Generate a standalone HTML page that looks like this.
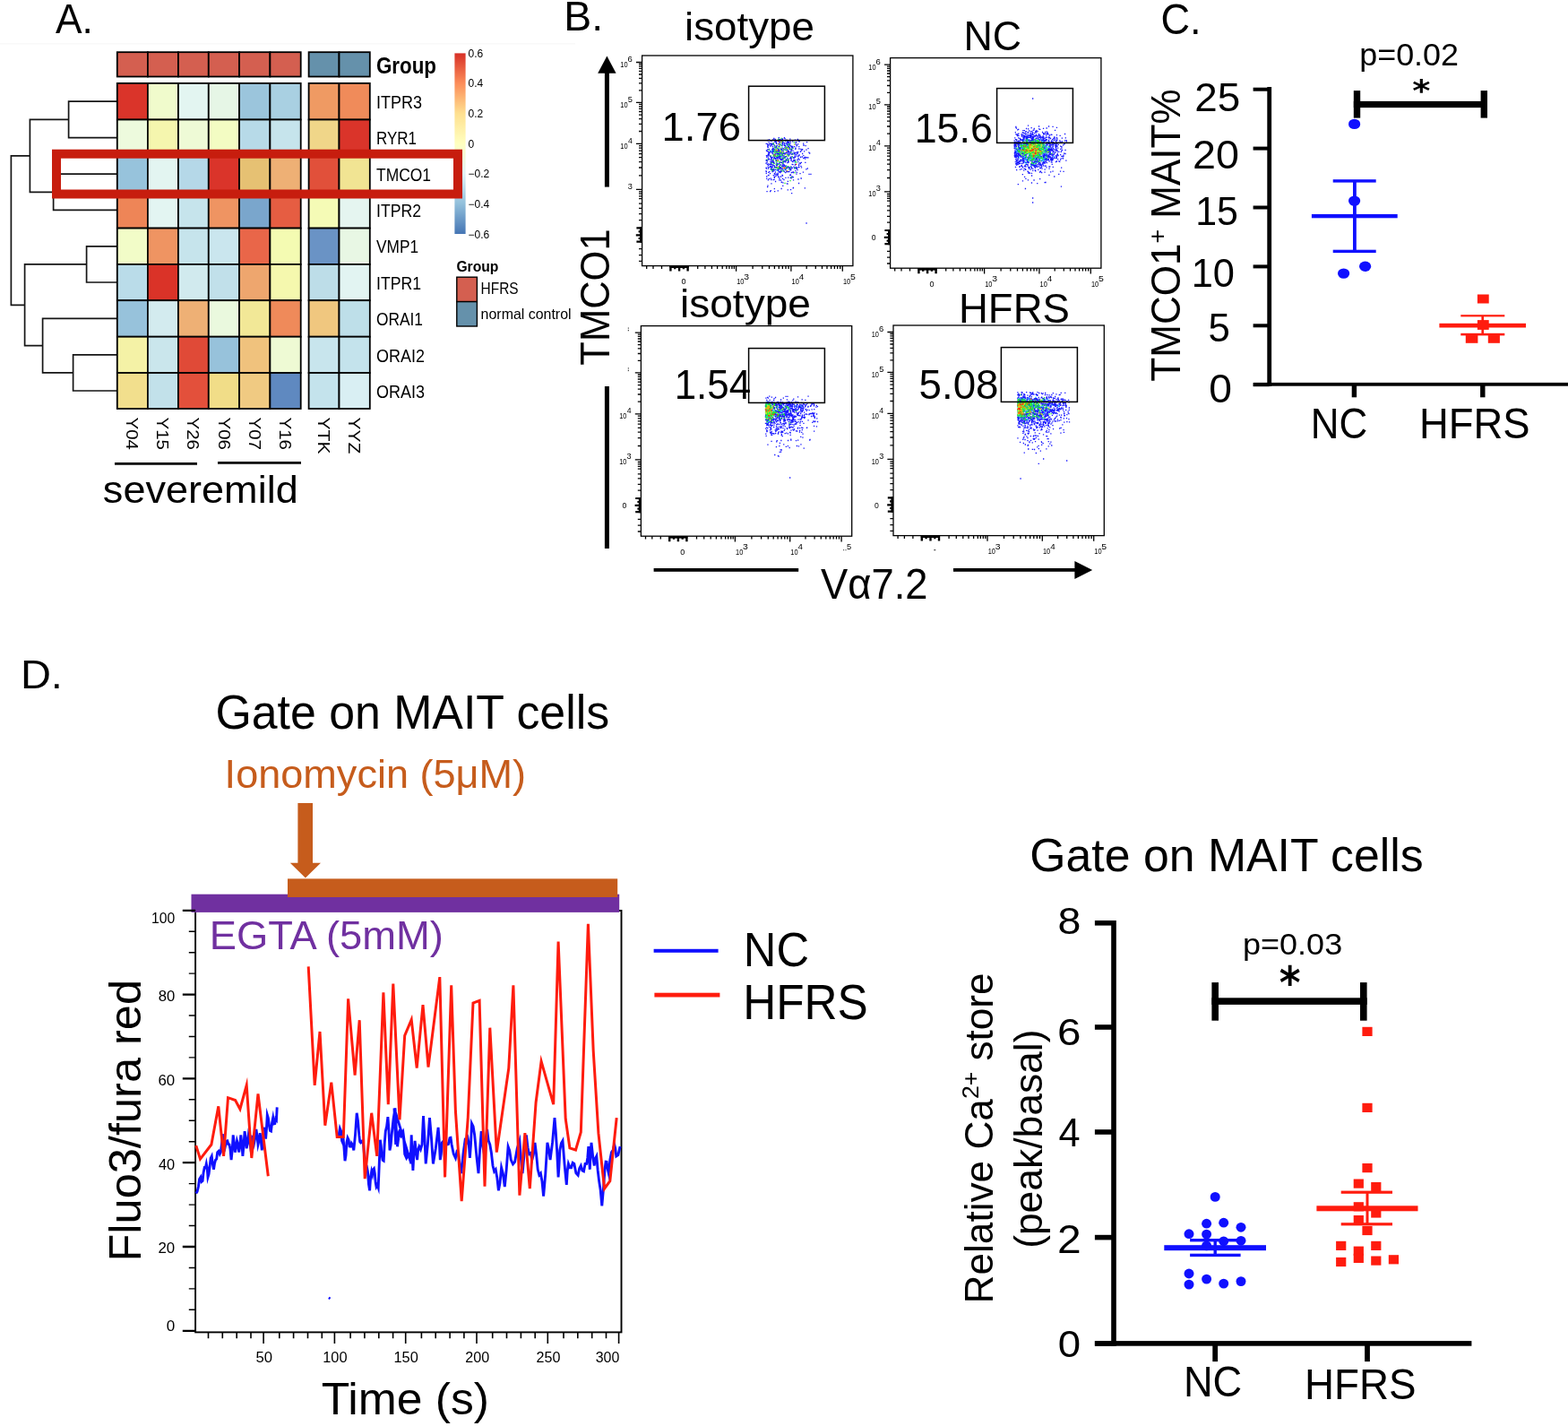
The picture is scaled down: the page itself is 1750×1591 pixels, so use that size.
<!DOCTYPE html>
<html lang="en">
<head>
<meta charset="utf-8">
<title>Figure</title>
<style>
html,body{margin:0;padding:0;background:#fff;}
body{width:1750px;height:1591px;overflow:hidden;}
svg{display:block;font-family:"Liberation Sans", Arial, sans-serif;}
</style>
</head>
<body>
<svg width="1750" height="1591" viewBox="0 0 1750 1591">
<rect width="1750" height="1591" fill="#fff"/>
<g id="panelA">
<rect x="0.0" y="48.0" width="642.0" height="1.6" fill="#f9f9f9"/>
<text x="62.00" y="36.57" font-size="45.76" textLength="41.89" lengthAdjust="spacingAndGlyphs">A.</text>
<path d="M76.6 113.2V153.7M76.6 113.2H130.8M76.6 153.7H130.8M59.6 194.1V234.4M59.6 194.1H130.8M59.6 234.4H130.8M33.4 133.4V214.3M33.4 133.4H76.6M33.4 214.3H59.6M96.6 274.8V315.0M96.6 274.8H130.8M96.6 315.0H130.8M81.6 395.9V436.0M81.6 395.9H130.8M81.6 436.0H130.8M47.6 355.4V415.9M47.6 355.4H130.8M47.6 415.9H81.6M27.6 294.9V385.7M27.6 294.9H96.6M27.6 385.7H47.6M12.4 173.9V340.3M12.4 173.9H33.4M12.4 340.3H27.6" fill="none" stroke="#151515" stroke-width="1.7" stroke-linecap="square"/>
<rect x="130.8" y="58.2" width="34.1" height="27.3" fill="#D45F50" stroke="#000" stroke-width="1.8"/>
<rect x="164.9" y="58.2" width="34.0" height="27.3" fill="#D45F50" stroke="#000" stroke-width="1.8"/>
<rect x="198.9" y="58.2" width="33.9" height="27.3" fill="#D45F50" stroke="#000" stroke-width="1.8"/>
<rect x="232.8" y="58.2" width="34.3" height="27.3" fill="#D45F50" stroke="#000" stroke-width="1.8"/>
<rect x="267.1" y="58.2" width="34.3" height="27.3" fill="#D45F50" stroke="#000" stroke-width="1.8"/>
<rect x="301.4" y="58.2" width="34.3" height="27.3" fill="#D45F50" stroke="#000" stroke-width="1.8"/>
<rect x="344.6" y="58.2" width="33.9" height="27.3" fill="#6591AB" stroke="#000" stroke-width="1.8"/>
<rect x="378.5" y="58.2" width="34.3" height="27.3" fill="#6591AB" stroke="#000" stroke-width="1.8"/>
<rect x="130.8" y="92.9" width="34.1" height="40.6" fill="#DA342A" stroke="#000" stroke-width="1.8"/>
<rect x="164.9" y="92.9" width="34.0" height="40.6" fill="#F0FBCC" stroke="#000" stroke-width="1.8"/>
<rect x="198.9" y="92.9" width="33.9" height="40.6" fill="#E3F5F1" stroke="#000" stroke-width="1.8"/>
<rect x="232.8" y="92.9" width="34.3" height="40.6" fill="#E6F6E6" stroke="#000" stroke-width="1.8"/>
<rect x="267.1" y="92.9" width="34.3" height="40.6" fill="#9BC5DC" stroke="#000" stroke-width="1.8"/>
<rect x="301.4" y="92.9" width="34.3" height="40.6" fill="#A9D0E2" stroke="#000" stroke-width="1.8"/>
<rect x="344.6" y="92.9" width="33.9" height="40.6" fill="#EF9A63" stroke="#000" stroke-width="1.8"/>
<rect x="378.5" y="92.9" width="34.3" height="40.6" fill="#F08B5A" stroke="#000" stroke-width="1.8"/>
<rect x="130.8" y="133.5" width="34.1" height="40.4" fill="#EDFADD" stroke="#000" stroke-width="1.8"/>
<rect x="164.9" y="133.5" width="34.0" height="40.4" fill="#F5F6AE" stroke="#000" stroke-width="1.8"/>
<rect x="198.9" y="133.5" width="33.9" height="40.4" fill="#EEFAD6" stroke="#000" stroke-width="1.8"/>
<rect x="232.8" y="133.5" width="34.3" height="40.4" fill="#F3FCC3" stroke="#000" stroke-width="1.8"/>
<rect x="267.1" y="133.5" width="34.3" height="40.4" fill="#B7DAE8" stroke="#000" stroke-width="1.8"/>
<rect x="301.4" y="133.5" width="34.3" height="40.4" fill="#C6E4EC" stroke="#000" stroke-width="1.8"/>
<rect x="344.6" y="133.5" width="33.9" height="40.4" fill="#F0D689" stroke="#000" stroke-width="1.8"/>
<rect x="378.5" y="133.5" width="34.3" height="40.4" fill="#DA342A" stroke="#000" stroke-width="1.8"/>
<rect x="130.8" y="173.9" width="34.1" height="40.4" fill="#97C3DC" stroke="#000" stroke-width="1.8"/>
<rect x="164.9" y="173.9" width="34.0" height="40.4" fill="#E3F5F1" stroke="#000" stroke-width="1.8"/>
<rect x="198.9" y="173.9" width="33.9" height="40.4" fill="#B5D8E8" stroke="#000" stroke-width="1.8"/>
<rect x="232.8" y="173.9" width="34.3" height="40.4" fill="#DA342A" stroke="#000" stroke-width="1.8"/>
<rect x="267.1" y="173.9" width="34.3" height="40.4" fill="#E6C173" stroke="#000" stroke-width="1.8"/>
<rect x="301.4" y="173.9" width="34.3" height="40.4" fill="#EEB075" stroke="#000" stroke-width="1.8"/>
<rect x="344.6" y="173.9" width="33.9" height="40.4" fill="#E1503A" stroke="#000" stroke-width="1.8"/>
<rect x="378.5" y="173.9" width="34.3" height="40.4" fill="#F1E493" stroke="#000" stroke-width="1.8"/>
<rect x="130.8" y="214.3" width="34.1" height="40.3" fill="#EE8557" stroke="#000" stroke-width="1.8"/>
<rect x="164.9" y="214.3" width="34.0" height="40.3" fill="#E3F5F2" stroke="#000" stroke-width="1.8"/>
<rect x="198.9" y="214.3" width="33.9" height="40.3" fill="#C6E4EC" stroke="#000" stroke-width="1.8"/>
<rect x="232.8" y="214.3" width="34.3" height="40.3" fill="#EF9462" stroke="#000" stroke-width="1.8"/>
<rect x="267.1" y="214.3" width="34.3" height="40.3" fill="#7AA6CC" stroke="#000" stroke-width="1.8"/>
<rect x="301.4" y="214.3" width="34.3" height="40.3" fill="#E65D42" stroke="#000" stroke-width="1.8"/>
<rect x="344.6" y="214.3" width="33.9" height="40.3" fill="#F5FBB6" stroke="#000" stroke-width="1.8"/>
<rect x="378.5" y="214.3" width="34.3" height="40.3" fill="#E5F5F0" stroke="#000" stroke-width="1.8"/>
<rect x="130.8" y="254.6" width="34.1" height="40.3" fill="#F2FCC8" stroke="#000" stroke-width="1.8"/>
<rect x="164.9" y="254.6" width="34.0" height="40.3" fill="#EF9462" stroke="#000" stroke-width="1.8"/>
<rect x="198.9" y="254.6" width="33.9" height="40.3" fill="#C6E4EC" stroke="#000" stroke-width="1.8"/>
<rect x="232.8" y="254.6" width="34.3" height="40.3" fill="#CAE6EE" stroke="#000" stroke-width="1.8"/>
<rect x="267.1" y="254.6" width="34.3" height="40.3" fill="#E96649" stroke="#000" stroke-width="1.8"/>
<rect x="301.4" y="254.6" width="34.3" height="40.3" fill="#F4FBB2" stroke="#000" stroke-width="1.8"/>
<rect x="344.6" y="254.6" width="33.9" height="40.3" fill="#6A93C5" stroke="#000" stroke-width="1.8"/>
<rect x="378.5" y="254.6" width="34.3" height="40.3" fill="#E8F7E4" stroke="#000" stroke-width="1.8"/>
<rect x="130.8" y="294.9" width="34.1" height="40.3" fill="#BADCE9" stroke="#000" stroke-width="1.8"/>
<rect x="164.9" y="294.9" width="34.0" height="40.3" fill="#DA3328" stroke="#000" stroke-width="1.8"/>
<rect x="198.9" y="294.9" width="33.9" height="40.3" fill="#D1EAEE" stroke="#000" stroke-width="1.8"/>
<rect x="232.8" y="294.9" width="34.3" height="40.3" fill="#C1E0EA" stroke="#000" stroke-width="1.8"/>
<rect x="267.1" y="294.9" width="34.3" height="40.3" fill="#EEA66E" stroke="#000" stroke-width="1.8"/>
<rect x="301.4" y="294.9" width="34.3" height="40.3" fill="#F5F8AE" stroke="#000" stroke-width="1.8"/>
<rect x="344.6" y="294.9" width="33.9" height="40.3" fill="#BDDDE8" stroke="#000" stroke-width="1.8"/>
<rect x="378.5" y="294.9" width="34.3" height="40.3" fill="#E2F4F2" stroke="#000" stroke-width="1.8"/>
<rect x="130.8" y="335.2" width="34.1" height="40.5" fill="#97C2DB" stroke="#000" stroke-width="1.8"/>
<rect x="164.9" y="335.2" width="34.0" height="40.5" fill="#D3EBEF" stroke="#000" stroke-width="1.8"/>
<rect x="198.9" y="335.2" width="33.9" height="40.5" fill="#EEB075" stroke="#000" stroke-width="1.8"/>
<rect x="232.8" y="335.2" width="34.3" height="40.5" fill="#EAF9DE" stroke="#000" stroke-width="1.8"/>
<rect x="267.1" y="335.2" width="34.3" height="40.5" fill="#F2E897" stroke="#000" stroke-width="1.8"/>
<rect x="301.4" y="335.2" width="34.3" height="40.5" fill="#EF8A5A" stroke="#000" stroke-width="1.8"/>
<rect x="344.6" y="335.2" width="33.9" height="40.5" fill="#F0C77F" stroke="#000" stroke-width="1.8"/>
<rect x="378.5" y="335.2" width="34.3" height="40.5" fill="#BEDFE9" stroke="#000" stroke-width="1.8"/>
<rect x="130.8" y="375.7" width="34.1" height="40.3" fill="#F4F2A6" stroke="#000" stroke-width="1.8"/>
<rect x="164.9" y="375.7" width="34.0" height="40.3" fill="#CAE6EC" stroke="#000" stroke-width="1.8"/>
<rect x="198.9" y="375.7" width="33.9" height="40.3" fill="#E04A37" stroke="#000" stroke-width="1.8"/>
<rect x="232.8" y="375.7" width="34.3" height="40.3" fill="#97C2DB" stroke="#000" stroke-width="1.8"/>
<rect x="267.1" y="375.7" width="34.3" height="40.3" fill="#F0C27D" stroke="#000" stroke-width="1.8"/>
<rect x="301.4" y="375.7" width="34.3" height="40.3" fill="#EEFAD4" stroke="#000" stroke-width="1.8"/>
<rect x="344.6" y="375.7" width="33.9" height="40.3" fill="#C8E5ED" stroke="#000" stroke-width="1.8"/>
<rect x="378.5" y="375.7" width="34.3" height="40.3" fill="#C4E3EC" stroke="#000" stroke-width="1.8"/>
<rect x="130.8" y="416.0" width="34.1" height="40.0" fill="#F2DF8D" stroke="#000" stroke-width="1.8"/>
<rect x="164.9" y="416.0" width="34.0" height="40.0" fill="#C2E1EA" stroke="#000" stroke-width="1.8"/>
<rect x="198.9" y="416.0" width="33.9" height="40.0" fill="#E3503B" stroke="#000" stroke-width="1.8"/>
<rect x="232.8" y="416.0" width="34.3" height="40.0" fill="#F1DD88" stroke="#000" stroke-width="1.8"/>
<rect x="267.1" y="416.0" width="34.3" height="40.0" fill="#F0CA82" stroke="#000" stroke-width="1.8"/>
<rect x="301.4" y="416.0" width="34.3" height="40.0" fill="#5F89C0" stroke="#000" stroke-width="1.8"/>
<rect x="344.6" y="416.0" width="33.9" height="40.0" fill="#C4E3EC" stroke="#000" stroke-width="1.8"/>
<rect x="378.5" y="416.0" width="34.3" height="40.0" fill="#D9EFF3" stroke="#000" stroke-width="1.8"/>
<text x="420.0" y="81.6" font-size="25" font-weight="bold" textLength="67.0" lengthAdjust="spacingAndGlyphs">Group</text>
<text x="420.0" y="120.8" font-size="21" textLength="51.0" lengthAdjust="spacingAndGlyphs">ITPR3</text>
<text x="420.0" y="161.3" font-size="21" textLength="45.0" lengthAdjust="spacingAndGlyphs">RYR1</text>
<text x="420.0" y="201.7" font-size="21" textLength="61.0" lengthAdjust="spacingAndGlyphs">TMCO1</text>
<text x="420.0" y="242.0" font-size="21" textLength="50.0" lengthAdjust="spacingAndGlyphs">ITPR2</text>
<text x="420.0" y="282.4" font-size="21" textLength="47.0" lengthAdjust="spacingAndGlyphs">VMP1</text>
<text x="420.0" y="322.6" font-size="21" textLength="50.0" lengthAdjust="spacingAndGlyphs">ITPR1</text>
<text x="420.0" y="363.1" font-size="21" textLength="52.0" lengthAdjust="spacingAndGlyphs">ORAI1</text>
<text x="420.0" y="403.5" font-size="21" textLength="54.0" lengthAdjust="spacingAndGlyphs">ORAI2</text>
<text x="420.0" y="443.6" font-size="21" textLength="54.0" lengthAdjust="spacingAndGlyphs">ORAI3</text>
<text x="141.4" y="465.5" font-size="18" textLength="36.5" lengthAdjust="spacingAndGlyphs" transform="rotate(90 141.4 465.5)">Y04</text>
<text x="175.4" y="465.5" font-size="18" textLength="36.5" lengthAdjust="spacingAndGlyphs" transform="rotate(90 175.4 465.5)">Y15</text>
<text x="209.4" y="465.5" font-size="18" textLength="36.5" lengthAdjust="spacingAndGlyphs" transform="rotate(90 209.4 465.5)">Y26</text>
<text x="243.5" y="465.5" font-size="18" textLength="36.5" lengthAdjust="spacingAndGlyphs" transform="rotate(90 243.5 465.5)">Y06</text>
<text x="277.8" y="465.5" font-size="18" textLength="36.5" lengthAdjust="spacingAndGlyphs" transform="rotate(90 277.8 465.5)">Y07</text>
<text x="312.0" y="465.5" font-size="18" textLength="36.5" lengthAdjust="spacingAndGlyphs" transform="rotate(90 312.0 465.5)">Y16</text>
<text x="355.1" y="465.5" font-size="18" textLength="41.0" lengthAdjust="spacingAndGlyphs" transform="rotate(90 355.1 465.5)">YTK</text>
<text x="389.1" y="465.5" font-size="18" textLength="41.0" lengthAdjust="spacingAndGlyphs" transform="rotate(90 389.1 465.5)">YYZ</text>
<defs><linearGradient id="cb" x1="0" y1="0" x2="0" y2="1"><stop offset="0" stop-color="#D73027"/><stop offset="0.1667" stop-color="#FC8D59"/><stop offset="0.3333" stop-color="#FEE090"/><stop offset="0.5" stop-color="#FFFFBF"/><stop offset="0.6667" stop-color="#E0F3F8"/><stop offset="0.8333" stop-color="#91BFDB"/><stop offset="1" stop-color="#4575B4"/></linearGradient></defs>
<rect x="507.4" y="59.4" width="12.2" height="201.6" fill="url(#cb)"/>
<text x="522.6" y="63.8" font-size="12">0.6</text>
<text x="522.6" y="97.4" font-size="12">0.4</text>
<text x="522.6" y="131.1" font-size="12">0.2</text>
<text x="522.6" y="164.7" font-size="12">0</text>
<text x="522.6" y="198.3" font-size="12">−0.2</text>
<text x="522.6" y="231.9" font-size="12">−0.4</text>
<text x="522.6" y="265.6" font-size="12">−0.6</text>
<text x="509.4" y="302.6" font-size="16" font-weight="bold" textLength="47.0" lengthAdjust="spacingAndGlyphs">Group</text>
<rect x="509.8" y="309.2" width="22.6" height="27.4" fill="#D45F50" stroke="#000" stroke-width="1.4"/>
<rect x="509.8" y="336.6" width="22.6" height="27.4" fill="#6591AB" stroke="#000" stroke-width="1.4"/>
<text x="536.6" y="328.4" font-size="18" textLength="42.0" lengthAdjust="spacingAndGlyphs">HFRS</text>
<text x="536.6" y="356.2" font-size="17" textLength="101.0" lengthAdjust="spacingAndGlyphs">normal control</text>
<rect x="63.0" y="171.7" width="448.0" height="44.8" fill="none" stroke="#C71D0E" stroke-width="10"/>
<line x1="128.0" y1="517.4" x2="220.0" y2="517.4" stroke="#000" stroke-width="2.6"/>
<line x1="243.0" y1="516.4" x2="336.0" y2="516.4" stroke="#000" stroke-width="2.6"/>
<text x="114.87" y="561.37" font-size="41.89" textLength="217.88" lengthAdjust="spacingAndGlyphs">severemild</text>
</g>
<g id="panelB">
<text x="629.29" y="34.20" font-size="46.67" textLength="43.78" lengthAdjust="spacingAndGlyphs">B.</text>
<text x="764.03" y="45.39" font-size="43.85" textLength="144.85" lengthAdjust="spacingAndGlyphs">isotype</text>
<text x="1075.42" y="56.14" font-size="46.20" textLength="64.64" lengthAdjust="spacingAndGlyphs">NC</text>
<rect x="690.6" y="61.0" width="263.3" height="258.6" fill="#fff"/>
<rect x="716.6" y="62.0" width="235.3" height="234.6" fill="#fff" stroke="#000" stroke-width="1.3"/>
<path d="M710.0 69.5H716.6M710.0 114.3H716.6M710.0 160.3H716.6M710.0 211.3H716.6M713.0 100.8H716.6M713.0 92.9H716.6M713.0 87.3H716.6M713.0 83.0H716.6M713.0 79.4H716.6M713.0 76.4H716.6M713.0 73.8H716.6M713.0 71.5H716.6M713.0 146.5H716.6M713.0 138.4H716.6M713.0 132.6H716.6M713.0 128.1H716.6M713.0 124.5H716.6M713.0 121.4H716.6M713.0 118.8H716.6M713.0 116.4H716.6M713.0 195.9H716.6M713.0 187.0H716.6M713.0 180.6H716.6M713.0 175.7H716.6M713.0 171.6H716.6M713.0 168.2H716.6M713.0 165.2H716.6M713.0 162.6H716.6M713.0 213.9H716.6M713.0 216.2H716.6M713.0 218.8H716.6M713.0 221.6H716.6M713.0 227.2H716.6M713.0 232.3H716.6M713.0 238.7H716.6M713.0 245.6H716.6M713.0 277.7H716.6M713.0 284.6H716.6M713.0 291.4H716.6M821.6 296.6V302.8M882.9 296.6V302.8M940.3 296.6V302.8M840.1 296.6V300.0M850.8 296.6V300.0M858.5 296.6V300.0M864.4 296.6V300.0M869.3 296.6V300.0M873.4 296.6V300.0M877.0 296.6V300.0M880.1 296.6V300.0M900.2 296.6V300.0M910.3 296.6V300.0M917.5 296.6V300.0M923.0 296.6V300.0M927.6 296.6V300.0M931.4 296.6V300.0M934.7 296.6V300.0M937.7 296.6V300.0M721.7 296.6V300.0M729.0 296.6V300.0M738.5 296.6V300.0M778.7 296.6V300.0M786.9 296.6V300.0M794.4 296.6V300.0M800.6 296.6V300.0M806.2 296.6V300.0M810.9 296.6V300.0M813.9 296.6V300.0M816.9 296.6V300.0M819.4 296.6V300.0" stroke="#000" stroke-width="1.3" fill="none"/>
<path d="M710.4 254.4H716.6M709.8 262.3H716.6M710.4 269.6H716.6M712.6 258.4H716.6M712.6 266.0H716.6" stroke="#000" stroke-width="2.2" fill="none"/>
<path d="M748.4 296.6V302.6M758.1 296.6V302.6M767.6 296.6V302.6M753.2 296.6V300.2M762.9 296.6V300.2" stroke="#000" stroke-width="2.4" fill="none"/>
<rect x="747.4" y="296.6" width="21.2" height="2.4" fill="#000"/>
<rect x="714.0" y="253.4" width="2.6" height="17.2" fill="#000"/>
<text x="692.35" y="75.00" font-size="9.58" textLength="8.22" lengthAdjust="spacingAndGlyphs">10</text><text x="700.63" y="69.01" font-size="9.15" textLength="5.26" lengthAdjust="spacingAndGlyphs">6</text>
<text x="692.35" y="119.80" font-size="9.58" textLength="8.22" lengthAdjust="spacingAndGlyphs">10</text><text x="700.73" y="113.81" font-size="9.29" textLength="5.15" lengthAdjust="spacingAndGlyphs">5</text>
<text x="692.35" y="165.80" font-size="9.58" textLength="8.22" lengthAdjust="spacingAndGlyphs">10</text><text x="700.93" y="159.85" font-size="9.35" textLength="4.80" lengthAdjust="spacingAndGlyphs">4</text>
<text x="700.78" y="210.81" font-size="9.15" textLength="5.10" lengthAdjust="spacingAndGlyphs">3</text>
<text x="760.38" y="317.20" font-size="9.58" textLength="5.05" lengthAdjust="spacingAndGlyphs">0</text>
<text x="822.25" y="317.20" font-size="9.58" textLength="8.22" lengthAdjust="spacingAndGlyphs">10</text><text x="830.34" y="311.61" font-size="9.15" textLength="5.79" lengthAdjust="spacingAndGlyphs">3</text>
<text x="883.55" y="317.20" font-size="9.58" textLength="8.22" lengthAdjust="spacingAndGlyphs">10</text><text x="891.80" y="311.65" font-size="9.35" textLength="5.45" lengthAdjust="spacingAndGlyphs">4</text>
<text x="940.95" y="317.20" font-size="9.58" textLength="8.22" lengthAdjust="spacingAndGlyphs">10</text><text x="948.98" y="311.61" font-size="9.29" textLength="5.85" lengthAdjust="spacingAndGlyphs">5</text>
<path d="M893.6 199.0h1.3M868.9 160.7h1.3M871.6 167.5h1.3M881.8 195.3h1.3M890.1 169.6h1.3M888.0 187.0h1.3M872.9 156.3h1.3M869.4 159.0h1.3M869.7 181.7h1.3M882.7 163.7h1.3M864.9 202.5h1.3M866.3 182.7h1.3M855.1 197.0h1.3M868.5 174.6h1.3M856.3 162.6h1.3M882.2 186.0h1.3M871.7 169.7h1.3M891.0 183.1h1.3M887.3 159.1h1.3M871.3 169.3h1.3M869.4 199.3h1.3M883.1 164.7h1.3M859.8 178.7h1.3M875.1 171.9h1.3M871.5 171.3h1.3M864.9 157.9h1.3M896.1 176.6h1.3M859.8 181.2h1.3M871.6 203.4h1.3M871.9 181.5h1.3M876.3 198.4h1.3M874.2 174.0h1.3M889.4 189.5h1.3M881.1 162.6h1.3M868.5 155.3h1.3M870.2 168.0h1.3M855.9 168.3h1.3M867.6 212.8h1.3M875.9 189.2h1.3M887.9 186.5h1.3M886.6 174.2h1.3M856.1 163.8h1.3M862.9 174.1h1.3M864.8 192.0h1.3M896.2 173.7h1.3M900.6 188.0h1.3M888.7 192.4h1.3M873.2 183.3h1.3M899.9 158.6h1.3M869.4 173.6h1.3M862.2 167.5h1.3M874.5 156.7h1.3M867.0 182.9h1.3M872.7 176.1h1.3M873.1 184.6h1.3M854.6 193.4h1.3M885.5 176.6h1.3M855.2 173.6h1.3M879.9 165.0h1.3M873.2 165.7h1.3M857.7 166.3h1.3M868.9 162.9h1.3M859.9 160.9h1.3M871.0 184.0h1.3M885.2 175.7h1.3M857.1 192.4h1.3M860.2 186.4h1.3M857.9 173.0h1.3M879.5 158.1h1.3M881.0 166.4h1.3M878.0 159.0h1.3M856.2 161.7h1.3M895.0 166.6h1.3M869.5 160.8h1.3M862.1 178.9h1.3M886.8 175.2h1.3M878.3 177.1h1.3M879.5 180.7h1.3M884.0 157.8h1.3M863.3 173.2h1.3M875.2 171.0h1.3M873.6 170.2h1.3M887.1 166.3h1.3M885.3 186.1h1.3M880.1 187.7h1.3M880.3 172.8h1.3M875.2 179.8h1.3M866.3 184.3h1.3M874.8 153.6h1.3M858.5 183.3h1.3M884.8 176.2h1.3M865.1 177.6h1.3M876.1 171.3h1.3M868.1 188.3h1.3M856.1 160.6h1.3M855.7 183.5h1.3M896.2 162.0h1.3M882.5 166.1h1.3M882.7 171.8h1.3M866.8 167.8h1.3M890.5 186.6h1.3M868.0 190.8h1.3M870.9 188.1h1.3M862.9 176.8h1.3M874.8 184.3h1.3M870.7 178.5h1.3M855.1 199.3h1.3M877.9 186.6h1.3M873.8 171.4h1.3M860.2 187.5h1.3M864.0 175.6h1.3M860.4 161.8h1.3M866.1 169.4h1.3M856.8 188.2h1.3M870.1 156.0h1.3M867.3 174.2h1.3M897.7 209.8h1.3M855.3 168.7h1.3M863.6 175.7h1.3M875.1 179.8h1.3M875.6 154.9h1.3M866.2 167.4h1.3M873.4 168.6h1.3M884.9 200.9h1.3M898.2 181.4h1.3M879.0 156.8h1.3M867.5 176.4h1.3M885.8 171.9h1.3M864.0 162.9h1.3M866.5 165.4h1.3M899.3 167.2h1.3M854.8 167.9h1.3M886.8 156.1h1.3M867.5 166.2h1.3M881.8 176.3h1.3M861.3 181.3h1.3M886.4 171.1h1.3M888.6 171.9h1.3M888.1 188.3h1.3M865.3 196.5h1.3M875.8 172.2h1.3M874.8 159.7h1.3M870.7 169.7h1.3M869.4 156.1h1.3M867.9 197.0h1.3M875.9 189.0h1.3M869.8 172.5h1.3M871.1 197.2h1.3M859.2 185.3h1.3M873.3 203.8h1.3M874.5 183.9h1.3M864.8 164.9h1.3M880.2 191.6h1.3M866.1 194.2h1.3M867.0 170.0h1.3M886.7 178.9h1.3M868.0 172.7h1.3M878.8 161.4h1.3M892.2 181.9h1.3M863.8 197.4h1.3M876.7 179.7h1.3M875.6 185.6h1.3M878.2 181.7h1.3M884.6 197.6h1.3M872.1 171.8h1.3M855.0 175.2h1.3M871.2 169.6h1.3M879.9 168.4h1.3M871.9 190.8h1.3M887.2 190.7h1.3M859.0 162.9h1.3M859.0 213.7h1.3M877.6 166.4h1.3M875.3 166.9h1.3M893.7 167.9h1.3M881.6 169.7h1.3M871.2 166.4h1.3M863.9 189.7h1.3M871.0 187.6h1.3M865.9 163.2h1.3M865.9 178.7h1.3M865.2 176.6h1.3M879.0 164.6h1.3M890.2 180.6h1.3M877.3 156.1h1.3M880.4 166.1h1.3M860.3 188.9h1.3M854.9 188.1h1.3M871.4 181.3h1.3M863.7 210.6h1.3M881.9 211.6h1.3M880.7 161.7h1.3M872.1 185.3h1.3M872.4 157.2h1.3M862.6 195.6h1.3M870.6 170.9h1.3M865.9 169.4h1.3M877.2 191.7h1.3M868.6 153.7h1.3M856.3 207.1h1.3M860.2 200.5h1.3M869.8 167.7h1.3M874.5 161.7h1.3M879.1 198.1h1.3M882.5 177.5h1.3M886.7 179.4h1.3M872.1 167.1h1.3M889.1 178.6h1.3M872.2 188.1h1.3M854.7 191.5h1.3M864.0 167.0h1.3M881.6 158.9h1.3M869.0 191.9h1.3M865.1 169.9h1.3M872.8 160.0h1.3M885.0 192.5h1.3M892.7 182.6h1.3M901.3 175.8h1.3M885.7 179.5h1.3M880.5 188.1h1.3M879.2 169.6h1.3M861.4 161.1h1.3M873.6 173.4h1.3M862.2 155.6h1.3M866.6 184.8h1.3M871.2 191.5h1.3M875.3 166.5h1.3M864.5 172.1h1.3M861.9 163.4h1.3M874.9 162.3h1.3M868.5 168.0h1.3M866.8 176.3h1.3M869.1 185.3h1.3M888.6 161.8h1.3M862.1 171.5h1.3M857.1 182.9h1.3M870.9 167.5h1.3M877.7 204.9h1.3M863.3 161.6h1.3M865.8 179.2h1.3M857.8 156.0h1.3M856.8 169.3h1.3M890.3 200.0h1.3M861.3 168.5h1.3M893.4 198.8h1.3M890.7 157.4h1.3M878.7 176.9h1.3M886.4 174.1h1.3M890.7 173.5h1.3M863.7 193.6h1.3M869.2 163.7h1.3M879.6 186.5h1.3M878.1 168.2h1.3M873.1 207.4h1.3M863.6 197.2h1.3M859.9 188.5h1.3M864.5 174.3h1.3M873.3 182.0h1.3M877.7 156.9h1.3M866.1 186.3h1.3M860.0 177.9h1.3M863.4 176.4h1.3M854.6 160.4h1.3M865.2 189.4h1.3M900.1 175.8h1.3M862.7 160.7h1.3M859.6 173.8h1.3M861.0 180.9h1.3M881.0 171.5h1.3M872.1 178.7h1.3M867.6 194.1h1.3M872.8 196.0h1.3M858.9 186.2h1.3M894.7 175.0h1.3M862.3 181.2h1.3M864.1 168.9h1.3M856.5 174.2h1.3M879.0 169.2h1.3M866.0 158.0h1.3M877.6 187.9h1.3M895.0 171.5h1.3M891.5 173.0h1.3M869.1 188.3h1.3M874.7 171.4h1.3M868.5 186.9h1.3M876.1 189.2h1.3M863.3 172.8h1.3M884.0 180.2h1.3M874.9 191.5h1.3M878.4 205.2h1.3M875.1 175.4h1.3M882.7 167.3h1.3M876.1 192.7h1.3M886.3 170.9h1.3M893.7 181.3h1.3M867.6 193.2h1.3M886.7 187.5h1.3M872.5 161.4h1.3M858.1 177.8h1.3M875.6 188.6h1.3M857.3 195.5h1.3M882.3 168.0h1.3M866.4 172.2h1.3M861.9 167.2h1.3M857.3 162.2h1.3M872.3 159.8h1.3M862.9 168.9h1.3M873.6 176.2h1.3M877.0 177.8h1.3M879.0 163.4h1.3M857.5 171.3h1.3M868.3 174.8h1.3M863.7 198.3h1.3M856.6 175.9h1.3M866.0 176.0h1.3M856.6 178.0h1.3M896.0 160.1h1.3M882.8 166.6h1.3M879.2 178.7h1.3M892.4 193.7h1.3M855.7 179.8h1.3M865.9 184.0h1.3M858.0 170.7h1.3M866.4 168.8h1.3M867.5 178.1h1.3M882.3 178.3h1.3M867.7 188.7h1.3M889.0 187.5h1.3M865.7 179.4h1.3M856.5 164.2h1.3M866.6 183.8h1.3M898.1 175.3h1.3M861.9 169.4h1.3M871.4 167.6h1.3M869.0 157.8h1.3M881.0 160.6h1.3M879.8 168.9h1.3M864.5 155.5h1.3M888.8 170.0h1.3M882.5 198.9h1.3M870.4 197.1h1.3M882.1 188.5h1.3M881.8 170.4h1.3M864.2 194.9h1.3M866.0 160.3h1.3M856.6 172.5h1.3M866.3 181.2h1.3M870.0 187.6h1.3M877.2 165.8h1.3M873.9 190.2h1.3M858.0 160.7h1.3M878.1 167.1h1.3M875.9 187.4h1.3M866.6 167.6h1.3M862.5 168.2h1.3M864.4 158.6h1.3M882.4 187.1h1.3M861.4 191.5h1.3M859.9 162.8h1.3M878.2 158.4h1.3M864.0 186.5h1.3M871.4 178.1h1.3M883.7 187.4h1.3M876.5 185.0h1.3M893.3 166.3h1.3M899.2 188.8h1.3M857.6 158.7h1.3M885.1 178.6h1.3M898.0 177.2h1.3M861.1 177.9h1.3M866.9 175.8h1.3M859.8 183.7h1.3M888.7 162.8h1.3M859.7 160.1h1.3M903.0 171.0h1.3M868.3 183.2h1.3M864.0 213.7h1.3M897.0 168.9h1.3M855.5 179.7h1.3M890.4 176.6h1.3M861.2 160.5h1.3M881.7 198.4h1.3M869.1 168.7h1.3M863.1 166.4h1.3M895.8 192.1h1.3M864.5 194.2h1.3M876.7 164.8h1.3M889.7 171.1h1.3M899.4 167.1h1.3M886.9 180.8h1.3M884.2 197.9h1.3M884.1 163.5h1.3M872.5 173.9h1.3M866.6 162.3h1.3M857.6 177.2h1.3M876.8 170.4h1.3M882.4 198.0h1.3M885.4 179.6h1.3M864.0 185.9h1.3M876.0 157.4h1.3M854.5 187.2h1.3M872.5 171.6h1.3M869.8 174.8h1.3M870.5 181.2h1.3M878.6 161.0h1.3M871.8 203.1h1.3M864.3 157.4h1.3M896.6 162.2h1.3M880.0 188.7h1.3M862.0 179.0h1.3M874.2 176.5h1.3M861.9 165.5h1.3M874.1 185.7h1.3M877.8 187.5h1.3M879.8 170.0h1.3M887.3 170.3h1.3M863.6 185.0h1.3M886.1 161.3h1.3M883.3 172.4h1.3M862.6 188.3h1.3M879.3 180.4h1.3M876.1 189.4h1.3M898.8 175.6h1.3M886.8 175.7h1.3M890.2 178.1h1.3M854.6 187.8h1.3M870.8 166.0h1.3M864.7 155.9h1.3M890.9 204.5h1.3M886.1 163.6h1.3M873.4 180.4h1.3M878.4 162.2h1.3M871.5 165.5h1.3M876.6 170.8h1.3M870.9 201.2h1.3M856.0 208.7h1.3M868.2 175.3h1.3M877.6 170.3h1.3M861.4 190.0h1.3M892.9 175.7h1.3M873.2 189.8h1.3M872.9 177.7h1.3M856.6 164.3h1.3M871.3 177.7h1.3M873.0 186.1h1.3M885.9 187.9h1.3M874.3 200.5h1.3M854.3 190.8h1.3M875.3 164.7h1.3M879.2 172.8h1.3M881.5 194.9h1.3M872.8 155.0h1.3M883.5 174.6h1.3M858.9 193.7h1.3M891.3 186.7h1.3M878.4 191.7h1.3M858.2 191.6h1.3M882.5 176.3h1.3M898.5 162.6h1.3M856.2 156.5h1.3M857.1 184.3h1.3M877.0 178.6h1.3M872.9 199.3h1.3M872.4 195.4h1.3M876.0 174.9h1.3M876.9 168.1h1.3M890.4 174.5h1.3M867.7 171.5h1.3M871.0 167.3h1.3M871.2 181.2h1.3M879.1 159.4h1.3M862.0 190.3h1.3M861.7 184.5h1.3M870.0 177.0h1.3M861.2 170.9h1.3M872.8 188.3h1.3M870.1 176.1h1.3M891.1 163.6h1.3M878.6 211.8h1.3M868.9 171.2h1.3M862.3 165.2h1.3M878.7 202.4h1.3M868.3 171.7h1.3M860.3 204.8h1.3M862.7 181.0h1.3M884.0 164.2h1.3M883.0 215.6h1.3M887.4 165.2h1.3M879.4 186.2h1.3M860.2 157.4h1.3M870.1 176.9h1.3M902.4 194.4h1.3M878.9 179.3h1.3M881.2 155.2h1.3M879.3 191.5h1.3M857.1 171.5h1.3M878.8 171.5h1.3M862.8 190.8h1.3M865.7 164.0h1.3M863.4 200.4h1.3M855.3 181.6h1.3M859.5 199.1h1.3M854.3 182.2h1.3M871.1 157.2h1.3M862.2 179.1h1.3M866.9 189.6h1.3M854.8 173.6h1.3M875.1 161.3h1.3M874.6 161.2h1.3M872.7 195.9h1.3M861.9 186.4h1.3M888.3 194.1h1.3M870.3 192.1h1.3M870.0 172.7h1.3M888.6 174.2h1.3M862.6 200.7h1.3M873.3 177.6h1.3M873.3 158.8h1.3M864.8 171.6h1.3M876.8 174.7h1.3M868.4 189.6h1.3M868.1 160.6h1.3M868.0 178.6h1.3M856.1 163.9h1.3M871.5 210.5h1.3M863.1 182.2h1.3M874.3 179.3h1.3M864.1 187.0h1.3M862.3 184.4h1.3M887.2 183.4h1.3M876.2 174.8h1.3M873.8 175.8h1.3M875.6 176.1h1.3M873.7 166.1h1.3M892.8 169.1h1.3M883.3 197.0h1.3M877.8 167.1h1.3M886.2 186.8h1.3M882.2 169.0h1.3M860.6 186.3h1.3M859.0 170.2h1.3M891.3 166.0h1.3M869.1 171.1h1.3M863.0 189.3h1.3M876.0 162.6h1.3M876.4 188.4h1.3M855.4 168.6h1.3M886.4 187.5h1.3M863.8 156.2h1.3M889.6 155.5h1.3M862.9 180.4h1.3M871.1 174.6h1.3M884.3 165.2h1.3M875.5 164.2h1.3M896.9 176.0h1.3M880.9 188.2h1.3M886.5 178.7h1.3M875.6 171.0h1.3M867.0 176.6h1.3M888.1 158.7h1.3M855.4 213.6h1.3M886.1 171.6h1.3M872.9 159.5h1.3M859.0 160.6h1.3M872.3 167.7h1.3M881.5 189.9h1.3M860.1 185.3h1.3M877.3 190.7h1.3M865.8 159.7h1.3M866.5 195.4h1.3M881.8 175.2h1.3M876.0 180.9h1.3M874.8 154.1h1.3M883.5 183.3h1.3M869.2 157.5h1.3M854.7 178.3h1.3M854.6 193.4h1.3M861.7 188.7h1.3M862.0 165.6h1.3M887.2 166.2h1.3M875.1 161.2h1.3M861.1 166.8h1.3M890.9 184.8h1.3M869.5 186.6h1.3M877.4 160.8h1.3M869.2 155.6h1.3M870.8 189.8h1.3M869.2 155.7h1.3M880.1 159.1h1.3M865.6 187.1h1.3M861.3 175.4h1.3M885.5 170.2h1.3M857.2 173.0h1.3M862.4 190.8h1.3M862.5 159.9h1.3M864.5 177.1h1.3M866.4 171.2h1.3M859.1 168.5h1.3M859.9 189.2h1.3M883.2 192.4h1.3M871.5 155.2h1.3M865.5 167.8h1.3M890.0 160.8h1.3M870.0 192.5h1.3M858.8 186.2h1.3M880.7 171.2h1.3M854.6 179.3h1.3M884.1 171.2h1.3M890.5 174.4h1.3M873.0 158.5h1.3M870.7 161.7h1.3M879.2 181.0h1.3M861.5 175.6h1.3M864.2 164.5h1.3M882.5 179.7h1.3M856.5 186.2h1.3M857.7 199.6h1.3M874.3 180.7h1.3M878.1 168.5h1.3M874.4 173.8h1.3M859.6 212.7h1.3M880.7 164.6h1.3M867.9 167.3h1.3M871.9 177.6h1.3M883.6 171.8h1.3M879.3 191.5h1.3M880.9 176.7h1.3M891.0 184.7h1.3M872.4 162.6h1.3M887.4 172.6h1.3M876.6 159.6h1.3M860.5 176.4h1.3M864.2 186.4h1.3M872.4 177.6h1.3M904.3 194.3h1.3M861.0 169.5h1.3M860.0 176.0h1.3M861.2 183.3h1.3M868.8 166.8h1.3M856.1 166.7h1.3M859.7 182.3h1.3M858.8 174.6h1.3M882.3 163.0h1.3M857.3 169.5h1.3M863.8 182.1h1.3M869.3 201.0h1.3M878.5 169.0h1.3M892.9 175.1h1.3M867.5 195.1h1.3M871.6 162.6h1.3M868.7 172.5h1.3M881.1 189.8h1.3M870.8 186.7h1.3M878.2 186.3h1.3M879.0 181.2h1.3M861.1 179.6h1.3M859.5 174.9h1.3M857.5 170.4h1.3M881.2 195.6h1.3M884.6 209.8h1.3M881.3 157.1h1.3M869.9 191.5h1.3M868.6 197.9h1.3M857.5 186.9h1.3M865.8 179.1h1.3M878.6 168.4h1.3M886.7 184.2h1.3M856.8 195.7h1.3M894.2 167.5h1.3M862.1 166.2h1.3M861.2 188.7h1.3M887.8 160.9h1.3M867.8 168.3h1.3M884.2 180.6h1.3M891.6 157.8h1.3M866.7 169.9h1.3M869.1 176.7h1.3M892.9 169.3h1.3M901.4 165.7h1.3M884.6 192.0h1.3M874.2 171.4h1.3M884.3 183.6h1.3M865.2 157.3h1.3M880.5 187.0h1.3M860.3 169.0h1.3M872.3 171.1h1.3M879.7 178.5h1.3M869.1 182.2h1.3M876.9 164.1h1.3M883.1 166.7h1.3M879.7 173.7h1.3M867.2 175.6h1.3M873.4 173.9h1.3M866.7 174.0h1.3M882.1 189.7h1.3M872.3 172.7h1.3M891.6 178.2h1.3M870.3 184.1h1.3M893.9 186.9h1.3M868.8 169.5h1.3M861.8 189.0h1.3M879.4 173.8h1.3M890.9 156.5h1.3M893.3 185.4h1.3M856.7 200.8h1.3M884.8 209.3h1.3M859.2 180.4h1.3M882.7 192.7h1.3M870.4 173.8h1.3M869.7 174.8h1.3M884.4 168.2h1.3M875.9 165.6h1.3M863.1 154.4h1.3M902.2 170.1h1.3M879.8 163.3h1.3M899.4 249.0h1.3" stroke="#1818ff" stroke-width="1.3" fill="none"/>
<path d="M866.6 190.4h1.3M864.8 173.3h1.3M874.4 189.1h1.3M877.3 167.9h1.3M877.9 175.7h1.3M876.9 161.7h1.3M876.4 188.2h1.3M876.3 167.5h1.3M886.6 181.6h1.3M871.3 175.2h1.3M870.5 167.7h1.3M867.6 173.4h1.3M864.3 168.2h1.3M860.5 168.3h1.3M872.5 164.5h1.3M870.9 173.3h1.3M860.8 168.5h1.3" stroke="#30d8f8" stroke-width="1.3" fill="none"/>
<path d="M880.3 162.2h1.3M867.1 165.4h1.3M871.4 186.2h1.3M886.5 192.7h1.3M884.4 172.1h1.3M870.2 173.2h1.3M876.5 164.1h1.3M865.7 181.2h1.3M869.4 180.3h1.3M877.7 172.8h1.3M881.4 186.6h1.3M866.0 174.5h1.3M873.6 167.3h1.3M872.9 179.8h1.3M869.2 165.2h1.3M864.8 186.8h1.3M869.8 170.6h1.3M879.5 165.3h1.3M878.0 164.4h1.3M871.8 190.2h1.3M862.5 172.6h1.3M868.4 170.3h1.3M865.6 183.3h1.3M873.1 182.0h1.3M861.1 190.3h1.3M884.3 165.3h1.3M864.5 168.9h1.3M871.5 176.1h1.3M876.0 156.9h1.3M875.8 178.3h1.3M862.7 182.8h1.3M879.7 178.4h1.3M885.6 158.9h1.3M874.1 176.6h1.3M879.9 160.8h1.3M869.7 181.0h1.3M868.2 183.6h1.3M876.1 188.0h1.3M860.7 181.7h1.3M879.7 173.6h1.3M877.9 178.9h1.3M871.6 162.4h1.3M867.6 163.9h1.3M886.8 187.5h1.3M866.7 169.8h1.3M865.1 167.2h1.3M869.3 172.8h1.3M863.7 167.4h1.3M871.8 173.2h1.3M859.4 173.9h1.3M864.4 163.1h1.3M881.4 201.6h1.3M878.4 185.7h1.3M875.6 167.0h1.3M862.1 188.9h1.3M873.5 170.3h1.3M859.4 188.6h1.3M881.9 166.7h1.3M873.8 173.6h1.3M872.2 156.6h1.3M868.7 187.4h1.3M857.5 167.4h1.3M866.4 187.4h1.3M871.2 159.1h1.3M873.7 191.1h1.3M865.7 166.8h1.3M867.0 187.1h1.3M876.9 186.4h1.3M864.3 164.6h1.3M862.4 160.2h1.3M864.4 174.0h1.3M873.2 179.9h1.3M879.3 165.8h1.3M865.9 169.8h1.3M862.6 160.5h1.3M865.5 174.3h1.3M867.6 188.3h1.3M862.6 178.4h1.3M855.6 178.1h1.3M886.9 179.9h1.3M869.4 161.1h1.3M875.3 175.8h1.3M867.0 173.0h1.3M864.3 170.8h1.3M872.9 157.3h1.3M862.7 173.9h1.3M863.1 169.9h1.3M882.7 197.9h1.3M867.7 174.1h1.3M872.2 171.4h1.3M870.8 169.2h1.3M865.1 179.3h1.3M870.2 161.4h1.3M875.4 204.4h1.3M882.4 170.1h1.3M880.6 188.7h1.3M888.2 181.0h1.3M871.4 154.4h1.3M870.4 169.4h1.3M869.8 184.1h1.3M867.4 180.0h1.3M868.3 155.1h1.3M883.3 175.5h1.3" stroke="#22ee30" stroke-width="1.3" fill="none"/>
<path d="M879.3 165.4h1.3M886.0 161.3h1.3M870.1 167.9h1.3M876.3 165.1h1.3M870.3 168.8h1.3M872.6 169.7h1.3M876.2 172.2h1.3M878.6 166.2h1.3M878.2 174.4h1.3M871.2 165.1h1.3" stroke="#d0f020" stroke-width="1.3" fill="none"/>
<path d="M867.5 186.3h1.3M865.9 167.5h1.3M868.9 161.0h1.3M871.4 158.1h1.3M867.2 167.7h1.3M873.8 187.5h1.3M877.3 168.8h1.3M867.2 178.7h1.3M867.3 179.3h1.3M877.9 190.6h1.3" stroke="#ffa010" stroke-width="1.3" fill="none"/>
<path d="M888.0 183.3h1.3M867.9 157.6h1.3M875.3 187.7h1.3M875.0 187.2h1.3M864.2 173.0h1.3" stroke="#ff2a10" stroke-width="1.3" fill="none"/>
<rect x="835.6" y="96.2" width="84.8" height="60.4" fill="none" stroke="#000" stroke-width="1.5"/>
<text x="738.60" y="156.95" font-size="45.07" textLength="88.27" lengthAdjust="spacingAndGlyphs">1.76</text>
<rect x="967.6" y="63.6" width="263.3" height="258.6" fill="#fff"/>
<rect x="993.6" y="64.6" width="235.3" height="234.6" fill="#fff" stroke="#000" stroke-width="1.3"/>
<path d="M987.0 72.1H993.6M987.0 116.9H993.6M987.0 162.9H993.6M987.0 213.9H993.6M990.0 103.4H993.6M990.0 95.5H993.6M990.0 89.9H993.6M990.0 85.6H993.6M990.0 82.0H993.6M990.0 79.0H993.6M990.0 76.4H993.6M990.0 74.1H993.6M990.0 149.1H993.6M990.0 141.0H993.6M990.0 135.2H993.6M990.0 130.7H993.6M990.0 127.1H993.6M990.0 124.0H993.6M990.0 121.4H993.6M990.0 119.0H993.6M990.0 198.5H993.6M990.0 189.6H993.6M990.0 183.2H993.6M990.0 178.3H993.6M990.0 174.2H993.6M990.0 170.8H993.6M990.0 167.8H993.6M990.0 165.2H993.6M990.0 216.5H993.6M990.0 218.8H993.6M990.0 221.4H993.6M990.0 224.2H993.6M990.0 229.8H993.6M990.0 234.9H993.6M990.0 241.3H993.6M990.0 248.2H993.6M990.0 280.3H993.6M990.0 287.2H993.6M990.0 294.0H993.6M1098.6 299.2V305.4M1159.9 299.2V305.4M1217.3 299.2V305.4M1117.1 299.2V302.6M1127.8 299.2V302.6M1135.5 299.2V302.6M1141.4 299.2V302.6M1146.3 299.2V302.6M1150.4 299.2V302.6M1154.0 299.2V302.6M1157.1 299.2V302.6M1177.2 299.2V302.6M1187.3 299.2V302.6M1194.5 299.2V302.6M1200.0 299.2V302.6M1204.6 299.2V302.6M1208.4 299.2V302.6M1211.7 299.2V302.6M1214.7 299.2V302.6M998.7 299.2V302.6M1006.0 299.2V302.6M1015.5 299.2V302.6M1055.7 299.2V302.6M1063.9 299.2V302.6M1071.4 299.2V302.6M1077.6 299.2V302.6M1083.2 299.2V302.6M1087.9 299.2V302.6M1090.9 299.2V302.6M1093.9 299.2V302.6M1096.4 299.2V302.6" stroke="#000" stroke-width="1.3" fill="none"/>
<path d="M987.4 257.0H993.6M986.8 264.9H993.6M987.4 272.2H993.6M989.6 261.0H993.6M989.6 268.6H993.6" stroke="#000" stroke-width="2.2" fill="none"/>
<path d="M1025.4 299.2V305.2M1035.1 299.2V305.2M1044.6 299.2V305.2M1030.2 299.2V302.8M1039.9 299.2V302.8" stroke="#000" stroke-width="2.4" fill="none"/>
<rect x="1024.4" y="299.2" width="21.2" height="2.4" fill="#000"/>
<rect x="991.0" y="256.0" width="2.6" height="17.2" fill="#000"/>
<text x="969.35" y="77.60" font-size="9.58" textLength="8.22" lengthAdjust="spacingAndGlyphs">10</text><text x="977.63" y="71.61" font-size="9.15" textLength="5.26" lengthAdjust="spacingAndGlyphs">6</text>
<text x="969.35" y="122.40" font-size="9.58" textLength="8.22" lengthAdjust="spacingAndGlyphs">10</text><text x="977.73" y="116.41" font-size="9.29" textLength="5.15" lengthAdjust="spacingAndGlyphs">5</text>
<text x="969.35" y="168.40" font-size="9.58" textLength="8.22" lengthAdjust="spacingAndGlyphs">10</text><text x="977.93" y="162.45" font-size="9.35" textLength="4.80" lengthAdjust="spacingAndGlyphs">4</text>
<text x="969.35" y="219.40" font-size="9.58" textLength="8.22" lengthAdjust="spacingAndGlyphs">10</text><text x="977.78" y="213.41" font-size="9.15" textLength="5.10" lengthAdjust="spacingAndGlyphs">3</text>
<text x="972.70" y="268.20" font-size="9.58" textLength="4.82" lengthAdjust="spacingAndGlyphs">0</text>
<text x="1037.38" y="319.80" font-size="9.58" textLength="5.05" lengthAdjust="spacingAndGlyphs">0</text>
<text x="1099.25" y="319.80" font-size="9.58" textLength="8.22" lengthAdjust="spacingAndGlyphs">10</text><text x="1107.34" y="314.21" font-size="9.15" textLength="5.79" lengthAdjust="spacingAndGlyphs">3</text>
<text x="1160.55" y="319.80" font-size="9.58" textLength="8.22" lengthAdjust="spacingAndGlyphs">10</text><text x="1168.80" y="314.25" font-size="9.35" textLength="5.45" lengthAdjust="spacingAndGlyphs">4</text>
<text x="1217.95" y="319.80" font-size="9.58" textLength="8.22" lengthAdjust="spacingAndGlyphs">10</text><text x="1225.98" y="314.21" font-size="9.29" textLength="5.85" lengthAdjust="spacingAndGlyphs">5</text>
<path d="M1142.9 197.3h1.3M1149.1 173.3h1.3M1142.5 156.0h1.3M1164.4 149.8h1.3M1166.9 162.8h1.3M1160.1 174.6h1.3M1143.9 178.0h1.3M1135.7 161.4h1.3M1159.0 177.3h1.3M1144.5 183.5h1.3M1161.4 164.6h1.3M1133.8 163.3h1.3M1145.2 158.3h1.3M1169.6 153.4h1.3M1159.1 153.3h1.3M1147.3 155.8h1.3M1155.2 167.7h1.3M1168.3 160.1h1.3M1137.5 173.9h1.3M1142.0 181.6h1.3M1170.2 168.7h1.3M1178.6 168.1h1.3M1166.3 173.0h1.3M1136.4 168.4h1.3M1164.3 174.9h1.3M1133.6 169.0h1.3M1140.9 147.8h1.3M1134.6 167.6h1.3M1154.3 151.2h1.3M1171.4 168.9h1.3M1148.5 172.6h1.3M1139.0 174.3h1.3M1150.2 167.8h1.3M1155.1 176.5h1.3M1165.5 164.0h1.3M1147.6 181.2h1.3M1136.3 151.3h1.3M1159.0 180.5h1.3M1141.2 145.7h1.3M1150.4 161.0h1.3M1141.0 156.6h1.3M1160.0 199.6h1.3M1153.4 144.9h1.3M1170.4 188.2h1.3M1158.9 143.9h1.3M1157.4 146.7h1.3M1140.7 194.6h1.3M1177.9 157.5h1.3M1134.0 161.3h1.3M1167.0 174.3h1.3M1162.9 169.2h1.3M1148.6 159.6h1.3M1146.2 183.4h1.3M1154.8 190.0h1.3M1151.8 172.2h1.3M1139.6 185.3h1.3M1163.7 175.4h1.3M1174.4 191.1h1.3M1165.5 168.0h1.3M1135.3 149.6h1.3M1170.8 159.4h1.3M1158.6 155.2h1.3M1150.7 175.4h1.3M1163.8 181.8h1.3M1165.3 165.6h1.3M1133.8 143.1h1.3M1155.9 156.3h1.3M1153.2 158.0h1.3M1151.3 156.5h1.3M1140.9 152.8h1.3M1136.2 175.6h1.3M1135.3 181.6h1.3M1149.3 178.6h1.3M1135.8 159.1h1.3M1132.0 172.9h1.3M1139.4 165.3h1.3M1173.0 161.4h1.3M1164.2 172.9h1.3M1136.6 160.8h1.3M1136.2 172.4h1.3M1160.9 168.9h1.3M1150.8 165.6h1.3M1159.9 174.4h1.3M1166.0 156.8h1.3M1146.4 159.9h1.3M1177.0 160.8h1.3M1147.4 159.1h1.3M1135.6 166.7h1.3M1160.8 191.2h1.3M1170.9 175.9h1.3M1159.9 183.5h1.3M1132.3 161.9h1.3M1155.9 177.0h1.3M1161.0 175.2h1.3M1154.1 148.7h1.3M1169.3 159.6h1.3M1133.3 149.6h1.3M1174.8 169.6h1.3M1147.8 187.1h1.3M1166.3 203.5h1.3M1165.5 185.1h1.3M1164.3 163.0h1.3M1140.0 165.7h1.3M1182.9 178.4h1.3M1138.5 173.2h1.3M1174.4 141.4h1.3M1166.9 151.2h1.3M1150.4 160.4h1.3M1186.4 173.1h1.3M1132.8 168.7h1.3M1159.6 170.6h1.3M1135.1 174.5h1.3M1154.9 175.3h1.3M1144.9 175.5h1.3M1158.8 175.8h1.3M1140.4 150.9h1.3M1148.5 151.5h1.3M1140.1 185.9h1.3M1155.1 147.6h1.3M1145.9 177.9h1.3M1165.4 182.4h1.3M1151.7 174.1h1.3M1161.6 184.3h1.3M1158.4 165.1h1.3M1161.6 166.6h1.3M1154.3 171.1h1.3M1157.9 179.7h1.3M1151.5 158.0h1.3M1159.6 170.3h1.3M1161.3 171.2h1.3M1163.6 177.3h1.3M1140.7 169.3h1.3M1134.4 182.3h1.3M1151.0 174.2h1.3M1159.9 192.0h1.3M1149.0 151.6h1.3M1131.5 165.4h1.3M1150.8 174.2h1.3M1146.3 183.6h1.3M1170.7 175.1h1.3M1174.6 186.4h1.3M1162.5 156.4h1.3M1160.6 184.0h1.3M1177.5 164.0h1.3M1142.2 162.4h1.3M1140.5 163.1h1.3M1177.8 161.3h1.3M1157.9 162.1h1.3M1144.2 199.4h1.3M1187.4 160.5h1.3M1154.6 175.9h1.3M1141.0 162.9h1.3M1154.8 184.4h1.3M1165.4 154.3h1.3M1184.2 163.6h1.3M1174.3 176.3h1.3M1170.4 163.5h1.3M1143.4 173.4h1.3M1147.2 181.5h1.3M1166.4 180.0h1.3M1153.6 171.4h1.3M1172.7 180.8h1.3M1143.9 159.4h1.3M1155.2 146.4h1.3M1153.8 168.2h1.3M1159.3 178.7h1.3M1152.1 148.0h1.3M1141.3 162.1h1.3M1131.6 173.8h1.3M1140.5 170.1h1.3M1155.5 181.4h1.3M1150.0 179.2h1.3M1162.5 179.3h1.3M1161.3 153.6h1.3M1179.4 159.7h1.3M1151.6 149.5h1.3M1145.1 178.6h1.3M1187.9 149.5h1.3M1142.7 176.1h1.3M1166.5 177.6h1.3M1165.7 167.7h1.3M1134.6 173.6h1.3M1165.1 163.1h1.3M1133.4 175.8h1.3M1155.4 162.1h1.3M1177.2 170.0h1.3M1161.9 175.6h1.3M1173.4 181.2h1.3M1187.2 160.8h1.3M1153.8 181.0h1.3M1143.6 177.7h1.3M1152.1 190.4h1.3M1143.5 177.4h1.3M1137.8 165.0h1.3M1172.5 150.1h1.3M1151.0 176.4h1.3M1133.5 183.1h1.3M1136.3 173.7h1.3M1156.8 168.5h1.3M1143.0 151.9h1.3M1146.9 177.3h1.3M1158.2 189.4h1.3M1136.8 182.6h1.3M1132.5 170.4h1.3M1154.5 177.3h1.3M1135.2 168.1h1.3M1143.0 173.9h1.3M1144.1 161.0h1.3M1173.9 171.2h1.3M1144.2 186.0h1.3M1182.2 157.0h1.3M1163.7 173.7h1.3M1165.4 168.1h1.3M1167.8 156.0h1.3M1183.1 166.3h1.3M1143.9 175.9h1.3M1170.5 162.3h1.3M1141.4 181.8h1.3M1173.1 168.2h1.3M1133.0 161.7h1.3M1148.4 164.5h1.3M1175.2 154.4h1.3M1138.4 159.0h1.3M1148.7 159.4h1.3M1154.8 168.2h1.3M1176.1 197.0h1.3M1147.2 159.2h1.3M1141.4 163.8h1.3M1143.9 147.2h1.3M1147.0 155.8h1.3M1176.1 152.9h1.3M1170.4 186.0h1.3M1156.7 184.2h1.3M1138.7 174.6h1.3M1147.8 156.3h1.3M1166.5 157.2h1.3M1174.2 164.1h1.3M1174.4 173.0h1.3M1174.8 168.1h1.3M1138.8 156.3h1.3M1172.8 161.9h1.3M1145.2 153.4h1.3M1151.6 184.3h1.3M1139.3 170.9h1.3M1142.7 145.6h1.3M1157.2 178.0h1.3M1137.3 171.9h1.3M1154.4 161.1h1.3M1171.9 178.5h1.3M1142.7 185.7h1.3M1154.9 158.1h1.3M1165.1 162.8h1.3M1163.4 183.1h1.3M1152.8 182.3h1.3M1137.0 186.1h1.3M1147.0 143.9h1.3M1176.9 145.3h1.3M1168.0 176.3h1.3M1134.0 172.3h1.3M1138.2 158.8h1.3M1169.9 153.1h1.3M1152.8 156.2h1.3M1152.4 156.0h1.3M1133.2 163.8h1.3M1186.2 174.7h1.3M1161.0 160.3h1.3M1160.4 175.0h1.3M1158.5 166.9h1.3M1170.3 195.4h1.3M1141.1 174.4h1.3M1152.5 145.3h1.3M1135.2 158.5h1.3M1159.4 153.3h1.3M1144.6 169.8h1.3M1141.2 167.0h1.3M1131.7 158.7h1.3M1136.2 163.6h1.3M1170.7 167.0h1.3M1148.0 146.0h1.3M1168.8 167.7h1.3M1177.8 180.6h1.3M1133.8 174.8h1.3M1142.4 188.1h1.3M1150.2 148.8h1.3M1149.8 178.5h1.3M1147.8 188.0h1.3M1179.0 162.1h1.3M1180.1 165.2h1.3M1145.3 162.5h1.3M1148.6 193.3h1.3M1163.1 183.5h1.3M1167.6 153.2h1.3M1138.3 179.7h1.3M1162.7 153.5h1.3M1158.4 155.6h1.3M1141.4 164.3h1.3M1173.0 167.4h1.3M1140.6 148.0h1.3M1164.7 161.5h1.3M1176.6 169.7h1.3M1137.0 171.1h1.3M1165.3 175.3h1.3M1140.1 156.4h1.3M1152.4 170.3h1.3M1140.8 161.4h1.3M1147.4 164.1h1.3M1138.2 155.4h1.3M1153.9 163.8h1.3M1160.0 173.2h1.3M1169.7 174.0h1.3M1173.3 167.0h1.3M1152.0 149.6h1.3M1133.9 178.7h1.3M1171.1 169.4h1.3M1131.7 171.0h1.3M1151.6 178.8h1.3M1140.5 164.9h1.3M1148.5 171.8h1.3M1154.6 180.0h1.3M1144.4 156.5h1.3M1161.9 169.8h1.3M1169.7 175.0h1.3M1179.3 163.3h1.3M1131.6 163.5h1.3M1155.6 177.6h1.3M1146.7 152.6h1.3M1132.3 172.2h1.3M1170.0 174.3h1.3M1150.9 168.1h1.3M1167.3 169.1h1.3M1166.9 155.8h1.3M1151.3 146.9h1.3M1157.1 151.8h1.3M1174.5 177.3h1.3M1139.2 167.1h1.3M1137.4 164.6h1.3M1152.9 160.1h1.3M1148.2 156.1h1.3M1134.0 189.7h1.3M1137.0 179.8h1.3M1153.8 185.3h1.3M1132.0 175.2h1.3M1173.7 167.4h1.3M1163.0 160.6h1.3M1145.1 183.4h1.3M1159.2 151.9h1.3M1149.4 179.2h1.3M1160.9 160.2h1.3M1153.6 143.3h1.3M1152.8 183.0h1.3M1138.7 160.2h1.3M1166.2 159.4h1.3M1142.9 148.8h1.3M1173.5 159.1h1.3M1147.9 176.5h1.3M1150.9 196.0h1.3M1162.9 159.7h1.3M1140.7 174.0h1.3M1139.1 160.8h1.3M1159.0 179.1h1.3M1170.7 171.4h1.3M1176.7 160.6h1.3M1132.9 161.7h1.3M1145.1 167.1h1.3M1168.6 168.2h1.3M1135.0 178.8h1.3M1157.2 175.2h1.3M1137.0 160.2h1.3M1138.5 179.8h1.3M1155.7 180.3h1.3M1135.7 171.6h1.3M1133.4 175.7h1.3M1143.9 173.5h1.3M1137.3 168.5h1.3M1170.2 157.8h1.3M1163.8 173.4h1.3M1136.4 164.4h1.3M1159.0 158.4h1.3M1137.2 173.4h1.3M1169.1 169.9h1.3M1166.7 162.6h1.3M1135.7 205.7h1.3M1141.3 174.4h1.3M1163.5 157.1h1.3M1183.0 172.6h1.3M1159.2 162.5h1.3M1141.9 154.2h1.3M1132.6 172.1h1.3M1136.4 181.1h1.3M1156.3 145.7h1.3M1142.4 169.0h1.3M1172.0 163.9h1.3M1149.7 158.4h1.3M1144.4 174.8h1.3M1139.0 159.9h1.3M1166.2 149.2h1.3M1150.2 160.1h1.3M1178.6 167.2h1.3M1141.9 158.2h1.3M1145.7 155.9h1.3M1145.1 164.9h1.3M1155.3 180.3h1.3M1187.0 171.1h1.3M1140.8 158.8h1.3M1141.9 153.1h1.3M1157.3 153.5h1.3M1175.6 172.0h1.3M1169.3 149.5h1.3M1148.1 187.7h1.3M1159.2 155.3h1.3M1167.1 162.8h1.3M1165.5 156.3h1.3M1135.1 167.4h1.3M1157.7 158.1h1.3M1140.6 171.2h1.3M1163.9 143.4h1.3M1182.8 158.5h1.3M1164.1 177.6h1.3M1165.9 166.6h1.3M1165.4 178.0h1.3M1139.7 161.3h1.3M1176.1 156.7h1.3M1171.6 172.6h1.3M1165.3 173.1h1.3M1157.1 204.6h1.3M1179.2 172.6h1.3M1158.5 169.3h1.3M1174.3 158.3h1.3M1162.7 172.2h1.3M1133.4 173.7h1.3M1151.6 155.0h1.3M1152.9 169.2h1.3M1147.2 151.1h1.3M1178.8 153.5h1.3M1171.7 170.2h1.3M1167.8 164.8h1.3M1137.8 161.0h1.3M1148.7 168.6h1.3M1146.3 175.6h1.3M1156.1 164.4h1.3M1176.2 167.2h1.3M1133.8 156.7h1.3M1164.0 176.3h1.3M1132.1 153.9h1.3M1135.1 183.5h1.3M1152.3 156.5h1.3M1140.9 166.9h1.3M1145.4 181.4h1.3M1184.0 187.1h1.3M1141.3 177.0h1.3M1136.9 166.3h1.3M1150.4 170.1h1.3M1161.3 159.7h1.3M1133.5 165.5h1.3M1161.5 175.5h1.3M1137.7 186.0h1.3M1148.8 176.8h1.3M1140.8 159.4h1.3M1157.5 151.9h1.3M1141.7 154.4h1.3M1173.6 176.8h1.3M1142.3 169.4h1.3M1159.0 183.8h1.3M1175.2 160.7h1.3M1166.0 170.9h1.3M1143.5 184.8h1.3M1173.6 183.4h1.3M1149.5 174.1h1.3M1147.3 159.2h1.3M1169.6 158.6h1.3M1171.3 160.5h1.3M1174.6 163.5h1.3M1165.2 157.3h1.3M1145.5 161.0h1.3M1163.5 151.9h1.3M1147.7 153.3h1.3M1159.1 166.8h1.3M1141.1 174.2h1.3M1141.7 178.4h1.3M1156.1 147.6h1.3M1174.5 162.2h1.3M1159.7 159.8h1.3M1185.9 176.9h1.3M1136.2 157.1h1.3M1147.2 180.7h1.3M1154.7 151.7h1.3M1134.1 156.0h1.3M1133.8 184.1h1.3M1146.1 160.9h1.3M1137.9 189.2h1.3M1170.9 162.9h1.3M1178.6 176.3h1.3M1141.3 178.8h1.3M1137.6 180.4h1.3M1182.5 151.3h1.3M1142.1 171.6h1.3M1171.2 169.6h1.3M1132.7 160.2h1.3M1163.3 159.7h1.3M1158.4 173.8h1.3M1154.7 179.0h1.3M1154.9 187.4h1.3M1163.6 179.1h1.3M1165.2 149.1h1.3M1165.5 203.6h1.3M1160.6 161.0h1.3M1141.9 158.7h1.3M1140.7 162.6h1.3M1140.4 179.9h1.3M1180.5 173.5h1.3M1165.9 168.1h1.3M1163.7 174.6h1.3M1156.5 170.3h1.3M1132.7 147.7h1.3M1146.0 180.9h1.3M1133.3 170.0h1.3M1166.7 155.5h1.3M1169.9 153.1h1.3M1170.5 150.9h1.3M1177.1 162.7h1.3M1139.2 178.5h1.3M1145.2 178.1h1.3M1131.5 162.1h1.3M1159.9 175.5h1.3M1135.7 172.6h1.3M1149.1 174.4h1.3M1140.7 169.2h1.3M1154.5 173.8h1.3M1148.0 168.0h1.3M1133.5 158.5h1.3M1155.5 147.0h1.3M1150.7 187.8h1.3M1184.2 174.4h1.3M1155.1 151.3h1.3M1145.8 179.6h1.3M1148.7 167.2h1.3M1140.2 167.7h1.3M1159.8 179.0h1.3M1150.3 150.7h1.3M1173.2 150.4h1.3M1165.5 189.2h1.3M1169.9 152.9h1.3M1149.3 148.7h1.3M1141.7 148.3h1.3M1166.6 153.3h1.3M1159.4 171.6h1.3M1135.9 178.3h1.3M1153.0 181.7h1.3M1149.4 153.2h1.3M1183.8 208.1h1.3M1136.0 163.0h1.3M1140.6 174.0h1.3M1162.0 185.8h1.3M1172.7 161.5h1.3M1161.0 184.9h1.3M1154.4 180.2h1.3M1144.9 167.5h1.3M1164.0 156.0h1.3M1153.3 176.2h1.3M1137.5 173.6h1.3M1132.5 161.5h1.3M1164.1 171.3h1.3M1160.9 191.5h1.3M1162.7 156.2h1.3M1131.9 170.4h1.3M1171.2 165.1h1.3M1135.3 157.9h1.3M1143.8 188.7h1.3M1152.8 155.7h1.3M1135.0 151.1h1.3M1169.4 175.2h1.3M1140.8 201.9h1.3M1168.6 161.8h1.3M1173.3 178.6h1.3M1159.1 162.3h1.3M1172.0 191.9h1.3M1178.0 164.5h1.3M1170.1 173.0h1.3M1179.1 167.5h1.3M1153.1 157.8h1.3M1175.0 161.6h1.3M1137.1 168.6h1.3M1162.4 188.1h1.3M1134.9 151.6h1.3M1152.1 157.7h1.3M1152.2 160.3h1.3M1172.8 166.7h1.3M1138.1 154.9h1.3M1163.8 162.5h1.3M1140.3 150.6h1.3M1143.6 161.5h1.3M1155.7 168.0h1.3M1133.7 169.5h1.3M1149.8 158.4h1.3M1142.1 174.4h1.3M1168.1 149.9h1.3M1152.0 154.0h1.3M1148.4 173.8h1.3M1134.7 171.4h1.3M1150.7 164.1h1.3M1181.2 179.8h1.3M1170.0 173.0h1.3M1166.7 180.5h1.3M1144.1 181.4h1.3M1137.1 172.2h1.3M1150.9 176.0h1.3M1159.3 158.3h1.3M1156.7 183.8h1.3M1141.6 156.7h1.3M1140.9 179.3h1.3M1170.3 179.8h1.3M1133.2 141.5h1.3M1178.8 180.0h1.3M1148.2 174.2h1.3M1166.8 167.4h1.3M1148.0 174.1h1.3M1187.9 156.8h1.3M1141.9 166.1h1.3M1142.2 169.6h1.3M1143.8 175.7h1.3M1150.8 182.3h1.3M1160.2 181.6h1.3M1178.7 175.1h1.3M1159.1 163.4h1.3M1148.3 162.6h1.3M1137.5 166.1h1.3M1179.7 171.1h1.3M1162.8 181.9h1.3M1160.5 151.1h1.3M1165.4 192.2h1.3M1150.0 163.6h1.3M1168.6 173.9h1.3M1161.4 183.6h1.3M1163.2 163.2h1.3M1150.0 183.8h1.3M1171.4 163.5h1.3M1162.9 147.5h1.3M1138.1 182.4h1.3M1140.4 163.0h1.3M1136.0 183.2h1.3M1149.0 169.4h1.3M1188.7 153.9h1.3M1169.6 165.6h1.3M1145.0 153.6h1.3M1167.3 160.4h1.3M1189.2 179.1h1.3M1155.8 164.1h1.3M1152.2 159.0h1.3M1160.6 183.6h1.3M1185.4 176.5h1.3M1168.1 158.7h1.3M1159.5 156.9h1.3M1139.7 152.0h1.3M1160.0 187.4h1.3M1139.9 159.6h1.3M1143.7 152.2h1.3M1174.0 178.2h1.3M1167.3 161.1h1.3M1141.6 163.9h1.3M1184.7 158.0h1.3M1158.3 183.7h1.3M1146.1 157.6h1.3M1174.2 168.2h1.3M1154.6 184.8h1.3M1136.3 181.5h1.3M1171.7 175.9h1.3M1140.9 172.9h1.3M1135.2 168.0h1.3M1160.2 173.0h1.3M1142.6 154.2h1.3M1161.3 153.9h1.3M1151.8 181.9h1.3M1160.9 168.6h1.3M1154.3 176.1h1.3M1156.8 180.0h1.3M1171.9 154.5h1.3M1146.7 191.6h1.3M1146.9 176.9h1.3M1145.6 171.6h1.3M1159.7 156.2h1.3M1148.9 153.3h1.3M1131.7 160.6h1.3M1174.7 168.7h1.3M1147.5 174.5h1.3M1168.8 175.3h1.3M1155.8 154.7h1.3M1139.7 184.7h1.3M1155.8 175.8h1.3M1146.4 151.9h1.3M1167.6 146.8h1.3M1163.8 148.6h1.3M1132.8 173.8h1.3M1140.9 171.4h1.3M1159.1 150.5h1.3M1157.8 161.2h1.3M1177.4 167.7h1.3M1149.7 157.9h1.3M1162.5 159.8h1.3M1158.5 182.2h1.3M1134.0 171.1h1.3M1163.3 152.2h1.3M1161.7 186.6h1.3M1167.7 161.7h1.3M1150.5 142.6h1.3M1136.0 144.4h1.3M1135.9 164.0h1.3M1150.8 152.6h1.3M1155.1 190.9h1.3M1172.6 166.5h1.3M1154.4 186.0h1.3M1171.3 170.4h1.3M1185.9 161.9h1.3M1167.3 186.8h1.3M1133.7 166.3h1.3M1160.1 144.4h1.3M1157.5 186.0h1.3M1155.2 172.6h1.3M1140.8 186.7h1.3M1159.4 172.1h1.3M1141.3 157.3h1.3M1132.3 167.2h1.3M1133.9 178.3h1.3M1151.4 150.2h1.3M1159.5 175.0h1.3M1151.5 180.5h1.3M1171.2 165.1h1.3M1149.9 179.7h1.3M1144.3 150.0h1.3M1153.0 184.5h1.3M1150.8 178.0h1.3M1156.3 151.6h1.3M1144.6 146.6h1.3M1182.1 180.3h1.3M1150.8 204.0h1.3M1141.9 160.6h1.3M1141.9 158.8h1.3M1169.7 167.9h1.3M1160.8 187.7h1.3M1163.6 161.6h1.3M1139.3 178.8h1.3M1167.8 174.2h1.3M1160.5 182.4h1.3M1175.1 169.8h1.3M1146.4 153.6h1.3M1146.4 191.2h1.3M1151.0 172.9h1.3M1144.8 159.8h1.3M1186.4 191.4h1.3M1154.6 155.4h1.3M1172.3 172.4h1.3M1150.7 162.1h1.3M1167.0 172.5h1.3M1162.9 166.6h1.3M1172.6 176.8h1.3M1153.9 152.2h1.3M1146.0 178.4h1.3M1163.4 173.0h1.3M1167.4 177.0h1.3M1169.4 169.3h1.3M1150.7 175.3h1.3M1138.9 156.0h1.3M1158.4 157.6h1.3M1163.4 154.7h1.3M1156.9 157.4h1.3M1159.3 163.9h1.3M1147.0 162.2h1.3M1144.0 152.2h1.3M1137.4 154.3h1.3M1183.2 158.9h1.3M1153.0 153.5h1.3M1135.8 169.6h1.3M1154.9 164.8h1.3M1179.3 154.8h1.3M1153.0 152.7h1.3M1171.2 171.8h1.3M1145.9 163.2h1.3M1151.0 157.0h1.3M1136.8 180.7h1.3M1146.6 156.3h1.3M1161.2 152.6h1.3M1134.2 162.3h1.3M1181.2 169.4h1.3M1132.9 155.7h1.3M1162.0 166.3h1.3M1159.5 175.9h1.3M1141.0 167.4h1.3M1172.7 178.6h1.3M1175.6 156.3h1.3M1167.5 172.6h1.3M1149.9 146.6h1.3M1149.9 178.8h1.3M1142.1 190.1h1.3M1151.1 177.7h1.3M1171.9 175.1h1.3M1181.1 194.3h1.3M1161.4 161.7h1.3M1171.1 160.6h1.3M1145.3 158.4h1.3M1136.9 162.5h1.3M1150.7 186.6h1.3M1164.3 176.0h1.3M1170.6 164.7h1.3M1157.3 162.8h1.3M1176.0 176.4h1.3M1157.5 173.5h1.3M1166.7 178.3h1.3M1151.6 158.3h1.3M1139.7 150.4h1.3M1152.1 163.6h1.3M1148.0 157.4h1.3M1173.3 178.4h1.3M1163.4 171.4h1.3M1169.7 177.7h1.3M1156.9 161.7h1.3M1157.1 176.5h1.3M1170.9 153.4h1.3M1154.7 156.6h1.3M1164.5 169.6h1.3M1168.5 148.0h1.3M1153.5 184.6h1.3M1144.3 149.5h1.3M1137.4 172.5h1.3M1143.1 160.0h1.3M1156.1 150.2h1.3M1161.6 179.6h1.3M1168.7 178.5h1.3M1178.2 162.9h1.3M1150.7 155.0h1.3M1172.7 167.4h1.3M1152.1 188.3h1.3M1175.6 154.7h1.3M1160.1 167.1h1.3M1188.4 171.5h1.3M1150.1 154.2h1.3M1157.2 173.4h1.3M1154.2 186.6h1.3M1163.7 157.0h1.3M1143.2 172.7h1.3M1132.2 158.6h1.3M1165.0 181.7h1.3M1141.0 163.8h1.3M1131.5 156.8h1.3M1147.8 176.3h1.3M1146.5 185.0h1.3M1141.3 155.4h1.3M1166.1 167.4h1.3M1164.1 153.0h1.3M1163.8 180.7h1.3M1164.2 175.1h1.3M1158.6 182.4h1.3M1147.2 186.7h1.3M1133.6 170.4h1.3M1131.9 173.6h1.3M1146.1 180.2h1.3M1143.2 162.5h1.3M1171.9 177.3h1.3M1149.0 150.5h1.3M1156.4 166.7h1.3M1166.2 176.6h1.3M1152.6 150.7h1.3M1145.7 154.7h1.3M1133.9 166.8h1.3M1162.1 163.9h1.3M1146.8 169.4h1.3M1137.6 158.6h1.3M1159.2 185.7h1.3M1144.0 149.1h1.3M1158.8 150.9h1.3M1184.7 154.1h1.3M1140.0 182.5h1.3M1174.7 160.8h1.3M1141.5 164.8h1.3M1157.4 161.5h1.3M1170.0 173.9h1.3M1147.2 165.2h1.3M1153.4 164.2h1.3M1167.5 176.6h1.3M1146.6 161.2h1.3M1171.1 174.6h1.3M1147.1 168.7h1.3M1144.9 173.9h1.3M1168.4 173.4h1.3M1152.5 176.5h1.3M1171.5 167.8h1.3M1171.2 161.4h1.3M1150.2 151.6h1.3M1174.6 166.0h1.3M1167.0 174.0h1.3M1175.3 165.9h1.3M1169.6 169.6h1.3M1169.7 178.3h1.3M1147.3 181.3h1.3M1169.2 174.2h1.3M1156.4 179.1h1.3M1166.4 176.0h1.3M1134.2 182.0h1.3M1137.2 167.2h1.3M1165.1 174.1h1.3M1177.4 174.0h1.3M1145.3 155.9h1.3M1151.0 184.9h1.3M1144.8 178.6h1.3M1144.8 153.3h1.3M1153.6 178.3h1.3M1133.3 162.6h1.3M1177.8 176.3h1.3M1169.4 167.0h1.3M1131.7 161.4h1.3M1171.4 162.0h1.3M1154.8 165.3h1.3M1131.5 161.5h1.3M1164.1 166.1h1.3M1173.8 160.8h1.3M1145.2 177.6h1.3M1183.7 169.4h1.3M1151.9 158.2h1.3M1143.2 164.2h1.3M1169.7 160.3h1.3M1157.6 151.8h1.3M1143.8 180.6h1.3M1137.9 166.4h1.3M1160.6 177.0h1.3M1148.3 166.4h1.3M1156.5 159.3h1.3M1176.1 171.6h1.3M1154.2 170.2h1.3M1135.1 144.9h1.3M1147.1 193.1h1.3M1174.9 158.7h1.3M1163.5 164.1h1.3M1160.1 152.9h1.3M1134.2 181.1h1.3M1164.3 164.3h1.3M1131.7 163.9h1.3M1148.1 175.9h1.3M1164.4 157.5h1.3M1162.0 192.7h1.3M1136.5 165.8h1.3M1160.1 160.9h1.3M1171.1 185.8h1.3M1151.4 183.2h1.3M1149.5 189.2h1.3M1175.9 176.0h1.3M1183.0 163.1h1.3M1166.5 169.9h1.3M1134.1 160.6h1.3M1149.0 152.3h1.3M1145.5 170.4h1.3M1155.6 160.7h1.3M1167.8 155.9h1.3M1167.2 168.0h1.3M1163.3 182.0h1.3M1141.0 177.3h1.3M1156.2 158.5h1.3M1178.9 160.4h1.3M1166.6 185.1h1.3M1152.4 162.4h1.3M1146.9 169.4h1.3M1143.1 172.6h1.3M1170.9 151.0h1.3M1166.3 165.2h1.3M1134.0 174.3h1.3M1158.9 180.3h1.3M1140.7 157.8h1.3M1142.4 156.7h1.3M1145.6 171.8h1.3M1154.8 172.0h1.3M1161.0 164.2h1.3M1136.2 158.4h1.3M1171.3 166.4h1.3M1136.5 173.4h1.3M1146.4 150.1h1.3M1178.4 158.8h1.3M1155.9 181.7h1.3M1135.7 170.0h1.3M1165.4 181.1h1.3M1151.5 171.9h1.3M1154.5 183.9h1.3M1170.6 179.8h1.3M1142.1 152.0h1.3M1170.2 167.3h1.3M1145.4 171.5h1.3M1171.3 169.0h1.3M1169.9 141.0h1.3M1135.8 180.7h1.3M1159.2 166.1h1.3M1160.6 164.8h1.3M1165.9 147.4h1.3M1168.3 172.1h1.3M1159.1 175.6h1.3M1170.8 171.7h1.3M1151.1 176.8h1.3M1164.1 179.1h1.3M1163.3 172.9h1.3M1165.1 168.8h1.3M1174.4 178.4h1.3M1144.0 166.7h1.3M1162.2 156.4h1.3M1164.4 178.7h1.3M1163.4 161.0h1.3M1161.3 156.0h1.3M1178.9 174.0h1.3M1160.9 174.9h1.3M1161.5 167.9h1.3M1174.1 155.7h1.3M1132.7 180.6h1.3M1136.1 174.7h1.3M1134.4 181.0h1.3M1178.8 150.7h1.3M1145.4 170.2h1.3M1179.6 168.9h1.3M1162.5 164.7h1.3M1142.3 178.7h1.3M1179.7 172.7h1.3M1151.6 159.4h1.3M1145.5 171.8h1.3M1154.5 151.6h1.3M1173.2 156.8h1.3M1132.7 165.3h1.3M1141.0 155.7h1.3M1135.5 167.9h1.3M1165.4 181.1h1.3M1153.1 185.2h1.3M1151.7 152.3h1.3M1183.5 176.8h1.3M1136.0 153.8h1.3M1172.3 177.7h1.3M1161.5 174.8h1.3M1145.1 152.0h1.3M1172.7 158.0h1.3M1151.1 170.6h1.3M1141.6 179.7h1.3M1161.9 164.5h1.3M1133.1 178.3h1.3M1141.8 180.4h1.3M1133.4 176.6h1.3M1155.7 146.6h1.3M1139.7 169.0h1.3M1140.8 165.3h1.3M1142.9 180.3h1.3M1173.1 165.1h1.3M1163.7 162.7h1.3M1157.8 170.4h1.3M1135.2 176.8h1.3M1165.0 171.9h1.3M1161.2 158.6h1.3M1144.7 167.2h1.3M1149.3 166.1h1.3M1132.9 162.4h1.3M1148.1 192.4h1.3M1146.9 140.1h1.3M1177.2 155.1h1.3M1160.5 183.9h1.3M1164.1 157.2h1.3M1160.9 169.6h1.3M1148.1 170.2h1.3M1172.7 177.9h1.3M1169.7 177.1h1.3M1184.3 167.9h1.3M1158.4 159.3h1.3M1173.3 173.2h1.3M1157.0 180.4h1.3M1152.3 175.7h1.3M1153.4 179.9h1.3M1152.5 155.0h1.3M1152.8 161.0h1.3M1164.9 176.2h1.3M1149.8 156.7h1.3M1174.8 174.1h1.3M1156.1 173.6h1.3M1147.8 175.8h1.3M1184.9 167.3h1.3M1149.0 168.5h1.3M1189.7 157.8h1.3M1162.7 179.2h1.3M1164.0 149.8h1.3M1151.6 163.4h1.3M1163.8 184.9h1.3M1153.4 201.0h1.3M1164.4 176.4h1.3M1173.3 179.3h1.3M1157.4 154.8h1.3M1153.1 155.8h1.3M1144.6 174.3h1.3M1135.2 160.4h1.3M1141.7 175.3h1.3M1159.7 162.2h1.3M1145.0 159.0h1.3M1132.8 186.3h1.3M1137.0 172.8h1.3M1162.5 164.1h1.3M1167.7 181.6h1.3M1133.2 142.0h1.3M1139.3 184.8h1.3M1144.4 157.4h1.3M1154.9 159.5h1.3M1161.4 168.0h1.3M1155.6 154.2h1.3M1141.7 176.7h1.3M1140.0 171.4h1.3M1147.5 166.5h1.3M1137.6 169.2h1.3M1140.7 175.9h1.3M1138.1 178.1h1.3M1170.2 166.1h1.3M1132.3 161.7h1.3M1157.5 159.9h1.3M1140.1 167.0h1.3M1167.3 164.1h1.3M1151.1 166.4h1.3M1152.0 178.1h1.3M1137.4 167.3h1.3M1176.4 153.5h1.3M1141.1 175.3h1.3M1148.2 151.1h1.3M1132.1 169.2h1.3M1136.2 149.1h1.3M1154.8 152.2h1.3M1144.4 149.2h1.3M1147.4 159.7h1.3M1156.6 158.1h1.3M1163.4 158.7h1.3M1161.0 160.0h1.3M1154.6 189.9h1.3M1164.0 153.3h1.3M1168.1 172.4h1.3M1142.7 163.2h1.3M1146.6 171.1h1.3M1161.8 158.0h1.3M1166.2 164.6h1.3M1151.2 182.2h1.3M1134.5 178.7h1.3M1180.7 161.3h1.3M1143.5 184.3h1.3M1140.8 174.7h1.3M1135.6 168.3h1.3M1152.8 158.4h1.3M1136.0 160.3h1.3M1167.2 172.0h1.3M1158.8 149.6h1.3M1152.5 177.9h1.3M1155.4 184.8h1.3M1143.3 164.3h1.3M1158.9 141.0h1.3M1156.4 186.0h1.3M1144.9 143.5h1.3M1148.2 170.1h1.3M1134.3 150.5h1.3M1137.7 156.8h1.3M1160.8 155.2h1.3M1177.2 160.9h1.3M1137.3 180.5h1.3M1139.6 188.6h1.3M1168.0 172.5h1.3M1185.5 174.3h1.3M1139.8 169.6h1.3M1139.7 164.4h1.3M1140.0 164.5h1.3M1136.1 164.6h1.3M1171.0 167.4h1.3M1163.5 174.2h1.3M1156.6 170.6h1.3M1188.4 167.5h1.3M1189.5 156.7h1.3M1161.8 174.3h1.3M1135.0 168.5h1.3M1178.5 156.7h1.3M1132.9 159.6h1.3M1178.0 166.0h1.3M1144.4 162.6h1.3M1156.1 185.7h1.3M1143.8 210.5h1.3M1133.6 165.5h1.3M1164.2 154.9h1.3M1145.9 157.0h1.3M1142.6 151.4h1.3M1145.4 161.8h1.3M1144.5 154.7h1.3M1170.3 169.4h1.3M1169.4 170.3h1.3M1154.8 151.9h1.3M1164.6 180.3h1.3M1172.4 171.6h1.3M1145.3 160.4h1.3M1140.5 164.7h1.3M1157.1 177.6h1.3M1184.3 165.2h1.3M1178.8 142.4h1.3M1158.8 175.2h1.3M1150.8 193.4h1.3M1168.1 177.4h1.3M1151.6 153.7h1.3M1151.1 177.6h1.3M1173.9 175.1h1.3M1184.5 167.9h1.3M1153.4 152.1h1.3M1168.4 167.0h1.3M1180.0 177.7h1.3M1146.8 200.8h1.3M1160.0 177.6h1.3M1133.9 159.6h1.3M1158.2 175.3h1.3M1141.3 150.6h1.3M1143.3 153.0h1.3M1148.4 186.8h1.3M1136.2 176.4h1.3M1158.8 155.3h1.3M1160.7 176.8h1.3M1155.1 157.7h1.3M1167.8 178.8h1.3M1170.3 154.9h1.3M1160.5 153.2h1.3M1141.7 167.8h1.3M1144.5 172.9h1.3M1158.8 181.0h1.3M1136.8 172.7h1.3M1163.3 181.8h1.3M1141.5 179.4h1.3M1149.6 185.6h1.3M1158.1 172.8h1.3M1133.8 172.2h1.3M1165.8 149.3h1.3M1170.3 165.4h1.3M1156.4 156.9h1.3M1139.0 175.4h1.3M1171.7 167.2h1.3M1161.2 179.6h1.3M1154.6 173.1h1.3M1146.8 148.0h1.3M1138.9 164.2h1.3M1173.1 157.3h1.3M1141.8 168.1h1.3M1150.3 151.8h1.3M1169.8 156.7h1.3M1148.7 158.2h1.3M1182.9 191.1h1.3M1155.4 181.8h1.3M1139.5 150.0h1.3M1143.6 178.0h1.3M1166.3 173.7h1.3M1133.1 182.6h1.3M1144.1 189.4h1.3M1140.7 166.4h1.3M1163.8 167.9h1.3M1149.9 176.3h1.3M1163.6 164.1h1.3M1162.1 169.3h1.3M1179.1 156.5h1.3M1170.8 167.4h1.3M1131.6 159.8h1.3M1148.8 175.4h1.3M1146.5 147.7h1.3M1149.3 152.3h1.3M1180.7 159.4h1.3M1172.7 176.1h1.3M1156.6 157.5h1.3M1162.7 178.5h1.3M1164.6 159.1h1.3M1147.7 186.6h1.3M1143.4 176.4h1.3M1141.1 158.6h1.3M1140.5 177.5h1.3M1151.4 171.9h1.3M1148.4 173.6h1.3M1145.8 155.3h1.3M1156.6 177.5h1.3M1133.3 174.6h1.3M1174.1 172.7h1.3M1135.9 166.8h1.3M1135.7 159.3h1.3M1139.1 155.7h1.3M1155.9 181.4h1.3M1133.0 170.5h1.3M1136.8 165.7h1.3M1159.7 178.9h1.3M1149.3 164.3h1.3M1170.4 172.9h1.3M1156.8 181.0h1.3M1155.7 182.6h1.3M1134.8 169.6h1.3M1167.9 148.9h1.3M1155.8 185.6h1.3M1176.2 175.8h1.3M1150.1 183.0h1.3M1134.1 179.8h1.3M1167.5 143.0h1.3M1152.0 110.0h1.3M1152.0 221.0h1.3M1152.0 226.0h1.3" stroke="#1818ff" stroke-width="1.3" fill="none"/>
<path d="M1152.1 170.2h1.3M1158.4 160.2h1.3M1167.3 164.3h1.3M1144.9 159.2h1.3M1159.3 161.2h1.3M1157.4 161.6h1.3M1146.9 155.5h1.3M1159.3 178.8h1.3M1153.2 159.2h1.3M1141.9 169.8h1.3M1154.0 177.8h1.3M1141.9 163.9h1.3M1158.4 168.7h1.3M1152.0 170.6h1.3M1141.9 163.9h1.3M1163.1 171.9h1.3M1145.4 170.7h1.3M1152.2 165.6h1.3M1165.0 169.1h1.3M1143.6 180.7h1.3M1144.0 170.0h1.3M1142.9 165.5h1.3M1145.0 178.0h1.3M1162.4 178.8h1.3M1142.8 170.2h1.3M1161.8 160.0h1.3M1152.0 170.2h1.3M1136.2 167.7h1.3M1151.1 172.8h1.3M1152.5 167.8h1.3M1142.8 162.9h1.3M1155.5 156.5h1.3M1155.7 169.7h1.3M1175.6 174.6h1.3M1145.2 176.0h1.3M1162.8 178.6h1.3M1150.0 175.0h1.3M1164.1 179.0h1.3M1159.3 164.6h1.3M1137.5 162.9h1.3M1154.1 174.1h1.3M1153.8 167.4h1.3M1168.8 158.5h1.3M1153.3 171.8h1.3M1156.6 171.1h1.3M1160.0 176.5h1.3M1145.5 163.7h1.3M1162.4 158.4h1.3M1157.8 161.9h1.3M1164.3 163.6h1.3M1155.3 172.5h1.3M1143.6 168.8h1.3M1154.8 176.2h1.3M1143.4 174.7h1.3M1167.6 162.8h1.3M1169.6 163.8h1.3M1141.0 161.3h1.3M1151.3 163.2h1.3M1148.2 166.6h1.3M1159.8 165.1h1.3M1146.4 158.1h1.3M1143.3 162.0h1.3M1154.3 165.1h1.3M1163.7 169.6h1.3M1156.0 160.5h1.3M1151.6 182.0h1.3M1151.1 167.4h1.3M1148.7 166.6h1.3M1144.6 182.3h1.3M1148.4 178.4h1.3M1151.8 176.1h1.3M1165.3 170.2h1.3M1164.4 168.0h1.3M1143.0 177.7h1.3M1152.6 162.8h1.3M1164.8 162.0h1.3M1161.5 167.9h1.3M1156.5 158.1h1.3M1148.4 165.2h1.3M1163.2 158.0h1.3M1135.2 169.2h1.3M1160.4 177.7h1.3M1156.3 169.5h1.3M1139.0 168.5h1.3M1160.7 155.9h1.3M1155.6 168.9h1.3M1139.4 166.3h1.3M1152.5 169.7h1.3M1147.5 163.3h1.3M1155.5 159.0h1.3M1156.1 174.5h1.3M1162.6 166.9h1.3M1167.6 171.9h1.3M1145.0 169.2h1.3M1147.3 163.0h1.3M1159.4 170.7h1.3M1150.8 176.0h1.3M1140.3 165.3h1.3M1147.6 179.5h1.3M1140.8 169.7h1.3M1163.0 162.5h1.3M1143.3 167.0h1.3M1162.6 177.0h1.3M1144.1 165.7h1.3M1146.9 166.2h1.3M1139.0 163.6h1.3M1148.5 172.0h1.3M1158.3 156.2h1.3M1164.5 177.0h1.3M1160.6 166.6h1.3M1160.5 171.7h1.3M1161.0 160.5h1.3M1140.8 163.8h1.3M1152.1 166.0h1.3M1166.8 166.3h1.3M1154.8 174.3h1.3M1162.4 167.4h1.3M1158.0 172.0h1.3M1147.7 160.2h1.3M1148.5 166.5h1.3M1165.9 175.7h1.3M1142.5 156.7h1.3M1154.2 158.4h1.3M1160.4 170.4h1.3M1152.9 158.8h1.3M1157.4 164.2h1.3M1156.5 170.7h1.3M1160.8 169.8h1.3M1133.7 168.4h1.3M1165.7 161.1h1.3M1148.2 158.2h1.3M1133.4 165.5h1.3M1164.1 169.1h1.3M1148.2 174.7h1.3M1165.6 170.2h1.3M1159.5 162.7h1.3M1147.7 171.5h1.3M1166.1 166.5h1.3M1161.1 177.1h1.3M1146.9 164.4h1.3M1139.4 166.5h1.3M1143.7 164.1h1.3M1161.4 165.5h1.3M1144.6 174.2h1.3M1140.6 162.1h1.3M1145.7 162.6h1.3M1163.0 177.0h1.3M1165.0 162.0h1.3M1143.5 169.0h1.3M1150.6 164.3h1.3M1150.1 166.5h1.3M1155.4 174.6h1.3M1153.7 178.8h1.3M1148.3 169.9h1.3M1154.6 174.6h1.3M1161.8 164.0h1.3M1152.2 169.7h1.3M1153.0 169.7h1.3M1162.9 172.0h1.3M1151.0 176.9h1.3M1153.7 172.5h1.3M1145.6 165.6h1.3M1141.9 175.4h1.3M1150.6 171.0h1.3M1150.2 172.5h1.3M1151.9 176.7h1.3M1166.4 164.2h1.3M1165.9 175.2h1.3M1139.4 160.0h1.3M1134.3 170.2h1.3M1152.8 169.3h1.3M1144.2 177.9h1.3M1136.5 166.9h1.3M1148.0 161.6h1.3M1160.5 168.1h1.3M1155.8 169.2h1.3M1154.1 159.4h1.3M1146.4 164.2h1.3M1150.0 184.8h1.3M1159.0 174.9h1.3M1156.1 181.4h1.3M1157.5 159.9h1.3M1162.2 171.3h1.3M1154.7 176.6h1.3M1170.7 164.9h1.3M1160.0 175.4h1.3M1168.5 165.2h1.3M1147.9 177.9h1.3M1153.7 169.9h1.3M1150.1 178.3h1.3M1150.0 174.5h1.3M1151.4 158.1h1.3M1137.0 175.5h1.3M1149.4 177.0h1.3M1161.5 162.2h1.3M1163.5 179.7h1.3M1165.2 169.6h1.3M1143.0 174.6h1.3M1153.8 182.8h1.3M1144.1 167.5h1.3" stroke="#30d8f8" stroke-width="1.3" fill="none"/>
<path d="M1155.8 168.9h1.3M1167.4 167.1h1.3M1158.4 180.0h1.3M1150.3 161.2h1.3M1147.8 167.5h1.3M1139.2 162.6h1.3M1173.1 171.4h1.3M1150.7 166.5h1.3M1147.0 178.9h1.3M1146.9 168.8h1.3M1151.2 174.3h1.3M1150.9 161.0h1.3M1137.6 170.7h1.3M1142.3 168.0h1.3M1154.7 175.3h1.3M1161.0 170.1h1.3M1158.0 158.5h1.3M1150.9 178.8h1.3M1142.4 172.3h1.3M1151.9 177.5h1.3M1155.8 169.9h1.3M1144.6 170.8h1.3M1158.1 174.0h1.3M1154.2 171.4h1.3M1165.7 169.1h1.3M1161.1 176.1h1.3M1148.6 169.0h1.3M1149.1 172.9h1.3M1156.5 169.6h1.3M1164.7 161.3h1.3M1134.4 165.5h1.3M1149.3 171.9h1.3M1163.0 166.6h1.3M1157.5 164.2h1.3M1141.1 167.8h1.3M1150.2 165.0h1.3M1153.4 168.9h1.3M1158.2 172.2h1.3M1154.5 159.4h1.3M1152.3 167.3h1.3M1157.0 156.8h1.3M1160.9 168.9h1.3M1152.1 169.4h1.3M1163.4 165.0h1.3M1161.8 166.3h1.3M1155.1 182.2h1.3M1140.6 173.6h1.3M1160.1 170.4h1.3M1150.6 179.1h1.3M1148.2 166.9h1.3M1160.5 165.8h1.3M1151.2 167.8h1.3M1158.6 173.0h1.3M1150.7 174.3h1.3M1167.7 170.1h1.3M1158.1 164.9h1.3M1141.4 162.1h1.3M1160.5 160.2h1.3M1155.2 170.5h1.3M1152.8 166.4h1.3M1154.4 166.0h1.3M1158.8 157.8h1.3M1150.5 167.3h1.3M1150.6 161.5h1.3M1147.3 164.1h1.3M1143.1 161.7h1.3M1164.4 169.9h1.3M1144.2 167.4h1.3M1154.7 163.4h1.3M1151.0 168.1h1.3M1154.1 163.4h1.3M1145.2 166.1h1.3M1140.1 170.2h1.3M1157.3 167.5h1.3M1167.7 166.3h1.3M1157.2 166.0h1.3M1163.7 162.6h1.3M1151.9 158.3h1.3M1146.0 165.5h1.3M1156.8 168.1h1.3M1143.5 162.4h1.3M1161.3 175.6h1.3M1152.7 178.1h1.3M1160.5 163.0h1.3M1161.7 165.8h1.3M1148.3 170.2h1.3M1157.8 168.6h1.3M1155.0 170.4h1.3M1160.9 169.2h1.3M1151.4 157.8h1.3M1156.8 170.9h1.3M1162.5 175.2h1.3M1156.9 175.8h1.3M1159.6 173.3h1.3M1142.0 161.3h1.3M1139.1 163.5h1.3M1148.0 166.2h1.3M1157.4 170.1h1.3M1154.0 158.3h1.3M1142.4 166.1h1.3M1145.3 171.3h1.3M1150.1 159.7h1.3M1167.4 176.5h1.3M1156.7 173.4h1.3M1138.5 162.4h1.3M1141.9 165.2h1.3M1153.3 164.3h1.3M1161.4 171.6h1.3M1156.7 156.6h1.3M1144.9 166.5h1.3M1150.1 167.1h1.3M1153.9 170.8h1.3M1163.0 160.5h1.3M1161.1 158.5h1.3M1150.8 181.5h1.3M1150.7 173.4h1.3M1152.8 169.6h1.3M1146.9 170.7h1.3M1146.8 165.5h1.3M1146.4 166.0h1.3M1161.1 170.3h1.3M1161.2 165.9h1.3M1153.5 167.8h1.3M1147.1 167.5h1.3M1154.6 163.3h1.3M1162.8 170.8h1.3M1150.4 173.3h1.3M1159.9 169.1h1.3M1154.7 171.6h1.3M1152.6 167.6h1.3M1142.5 168.1h1.3M1156.5 165.5h1.3M1158.7 167.7h1.3M1146.0 156.5h1.3M1158.9 164.6h1.3M1145.8 166.8h1.3M1148.9 165.6h1.3M1144.5 169.5h1.3M1153.7 164.9h1.3M1151.5 163.0h1.3M1138.4 160.9h1.3M1151.6 166.8h1.3M1156.3 161.8h1.3M1155.2 174.2h1.3M1152.9 172.7h1.3M1136.1 168.9h1.3M1152.1 162.7h1.3M1152.3 161.0h1.3M1157.9 157.1h1.3M1146.1 169.2h1.3M1155.9 168.6h1.3M1155.3 165.3h1.3M1161.7 169.4h1.3M1157.7 158.4h1.3M1151.3 181.7h1.3M1156.4 172.4h1.3M1157.9 172.8h1.3M1156.7 175.7h1.3M1153.3 162.3h1.3M1158.1 164.3h1.3M1147.6 159.6h1.3M1159.3 176.6h1.3M1148.5 164.7h1.3M1161.5 169.0h1.3M1145.4 169.4h1.3M1156.9 161.4h1.3M1141.1 158.7h1.3M1156.7 161.2h1.3M1148.3 162.6h1.3M1164.0 167.4h1.3M1135.6 167.7h1.3M1155.6 179.2h1.3M1145.1 157.7h1.3M1143.7 162.7h1.3M1153.0 158.0h1.3M1142.2 164.1h1.3M1145.3 166.1h1.3M1150.9 167.8h1.3M1138.8 162.6h1.3M1149.2 166.0h1.3M1157.1 170.1h1.3M1158.3 173.4h1.3M1150.4 166.4h1.3M1147.4 177.3h1.3M1149.6 175.2h1.3M1140.2 162.3h1.3M1143.9 164.5h1.3M1152.7 166.8h1.3M1156.1 161.3h1.3M1160.3 159.4h1.3M1137.4 168.2h1.3M1147.1 164.7h1.3M1153.3 164.9h1.3M1158.2 169.2h1.3M1158.2 156.8h1.3M1151.6 168.6h1.3M1149.1 161.8h1.3M1168.1 169.9h1.3M1154.2 166.3h1.3M1150.9 167.0h1.3M1144.8 175.5h1.3M1149.2 163.5h1.3M1150.1 171.1h1.3M1139.7 169.6h1.3M1152.1 160.2h1.3M1149.0 172.0h1.3M1149.1 170.2h1.3M1151.0 182.3h1.3M1148.7 170.4h1.3M1151.7 174.9h1.3M1156.0 171.6h1.3M1157.2 169.0h1.3M1139.3 171.5h1.3M1142.9 161.2h1.3M1167.3 168.2h1.3M1148.3 175.3h1.3M1149.6 159.8h1.3M1151.2 168.6h1.3M1147.6 161.7h1.3M1143.2 171.2h1.3M1157.6 170.6h1.3M1162.0 168.5h1.3M1153.5 170.8h1.3M1146.7 170.1h1.3M1167.3 174.1h1.3M1153.6 174.2h1.3M1153.5 177.8h1.3M1149.8 167.1h1.3M1148.5 165.4h1.3M1152.6 174.4h1.3M1151.4 176.0h1.3M1146.4 167.8h1.3M1162.1 176.7h1.3M1137.0 169.4h1.3M1142.4 165.7h1.3M1156.9 168.5h1.3M1161.0 172.5h1.3M1161.9 170.0h1.3M1157.2 163.2h1.3M1152.9 165.9h1.3M1146.7 160.7h1.3M1151.7 170.7h1.3M1163.8 166.4h1.3M1159.7 162.6h1.3M1156.1 170.7h1.3M1141.8 163.3h1.3M1156.4 157.0h1.3M1156.4 166.4h1.3M1159.2 167.2h1.3M1149.0 167.6h1.3M1155.3 171.3h1.3M1142.6 172.8h1.3M1141.5 166.1h1.3M1170.1 169.1h1.3M1151.4 162.1h1.3M1152.3 163.4h1.3M1153.0 163.5h1.3M1152.0 172.2h1.3M1144.9 173.7h1.3M1157.8 169.0h1.3M1155.5 170.4h1.3M1146.6 163.6h1.3M1150.0 160.7h1.3M1151.4 166.6h1.3M1143.9 165.3h1.3M1165.7 163.9h1.3M1151.2 164.3h1.3M1155.9 164.9h1.3M1151.7 167.0h1.3M1153.4 167.5h1.3M1144.2 164.6h1.3M1154.0 163.4h1.3M1162.7 166.7h1.3M1170.2 163.7h1.3M1156.3 163.6h1.3M1144.6 155.9h1.3M1153.6 173.1h1.3M1144.1 167.2h1.3M1146.0 163.8h1.3M1157.6 162.8h1.3M1155.3 168.6h1.3M1151.8 174.2h1.3M1160.5 168.1h1.3M1163.0 177.5h1.3M1156.7 170.6h1.3M1153.6 171.3h1.3M1146.4 167.5h1.3M1155.3 165.9h1.3M1148.6 162.1h1.3M1157.9 160.0h1.3M1152.3 166.1h1.3M1143.6 162.7h1.3M1144.8 174.4h1.3M1150.9 166.2h1.3M1150.1 157.9h1.3M1145.7 165.8h1.3M1153.0 182.8h1.3M1156.8 171.3h1.3M1155.1 170.2h1.3M1150.1 167.2h1.3M1154.9 175.3h1.3M1149.6 167.9h1.3M1155.9 161.4h1.3M1141.9 159.1h1.3M1153.7 172.0h1.3M1136.1 164.8h1.3M1148.4 169.3h1.3M1142.1 170.9h1.3M1154.6 155.6h1.3M1144.9 168.2h1.3M1139.3 164.4h1.3M1148.7 168.2h1.3M1157.4 161.3h1.3M1159.4 165.2h1.3M1158.0 160.4h1.3M1147.0 159.9h1.3M1151.4 174.9h1.3M1155.7 169.2h1.3M1150.6 166.0h1.3M1156.4 173.1h1.3M1151.3 161.6h1.3M1161.5 164.7h1.3M1142.5 171.9h1.3M1158.8 164.9h1.3M1156.1 169.1h1.3M1145.4 167.9h1.3M1161.7 160.8h1.3M1143.0 169.5h1.3M1153.8 160.5h1.3M1151.4 167.5h1.3M1160.2 169.4h1.3M1147.9 161.5h1.3M1142.6 161.5h1.3M1152.1 175.5h1.3M1145.0 170.3h1.3M1152.6 172.7h1.3M1152.9 172.9h1.3M1154.9 161.3h1.3M1142.8 165.1h1.3M1154.6 163.5h1.3M1144.1 161.5h1.3M1155.2 173.7h1.3M1147.8 172.9h1.3M1144.5 165.5h1.3M1159.5 167.7h1.3M1153.9 162.9h1.3M1164.3 167.7h1.3M1146.3 167.7h1.3M1157.6 161.9h1.3M1140.9 173.7h1.3M1138.8 172.4h1.3M1153.4 165.3h1.3M1149.7 164.7h1.3M1159.1 166.8h1.3M1152.2 177.4h1.3M1147.5 168.0h1.3M1145.8 158.6h1.3M1142.8 166.9h1.3M1149.1 166.6h1.3M1151.9 172.4h1.3M1144.1 170.4h1.3M1163.8 165.8h1.3M1150.4 177.6h1.3M1153.1 172.1h1.3M1150.5 164.0h1.3M1163.3 163.5h1.3M1146.3 163.7h1.3M1147.3 176.5h1.3M1153.5 156.2h1.3M1159.9 161.4h1.3M1155.5 163.5h1.3M1155.6 169.1h1.3M1145.3 167.0h1.3M1159.4 175.5h1.3M1148.7 163.4h1.3M1167.9 166.6h1.3M1150.5 169.9h1.3M1156.3 171.9h1.3M1157.0 172.4h1.3M1142.3 169.6h1.3M1151.4 163.5h1.3M1156.9 168.3h1.3M1147.1 163.6h1.3M1152.5 174.4h1.3M1160.6 168.3h1.3M1160.7 168.8h1.3M1160.5 179.6h1.3M1143.8 165.5h1.3M1156.7 162.1h1.3M1150.5 162.5h1.3M1142.4 158.5h1.3M1155.1 163.2h1.3M1139.5 168.6h1.3M1150.0 171.4h1.3M1144.5 161.9h1.3M1139.6 167.0h1.3M1147.8 170.1h1.3M1149.1 171.6h1.3M1157.7 171.3h1.3M1158.8 161.3h1.3" stroke="#22ee30" stroke-width="1.3" fill="none"/>
<path d="M1145.5 170.1h1.3M1141.2 167.9h1.3M1152.8 159.3h1.3M1158.6 164.2h1.3M1153.5 167.8h1.3M1146.6 170.1h1.3M1150.3 167.1h1.3M1141.4 168.4h1.3M1160.6 169.7h1.3M1151.8 172.1h1.3M1150.3 163.0h1.3M1152.4 175.2h1.3M1161.9 162.9h1.3M1141.7 159.0h1.3M1152.6 165.4h1.3M1154.1 166.2h1.3M1161.6 161.5h1.3M1156.6 161.3h1.3M1151.6 171.6h1.3M1149.8 169.8h1.3M1145.4 165.8h1.3M1151.3 167.1h1.3M1155.7 160.8h1.3M1146.3 166.6h1.3M1141.9 168.0h1.3M1152.2 161.8h1.3M1151.2 163.6h1.3M1149.5 165.7h1.3M1155.1 165.4h1.3M1156.3 171.5h1.3M1163.0 168.4h1.3M1148.0 166.6h1.3M1155.5 169.7h1.3M1157.6 165.6h1.3M1149.9 164.1h1.3M1152.7 165.1h1.3M1148.0 160.0h1.3M1153.1 162.8h1.3M1151.0 164.3h1.3M1154.5 169.2h1.3M1153.9 169.2h1.3M1144.1 165.3h1.3M1154.4 164.4h1.3M1156.1 168.9h1.3M1155.2 169.6h1.3M1149.3 162.5h1.3M1161.1 164.3h1.3M1157.1 166.4h1.3M1147.9 169.6h1.3M1151.4 167.9h1.3M1156.8 169.1h1.3M1148.8 166.1h1.3M1157.8 168.3h1.3M1148.3 162.7h1.3M1142.0 167.7h1.3M1134.2 161.8h1.3M1158.9 169.0h1.3M1149.7 166.9h1.3M1152.1 163.3h1.3M1169.0 169.3h1.3" stroke="#d0f020" stroke-width="1.3" fill="none"/>
<path d="M1151.8 168.1h1.3M1155.1 170.0h1.3M1156.3 165.9h1.3M1153.1 172.2h1.3M1152.5 172.0h1.3M1144.1 168.2h1.3M1151.6 168.3h1.3M1150.5 161.6h1.3M1155.5 163.2h1.3M1155.8 165.6h1.3M1154.3 169.4h1.3M1148.7 164.5h1.3M1155.9 171.8h1.3M1146.6 167.5h1.3M1161.0 171.8h1.3M1155.9 171.6h1.3M1146.9 168.0h1.3M1147.9 169.0h1.3M1150.7 168.1h1.3M1138.9 167.5h1.3M1154.5 161.1h1.3M1151.8 168.7h1.3M1160.7 158.4h1.3M1155.5 167.3h1.3M1151.7 166.8h1.3M1148.4 163.0h1.3M1154.0 172.4h1.3M1161.1 168.8h1.3M1152.3 171.4h1.3M1155.9 169.5h1.3" stroke="#ffa010" stroke-width="1.3" fill="none"/>
<path d="M1153.2 173.6h1.3M1155.6 168.1h1.3M1157.7 166.2h1.3M1152.7 174.5h1.3M1158.4 170.7h1.3M1160.2 168.1h1.3M1142.0 163.2h1.3M1153.2 163.6h1.3M1149.4 168.1h1.3M1144.3 163.4h1.3M1149.3 161.5h1.3M1150.1 168.4h1.3M1144.1 168.8h1.3M1152.0 167.7h1.3M1154.9 171.1h1.3M1154.5 165.6h1.3M1152.4 167.0h1.3M1151.0 167.2h1.3M1145.3 167.4h1.3M1155.1 170.3h1.3M1152.6 166.4h1.3M1141.7 167.5h1.3M1152.4 167.1h1.3M1155.3 171.3h1.3" stroke="#ff2a10" stroke-width="1.3" fill="none"/>
<rect x="1112.6" y="98.6" width="84.8" height="60.8" fill="none" stroke="#000" stroke-width="1.5"/>
<text x="1020.64" y="158.94" font-size="46.20" textLength="87.20" lengthAdjust="spacingAndGlyphs">15.6</text>
<text x="759.01" y="354.19" font-size="43.85" textLength="145.89" lengthAdjust="spacingAndGlyphs">isotype</text>
<text x="1069.96" y="359.54" font-size="46.15" textLength="123.95" lengthAdjust="spacingAndGlyphs">HFRS</text>
<rect x="689.4" y="362.6" width="263.3" height="258.6" fill="#fff"/>
<rect x="715.4" y="363.6" width="235.3" height="234.6" fill="#fff" stroke="#000" stroke-width="1.3"/>
<path d="M708.8 371.1H715.4M708.8 415.9H715.4M708.8 461.9H715.4M708.8 512.9H715.4M711.8 402.4H715.4M711.8 394.5H715.4M711.8 388.9H715.4M711.8 384.6H715.4M711.8 381.0H715.4M711.8 378.0H715.4M711.8 375.4H715.4M711.8 373.1H715.4M711.8 448.1H715.4M711.8 440.0H715.4M711.8 434.2H715.4M711.8 429.7H715.4M711.8 426.1H715.4M711.8 423.0H715.4M711.8 420.4H715.4M711.8 418.0H715.4M711.8 497.5H715.4M711.8 488.6H715.4M711.8 482.2H715.4M711.8 477.3H715.4M711.8 473.2H715.4M711.8 469.8H715.4M711.8 466.8H715.4M711.8 464.2H715.4M711.8 515.5H715.4M711.8 517.8H715.4M711.8 520.4H715.4M711.8 523.2H715.4M711.8 528.8H715.4M711.8 533.9H715.4M711.8 540.3H715.4M711.8 547.2H715.4M711.8 579.3H715.4M711.8 586.2H715.4M711.8 593.0H715.4M820.4 598.2V604.4M881.7 598.2V604.4M939.1 598.2V604.4M838.9 598.2V601.6M849.6 598.2V601.6M857.3 598.2V601.6M863.2 598.2V601.6M868.1 598.2V601.6M872.2 598.2V601.6M875.8 598.2V601.6M878.9 598.2V601.6M899.0 598.2V601.6M909.1 598.2V601.6M916.3 598.2V601.6M921.8 598.2V601.6M926.4 598.2V601.6M930.2 598.2V601.6M933.5 598.2V601.6M936.5 598.2V601.6M720.5 598.2V601.6M727.8 598.2V601.6M737.3 598.2V601.6M777.5 598.2V601.6M785.7 598.2V601.6M793.2 598.2V601.6M799.4 598.2V601.6M805.0 598.2V601.6M809.7 598.2V601.6M812.7 598.2V601.6M815.7 598.2V601.6M818.2 598.2V601.6" stroke="#000" stroke-width="1.3" fill="none"/>
<path d="M709.2 556.0H715.4M708.6 563.9H715.4M709.2 571.2H715.4M711.4 560.0H715.4M711.4 567.6H715.4" stroke="#000" stroke-width="2.2" fill="none"/>
<path d="M747.2 598.2V604.2M756.9 598.2V604.2M766.4 598.2V604.2M752.0 598.2V601.8M761.7 598.2V601.8" stroke="#000" stroke-width="2.4" fill="none"/>
<rect x="746.2" y="598.2" width="21.2" height="2.4" fill="#000"/>
<rect x="712.8" y="555.0" width="2.6" height="17.2" fill="#000"/>
<rect x="700.8" y="365.5" width="1.0" height="1.2" fill="#222"/>
<rect x="700.8" y="367.9" width="1.0" height="1.4" fill="#222"/>
<rect x="700.8" y="410.3" width="1.0" height="1.2" fill="#222"/>
<rect x="700.8" y="412.7" width="1.0" height="1.4" fill="#222"/>
<text x="691.15" y="467.40" font-size="9.58" textLength="8.22" lengthAdjust="spacingAndGlyphs">10</text><text x="699.73" y="461.45" font-size="9.35" textLength="4.80" lengthAdjust="spacingAndGlyphs">4</text>
<text x="691.15" y="518.40" font-size="9.58" textLength="8.22" lengthAdjust="spacingAndGlyphs">10</text><text x="699.58" y="512.41" font-size="9.15" textLength="5.10" lengthAdjust="spacingAndGlyphs">3</text>
<text x="694.50" y="567.20" font-size="9.58" textLength="4.82" lengthAdjust="spacingAndGlyphs">0</text>
<text x="759.18" y="618.80" font-size="9.58" textLength="5.05" lengthAdjust="spacingAndGlyphs">0</text>
<text x="821.05" y="618.80" font-size="9.58" textLength="8.22" lengthAdjust="spacingAndGlyphs">10</text><text x="829.14" y="613.21" font-size="9.15" textLength="5.79" lengthAdjust="spacingAndGlyphs">3</text>
<text x="882.35" y="618.80" font-size="9.58" textLength="8.22" lengthAdjust="spacingAndGlyphs">10</text><text x="890.60" y="613.25" font-size="9.35" textLength="5.45" lengthAdjust="spacingAndGlyphs">4</text>
<rect x="941.1" y="613.2" width="1.0" height="1.0" fill="#222"/>
<rect x="943.5" y="613.2" width="1.0" height="1.0" fill="#222"/>
<text x="944.93" y="613.21" font-size="9.29" textLength="5.15" lengthAdjust="spacingAndGlyphs">5</text>
<path d="M856.6 458.0h1.3M871.3 452.1h1.3M872.0 466.6h1.3M857.8 460.2h1.3M894.7 479.6h1.3M885.8 464.6h1.3M894.8 463.3h1.3M863.6 463.8h1.3M873.9 451.2h1.3M857.9 463.4h1.3M904.2 453.0h1.3M878.3 462.3h1.3M885.3 456.7h1.3M865.9 460.2h1.3M868.5 509.1h1.3M871.5 476.8h1.3M869.8 464.6h1.3M885.8 458.9h1.3M855.1 446.3h1.3M887.6 470.3h1.3M910.9 462.0h1.3M856.7 448.5h1.3M887.5 448.1h1.3M858.8 479.9h1.3M864.8 469.2h1.3M867.3 456.8h1.3M875.2 456.2h1.3M854.2 462.4h1.3M866.0 478.1h1.3M870.0 470.2h1.3M890.0 477.1h1.3M863.7 471.1h1.3M859.1 467.5h1.3M877.0 453.1h1.3M871.9 458.1h1.3M860.4 462.7h1.3M901.4 468.9h1.3M855.5 467.5h1.3M853.8 453.4h1.3M867.1 454.4h1.3M870.9 446.0h1.3M895.0 452.1h1.3M882.1 490.2h1.3M883.3 456.3h1.3M865.6 470.0h1.3M865.1 469.0h1.3M905.5 456.9h1.3M853.8 464.8h1.3M854.8 451.9h1.3M865.3 460.9h1.3M869.3 451.4h1.3M883.3 463.4h1.3M860.7 469.8h1.3M897.1 466.6h1.3M870.7 477.6h1.3M870.8 448.5h1.3M860.9 468.0h1.3M880.3 475.9h1.3M859.8 459.2h1.3M869.9 458.7h1.3M865.8 467.5h1.3M867.6 450.9h1.3M861.5 461.7h1.3M876.1 462.4h1.3M859.5 449.8h1.3M861.3 451.9h1.3M855.2 472.3h1.3M872.0 465.0h1.3M873.3 477.6h1.3M858.7 474.1h1.3M865.0 465.1h1.3M856.3 453.0h1.3M866.4 452.4h1.3M911.8 453.7h1.3M896.6 451.4h1.3M855.3 472.8h1.3M905.7 461.0h1.3M866.2 463.2h1.3M867.7 450.6h1.3M887.9 458.4h1.3M884.1 469.1h1.3M883.1 453.9h1.3M890.4 470.7h1.3M867.3 476.9h1.3M881.8 458.3h1.3M880.2 475.8h1.3M869.3 467.5h1.3M863.0 454.4h1.3M864.6 457.8h1.3M868.1 459.5h1.3M857.2 469.8h1.3M877.5 458.4h1.3M859.5 466.3h1.3M859.9 474.3h1.3M872.2 458.7h1.3M884.2 463.0h1.3M864.1 451.3h1.3M870.7 455.1h1.3M873.1 450.3h1.3M900.4 457.1h1.3M864.2 467.6h1.3M871.2 491.5h1.3M861.8 457.4h1.3M854.5 451.6h1.3M875.5 456.8h1.3M867.5 448.4h1.3M891.4 459.6h1.3M869.0 458.9h1.3M857.7 451.4h1.3M880.7 450.0h1.3M875.8 449.7h1.3M883.9 453.9h1.3M857.6 463.8h1.3M890.3 468.1h1.3M866.4 463.1h1.3M877.2 453.8h1.3M864.1 507.5h1.3M881.7 482.8h1.3M878.9 458.6h1.3M904.9 464.5h1.3M872.4 461.4h1.3M875.1 457.3h1.3M875.0 461.6h1.3M859.4 467.6h1.3M853.9 460.5h1.3M861.7 450.8h1.3M893.0 456.9h1.3M860.2 448.8h1.3M880.1 456.9h1.3M871.0 504.1h1.3M892.7 470.3h1.3M862.9 470.1h1.3M869.8 461.8h1.3M877.5 451.2h1.3M880.6 454.2h1.3M888.0 449.4h1.3M878.7 452.6h1.3M892.0 480.5h1.3M865.5 450.1h1.3M876.9 460.5h1.3M874.3 462.1h1.3M885.4 451.2h1.3M854.8 448.7h1.3M895.0 463.1h1.3M854.1 457.0h1.3M868.0 478.5h1.3M866.5 480.2h1.3M861.9 459.9h1.3M878.1 453.1h1.3M884.2 464.6h1.3M856.3 465.4h1.3M880.0 451.7h1.3M855.0 458.3h1.3M880.1 477.3h1.3M859.9 449.7h1.3M867.9 459.8h1.3M874.8 473.8h1.3M903.1 491.0h1.3M892.3 472.0h1.3M886.1 454.3h1.3M871.4 473.6h1.3M860.9 457.7h1.3M881.0 450.9h1.3M867.7 463.3h1.3M859.0 477.1h1.3M886.2 457.0h1.3M904.6 452.2h1.3M882.7 464.6h1.3M853.8 472.4h1.3M877.3 458.9h1.3M856.8 457.4h1.3M879.5 461.1h1.3M862.8 455.6h1.3M878.5 462.8h1.3M856.2 464.4h1.3M879.2 448.1h1.3M855.5 459.1h1.3M886.2 460.4h1.3M854.1 484.2h1.3M892.0 477.7h1.3M874.7 458.6h1.3M871.3 453.1h1.3M870.7 449.8h1.3M895.5 456.9h1.3M853.9 452.0h1.3M867.3 456.5h1.3M859.3 483.2h1.3M878.2 460.7h1.3M856.7 444.1h1.3M867.1 460.2h1.3M870.4 463.4h1.3M897.5 462.3h1.3M856.0 473.7h1.3M867.2 459.4h1.3M874.4 462.2h1.3M889.0 481.0h1.3M875.5 463.3h1.3M885.8 451.6h1.3M908.4 465.7h1.3M878.9 451.4h1.3M861.6 474.5h1.3M860.7 443.1h1.3M859.9 471.8h1.3M867.4 461.2h1.3M885.7 468.6h1.3M862.5 461.7h1.3M855.3 449.1h1.3M883.3 471.0h1.3M886.4 470.3h1.3M869.6 467.9h1.3M881.3 463.1h1.3M874.1 495.8h1.3M859.0 468.6h1.3M858.7 466.0h1.3M863.8 459.3h1.3M885.1 445.1h1.3M856.2 469.0h1.3M859.5 466.2h1.3M889.3 460.9h1.3M857.5 465.3h1.3M881.1 456.1h1.3M878.7 497.7h1.3M881.4 468.7h1.3M865.2 481.4h1.3M875.4 457.8h1.3M896.5 455.2h1.3M860.3 474.8h1.3M876.3 460.4h1.3M889.5 461.2h1.3M893.0 454.8h1.3M871.0 464.4h1.3M856.3 469.1h1.3M880.9 455.7h1.3M869.2 476.4h1.3M894.1 452.0h1.3M859.0 454.1h1.3M889.0 471.3h1.3M868.5 463.6h1.3M882.3 480.1h1.3M883.6 452.4h1.3M874.9 467.9h1.3M893.3 455.7h1.3M863.1 460.4h1.3M888.1 457.6h1.3M856.0 443.4h1.3M894.1 482.4h1.3M879.5 450.5h1.3M861.5 465.3h1.3M893.3 495.9h1.3M862.1 466.2h1.3M903.6 461.5h1.3M876.2 453.1h1.3M884.0 449.3h1.3M876.9 462.3h1.3M889.2 463.1h1.3M896.9 463.7h1.3M870.4 456.4h1.3M894.7 470.3h1.3M875.3 462.4h1.3M884.6 470.5h1.3M855.5 469.2h1.3M876.0 468.4h1.3M875.0 459.6h1.3M910.2 454.2h1.3M882.7 448.7h1.3M858.9 482.1h1.3M876.4 442.4h1.3M868.8 463.1h1.3M856.6 453.1h1.3M869.7 462.1h1.3M862.8 452.8h1.3M860.5 469.9h1.3M889.2 457.1h1.3M854.4 459.5h1.3M872.6 464.8h1.3M887.9 464.7h1.3M898.4 456.9h1.3M898.1 451.9h1.3M854.3 457.8h1.3M857.3 468.1h1.3M876.6 461.9h1.3M857.5 456.0h1.3M875.3 469.0h1.3M881.3 470.1h1.3M877.7 459.0h1.3M866.9 473.6h1.3M853.9 457.1h1.3M871.1 459.5h1.3M880.7 457.2h1.3M867.8 456.4h1.3M869.7 463.7h1.3M861.6 455.6h1.3M861.6 458.0h1.3M862.8 453.6h1.3M865.2 450.8h1.3M855.9 460.0h1.3M885.1 480.0h1.3M856.1 477.8h1.3M857.2 451.6h1.3M870.2 466.3h1.3M854.8 463.2h1.3M871.7 452.9h1.3M865.9 476.0h1.3M880.5 465.5h1.3M869.0 467.3h1.3M890.5 463.7h1.3M856.3 451.7h1.3M874.3 468.8h1.3M895.8 453.2h1.3M907.1 464.0h1.3M874.3 470.3h1.3M876.7 461.8h1.3M886.7 465.2h1.3M874.5 459.6h1.3M907.8 463.5h1.3M879.1 459.3h1.3M886.9 458.2h1.3M880.6 463.9h1.3M899.0 461.8h1.3M880.4 476.8h1.3M884.1 453.3h1.3M858.8 470.7h1.3M902.3 462.5h1.3M873.7 444.1h1.3M905.1 464.4h1.3M908.3 470.5h1.3M884.4 477.1h1.3M878.9 463.0h1.3M855.4 452.6h1.3M862.3 453.9h1.3M854.1 463.0h1.3M863.5 449.2h1.3M878.8 483.8h1.3M875.9 456.5h1.3M888.9 462.1h1.3M871.4 452.8h1.3M870.9 457.4h1.3M874.8 462.6h1.3M893.1 452.0h1.3M860.5 465.9h1.3M880.5 462.5h1.3M866.9 466.6h1.3M894.7 459.4h1.3M884.1 470.3h1.3M859.2 462.6h1.3M877.4 449.9h1.3M874.2 465.6h1.3M893.3 459.9h1.3M864.3 461.3h1.3M867.1 458.1h1.3M898.3 453.0h1.3M894.2 458.0h1.3M865.2 452.0h1.3M864.0 462.6h1.3M908.0 451.5h1.3M873.9 451.9h1.3M892.2 453.7h1.3M861.2 471.7h1.3M855.5 473.1h1.3M896.3 472.4h1.3M866.3 449.2h1.3M874.4 456.5h1.3M854.7 459.8h1.3M884.5 458.7h1.3M857.5 465.9h1.3M875.9 456.5h1.3M859.6 472.8h1.3M863.0 450.4h1.3M891.8 482.1h1.3M894.2 465.2h1.3M871.6 485.6h1.3M877.0 459.6h1.3M855.8 460.9h1.3M857.5 466.4h1.3M877.0 465.9h1.3M864.1 454.8h1.3M871.1 477.0h1.3M877.6 450.8h1.3M858.7 452.8h1.3M870.2 453.9h1.3M899.4 451.5h1.3M870.5 501.8h1.3M909.4 470.1h1.3M907.1 462.0h1.3M856.9 448.7h1.3M885.6 465.5h1.3M868.7 464.4h1.3M887.3 465.2h1.3M868.7 481.8h1.3M882.3 455.7h1.3M894.5 445.9h1.3M882.2 460.7h1.3M900.1 477.2h1.3M888.0 457.2h1.3M862.6 468.0h1.3M855.1 454.4h1.3M857.4 460.4h1.3M873.4 464.3h1.3M881.2 456.7h1.3M865.6 459.6h1.3M867.7 457.4h1.3M857.6 466.7h1.3M873.6 468.2h1.3M858.5 446.3h1.3M856.7 472.6h1.3M882.5 461.9h1.3M869.0 449.2h1.3M873.1 456.8h1.3M867.8 508.7h1.3M863.2 459.5h1.3M887.2 473.2h1.3M872.8 448.8h1.3M866.4 457.8h1.3M911.9 470.5h1.3M902.7 461.8h1.3M881.1 463.9h1.3M873.0 472.8h1.3M894.7 464.4h1.3M868.5 450.7h1.3M884.1 476.7h1.3M904.4 461.6h1.3M897.4 449.7h1.3M866.9 457.5h1.3M856.7 474.3h1.3M859.7 454.2h1.3M871.6 502.0h1.3M856.7 467.4h1.3M858.4 459.7h1.3M879.2 452.1h1.3M878.0 478.5h1.3M872.8 462.6h1.3M870.3 469.2h1.3M864.1 452.4h1.3M892.4 468.0h1.3M873.2 450.9h1.3M880.2 472.8h1.3M871.0 482.5h1.3M869.4 454.2h1.3M870.2 456.7h1.3M858.5 451.4h1.3M870.7 476.2h1.3M895.6 465.6h1.3M855.0 449.3h1.3M860.6 457.1h1.3M882.6 462.7h1.3M868.1 450.9h1.3M885.0 466.3h1.3M854.4 459.1h1.3M907.1 464.3h1.3M864.8 451.1h1.3M859.5 479.2h1.3M864.6 462.4h1.3M854.8 456.2h1.3M857.7 468.3h1.3M869.2 497.6h1.3M867.7 463.2h1.3M887.6 457.1h1.3M854.5 460.3h1.3M870.8 460.1h1.3M856.0 448.2h1.3M868.8 456.8h1.3M858.9 457.4h1.3M887.9 491.7h1.3M864.9 443.5h1.3M866.5 455.3h1.3M865.9 470.8h1.3M906.8 461.0h1.3M902.5 457.7h1.3M872.5 460.4h1.3M855.7 472.2h1.3M874.5 462.7h1.3M891.8 454.5h1.3M853.9 453.3h1.3M860.7 469.0h1.3M874.7 464.6h1.3M895.4 484.1h1.3M876.4 472.5h1.3M888.9 451.7h1.3M854.7 459.9h1.3M869.9 459.6h1.3M858.7 462.6h1.3M873.8 450.8h1.3M858.1 452.3h1.3M870.6 452.8h1.3M858.3 463.8h1.3M885.8 451.4h1.3M875.2 461.4h1.3M890.9 452.9h1.3M880.3 474.4h1.3M867.2 472.9h1.3M877.6 452.6h1.3M907.3 470.0h1.3M874.6 450.4h1.3M908.7 466.3h1.3M891.3 463.5h1.3M905.4 450.7h1.3M893.8 455.8h1.3M855.2 453.4h1.3M884.1 467.7h1.3M883.5 463.1h1.3M863.2 484.1h1.3M871.4 451.8h1.3M881.9 473.3h1.3M875.6 475.8h1.3M874.4 472.8h1.3M884.7 466.3h1.3M855.0 459.1h1.3M859.1 456.5h1.3M870.5 459.2h1.3M891.8 453.8h1.3M888.0 459.8h1.3M886.4 464.0h1.3M908.4 460.8h1.3M855.3 456.0h1.3M881.0 456.9h1.3M862.2 468.5h1.3M890.5 455.8h1.3M855.2 481.6h1.3M857.8 461.8h1.3M858.3 454.8h1.3M872.1 482.0h1.3M874.6 465.1h1.3M880.8 456.8h1.3M894.2 466.5h1.3M881.6 460.6h1.3M854.3 444.2h1.3M880.4 448.5h1.3M862.7 449.7h1.3M868.1 482.9h1.3M863.2 460.9h1.3M856.9 462.3h1.3M865.8 498.6h1.3M854.5 486.3h1.3M858.6 454.8h1.3M895.9 457.9h1.3M859.8 477.8h1.3M882.4 449.7h1.3M870.6 451.5h1.3M887.8 480.9h1.3M872.1 462.1h1.3M877.7 477.7h1.3M873.9 472.4h1.3M884.3 458.9h1.3M879.4 450.5h1.3M856.1 452.3h1.3M898.0 453.8h1.3M864.5 451.9h1.3M900.0 462.4h1.3M862.6 454.2h1.3M857.1 456.5h1.3M875.4 472.1h1.3M860.9 454.8h1.3M875.7 469.6h1.3M868.9 462.5h1.3M877.4 453.2h1.3M863.9 455.5h1.3M880.5 473.7h1.3M890.5 454.2h1.3M880.4 453.3h1.3M860.1 485.2h1.3M857.2 457.3h1.3M881.6 452.0h1.3M876.3 462.7h1.3M868.7 478.6h1.3M857.0 464.2h1.3M867.1 469.4h1.3M867.8 451.2h1.3M880.4 467.8h1.3M871.4 462.6h1.3M874.6 480.3h1.3M884.3 473.6h1.3M882.0 458.1h1.3M854.3 468.1h1.3M864.0 450.4h1.3M864.4 451.9h1.3M854.7 451.4h1.3M874.4 450.4h1.3M894.7 465.4h1.3M864.3 472.3h1.3M870.0 452.7h1.3M884.2 446.7h1.3M885.2 466.9h1.3M854.0 464.2h1.3M854.0 453.2h1.3M856.2 462.1h1.3M894.0 477.2h1.3M859.6 468.6h1.3M854.5 456.6h1.3M889.6 462.3h1.3M861.0 471.3h1.3M894.2 449.5h1.3M883.6 468.7h1.3M861.0 458.5h1.3M882.1 471.5h1.3M879.3 468.4h1.3M856.7 472.9h1.3M906.1 471.3h1.3M895.3 453.1h1.3M901.1 454.2h1.3M863.0 476.5h1.3M868.0 458.4h1.3M856.3 450.5h1.3M860.3 468.6h1.3M884.3 479.3h1.3M877.5 457.8h1.3M855.1 474.3h1.3M871.3 473.1h1.3M864.8 451.7h1.3M856.8 449.4h1.3M857.1 468.2h1.3M895.7 457.9h1.3M889.8 478.0h1.3M860.2 470.7h1.3M899.8 477.3h1.3M887.4 472.9h1.3M885.0 459.0h1.3M854.6 468.9h1.3M876.5 464.2h1.3M862.8 468.5h1.3M856.8 456.1h1.3M870.0 462.1h1.3M893.9 453.3h1.3M898.8 456.6h1.3M872.2 450.6h1.3M855.6 449.4h1.3M882.3 451.2h1.3M877.6 463.8h1.3M856.1 451.6h1.3M861.3 448.4h1.3M859.1 458.2h1.3M872.4 454.3h1.3M861.8 459.9h1.3M867.8 484.0h1.3M877.5 462.4h1.3M882.2 452.6h1.3M867.7 464.2h1.3M908.1 456.6h1.3M865.6 460.4h1.3M857.5 467.0h1.3M869.5 454.7h1.3M859.7 457.1h1.3M898.2 446.3h1.3M870.7 468.2h1.3M896.6 500.2h1.3M861.7 455.3h1.3M878.2 452.7h1.3M866.2 478.5h1.3M884.0 458.0h1.3M882.7 476.4h1.3M890.5 455.0h1.3M863.0 460.6h1.3M884.1 456.7h1.3M868.2 457.3h1.3M877.9 459.4h1.3M892.4 474.6h1.3M882.2 491.2h1.3M853.9 468.4h1.3M869.8 494.4h1.3M855.8 470.0h1.3M871.4 481.2h1.3M869.4 452.5h1.3M873.0 482.3h1.3M880.9 477.6h1.3M869.4 466.2h1.3M893.5 454.0h1.3M858.2 464.6h1.3M873.8 451.2h1.3M868.5 466.4h1.3M879.0 465.3h1.3M879.5 470.5h1.3M866.8 452.8h1.3M879.4 454.9h1.3M908.0 481.1h1.3M874.3 459.0h1.3M866.7 459.7h1.3M865.0 464.2h1.3M884.4 459.5h1.3M860.5 464.2h1.3M882.0 458.9h1.3M854.3 451.2h1.3M880.8 468.0h1.3M858.4 466.9h1.3M872.5 460.4h1.3M859.3 452.5h1.3M872.2 453.3h1.3M858.2 458.1h1.3M901.4 442.2h1.3M857.5 454.6h1.3M863.6 463.2h1.3M867.8 460.9h1.3M876.5 450.8h1.3M890.0 491.1h1.3M884.3 466.2h1.3M860.6 459.1h1.3M854.3 465.8h1.3M866.6 464.7h1.3M895.4 455.5h1.3M856.0 456.4h1.3M855.1 463.2h1.3M894.7 459.0h1.3M878.0 459.0h1.3M866.0 473.8h1.3M882.2 463.4h1.3M862.6 462.6h1.3M891.6 452.9h1.3M866.8 460.5h1.3M894.7 455.3h1.3M869.4 454.8h1.3M905.4 461.7h1.3M862.3 451.1h1.3M871.7 460.4h1.3M894.6 465.6h1.3M878.8 455.0h1.3M858.3 460.4h1.3M870.1 449.6h1.3M854.4 451.6h1.3M869.3 466.4h1.3M878.8 459.0h1.3M854.6 465.2h1.3M871.6 462.7h1.3M886.9 472.9h1.3M863.2 459.8h1.3M907.6 461.6h1.3M857.0 461.9h1.3M864.5 460.5h1.3M855.6 471.4h1.3M866.6 465.9h1.3M877.4 463.8h1.3M857.2 449.3h1.3M910.8 475.9h1.3M892.4 463.9h1.3M865.8 461.5h1.3M854.7 464.7h1.3M864.5 451.3h1.3M856.4 468.8h1.3M885.4 456.8h1.3M865.6 462.6h1.3M857.3 471.3h1.3M910.7 452.4h1.3M886.3 453.1h1.3M873.7 454.7h1.3M860.3 460.3h1.3M876.7 462.0h1.3M874.1 459.6h1.3M900.3 450.2h1.3M856.0 456.2h1.3M860.2 478.9h1.3M866.9 453.1h1.3M857.7 476.2h1.3M871.5 454.9h1.3M878.9 466.9h1.3M866.4 452.7h1.3M875.0 466.1h1.3M873.9 452.4h1.3M855.8 460.7h1.3M860.2 457.6h1.3M867.9 464.8h1.3M888.6 452.2h1.3M888.6 453.5h1.3M866.7 466.0h1.3M907.9 475.3h1.3M857.1 469.7h1.3M863.2 462.6h1.3M860.6 481.4h1.3M907.8 452.9h1.3M877.1 451.0h1.3M869.6 504.3h1.3M906.1 451.0h1.3M861.5 462.0h1.3M883.1 468.7h1.3M867.5 479.0h1.3M899.4 451.4h1.3M865.2 467.1h1.3M890.7 453.9h1.3M865.7 453.1h1.3M864.6 479.8h1.3M877.6 464.7h1.3M876.9 455.9h1.3M889.8 462.9h1.3M860.3 458.5h1.3M863.4 444.6h1.3M877.1 483.1h1.3M856.3 451.3h1.3M856.3 496.2h1.3M865.5 458.6h1.3M899.6 458.4h1.3M863.3 449.2h1.3M854.0 478.2h1.3M860.9 469.9h1.3M858.3 448.3h1.3M872.9 481.4h1.3M889.6 451.4h1.3M865.0 483.5h1.3M859.6 468.8h1.3M860.4 492.3h1.3M873.5 475.1h1.3M866.3 451.8h1.3M894.6 452.2h1.3M866.6 491.7h1.3M855.5 459.3h1.3M859.0 449.6h1.3M857.1 474.3h1.3M890.1 456.9h1.3M861.1 448.8h1.3M867.0 453.7h1.3M864.8 459.1h1.3M875.5 483.7h1.3M862.9 467.2h1.3M897.0 460.2h1.3M888.5 454.6h1.3M879.0 457.7h1.3M854.3 463.0h1.3M896.8 465.3h1.3M878.0 468.5h1.3M901.4 453.5h1.3M860.9 461.8h1.3M880.2 462.0h1.3M879.6 463.0h1.3M865.8 460.8h1.3M871.6 467.0h1.3M877.6 449.2h1.3M872.6 486.6h1.3M858.0 462.7h1.3M863.6 456.2h1.3M871.7 454.9h1.3M892.9 458.2h1.3M854.2 465.0h1.3M859.6 449.7h1.3M865.3 480.2h1.3M886.9 452.8h1.3M868.9 473.5h1.3M888.1 473.0h1.3M874.4 463.1h1.3M856.4 455.0h1.3M866.6 465.1h1.3M882.3 473.5h1.3M870.6 452.6h1.3M885.0 458.8h1.3M890.7 461.0h1.3M856.9 450.9h1.3M883.8 471.1h1.3M903.4 490.4h1.3M881.4 476.7h1.3M888.9 457.6h1.3M875.6 453.0h1.3M895.3 488.1h1.3M888.7 451.2h1.3M889.8 448.7h1.3M867.4 469.9h1.3M884.7 468.0h1.3M868.2 469.1h1.3M885.9 479.0h1.3M869.6 456.3h1.3M855.0 480.0h1.3M861.7 483.6h1.3M855.1 476.8h1.3M892.0 451.4h1.3M858.1 461.0h1.3M874.1 456.4h1.3M877.8 445.9h1.3M889.7 462.7h1.3M870.7 464.4h1.3M885.7 449.4h1.3M863.4 471.4h1.3M874.9 469.0h1.3M872.3 455.8h1.3M858.1 442.2h1.3M860.4 449.1h1.3M856.0 455.2h1.3M893.3 468.0h1.3M871.2 475.6h1.3M881.8 453.8h1.3M870.7 471.7h1.3M855.2 448.5h1.3M897.8 465.5h1.3M887.6 455.7h1.3M860.3 483.7h1.3M896.5 449.7h1.3M868.8 452.3h1.3M876.7 498.4h1.3M858.4 466.2h1.3M858.0 454.6h1.3M872.5 458.5h1.3M862.3 472.1h1.3M860.0 475.8h1.3M868.1 450.6h1.3M859.0 463.3h1.3M884.0 451.4h1.3M870.4 471.7h1.3M856.2 451.0h1.3M856.6 457.7h1.3M894.4 465.6h1.3M875.2 478.8h1.3M880.8 457.1h1.3M863.1 483.6h1.3M876.9 464.0h1.3M863.0 446.5h1.3M882.0 461.7h1.3M886.3 473.4h1.3M872.9 462.1h1.3M857.3 458.8h1.3M881.0 461.6h1.3M854.8 460.7h1.3M884.3 464.4h1.3M878.9 491.5h1.3M876.2 459.5h1.3M856.9 467.7h1.3M856.8 456.8h1.3M883.5 453.7h1.3M883.9 466.0h1.3M859.2 455.7h1.3M860.0 462.8h1.3M866.1 492.9h1.3M867.6 451.2h1.3M908.7 464.8h1.3M895.5 453.8h1.3M858.6 470.9h1.3M866.0 454.7h1.3M881.6 459.7h1.3M880.9 482.5h1.3M881.5 485.3h1.3M854.8 464.2h1.3M855.9 451.6h1.3M869.4 460.1h1.3M895.2 477.5h1.3M882.9 469.7h1.3M876.7 454.6h1.3M888.1 471.9h1.3M863.4 474.1h1.3M884.9 451.2h1.3M866.4 451.4h1.3M872.1 458.7h1.3M855.4 451.7h1.3M861.3 459.8h1.3M893.1 487.4h1.3M887.1 468.6h1.3M861.0 466.9h1.3M868.9 450.8h1.3M889.4 461.3h1.3M893.8 466.6h1.3M855.2 462.7h1.3M864.2 452.3h1.3M873.3 475.1h1.3M855.4 470.6h1.3M870.4 452.9h1.3M859.5 474.3h1.3M861.0 485.3h1.3M866.0 461.3h1.3M886.4 456.4h1.3M883.8 450.3h1.3M871.4 453.0h1.3M871.7 462.6h1.3M877.8 450.8h1.3M907.5 450.4h1.3M865.6 478.4h1.3M866.5 451.8h1.3M864.5 451.6h1.3M860.5 461.3h1.3M872.6 463.6h1.3M885.5 475.2h1.3M872.0 458.2h1.3M867.5 462.4h1.3M882.1 451.9h1.3M861.3 458.1h1.3M870.2 454.6h1.3M896.1 450.7h1.3M866.1 452.7h1.3M873.8 455.4h1.3M888.8 497.5h1.3M862.4 468.3h1.3M903.9 453.3h1.3M856.1 459.6h1.3M883.9 451.3h1.3M864.4 460.8h1.3M880.7 451.8h1.3M874.5 469.4h1.3M858.2 458.4h1.3M880.5 499.5h1.3M862.0 457.8h1.3M863.2 454.6h1.3M859.1 461.2h1.3M869.8 468.6h1.3M905.6 451.1h1.3M855.5 474.2h1.3M860.4 467.1h1.3M893.0 461.5h1.3M869.6 458.4h1.3M859.2 457.9h1.3M873.3 462.1h1.3M856.6 461.4h1.3M868.9 454.5h1.3M889.9 442.9h1.3M873.5 459.3h1.3M863.5 461.4h1.3M856.4 452.5h1.3M876.4 471.5h1.3M883.6 455.5h1.3M857.4 462.7h1.3M884.7 457.9h1.3M878.4 452.7h1.3M860.9 450.4h1.3M884.9 468.3h1.3M857.4 455.1h1.3M862.1 451.4h1.3M876.3 458.6h1.3M879.0 462.3h1.3M870.0 462.1h1.3M856.6 451.9h1.3M878.3 442.3h1.3M856.8 469.2h1.3M911.1 466.9h1.3M874.9 467.4h1.3M887.7 453.3h1.3M869.0 465.8h1.3M890.2 461.1h1.3M856.3 465.2h1.3M856.1 467.5h1.3M871.2 455.3h1.3M858.5 468.4h1.3M871.8 484.4h1.3M867.1 468.9h1.3M876.3 454.0h1.3M858.4 456.0h1.3M856.7 471.6h1.3M855.0 458.4h1.3M854.1 464.4h1.3M860.3 482.6h1.3M857.4 453.8h1.3M861.7 457.7h1.3M890.8 497.8h1.3M856.1 453.7h1.3M855.9 480.9h1.3M881.0 533.0h1.3" stroke="#1818ff" stroke-width="1.3" fill="none"/>
<path d="M859.0 461.6h1.3M872.9 461.3h1.3M867.1 454.2h1.3M857.4 458.9h1.3M857.5 465.6h1.3M856.7 460.1h1.3M857.5 456.3h1.3M855.3 466.0h1.3M860.4 453.2h1.3M862.5 450.3h1.3M854.6 450.7h1.3M860.4 462.7h1.3M854.2 449.7h1.3M857.3 461.6h1.3M857.1 464.1h1.3M861.6 455.5h1.3M855.7 451.2h1.3M855.8 453.5h1.3M866.9 458.0h1.3M878.4 455.5h1.3M857.8 460.6h1.3M854.2 460.1h1.3M855.8 453.5h1.3M863.3 458.9h1.3M855.2 453.7h1.3M855.4 464.2h1.3M870.1 466.6h1.3M893.6 453.2h1.3M859.3 454.6h1.3M854.6 465.8h1.3M887.6 452.9h1.3M854.5 454.6h1.3M858.4 461.2h1.3M858.5 456.8h1.3M855.6 463.7h1.3M855.2 452.4h1.3M858.3 455.8h1.3M862.3 457.9h1.3M855.1 465.5h1.3M861.8 458.1h1.3M859.0 455.2h1.3M858.4 464.0h1.3M859.5 467.6h1.3M858.1 468.7h1.3M863.3 461.0h1.3M874.1 452.6h1.3M854.0 460.9h1.3M858.4 464.2h1.3M866.1 461.5h1.3M867.5 461.5h1.3M863.6 463.6h1.3M861.5 460.6h1.3M854.6 464.8h1.3M856.0 471.7h1.3M855.7 465.1h1.3M858.6 465.4h1.3M880.6 455.9h1.3M858.9 468.4h1.3M857.3 452.3h1.3M855.3 463.8h1.3M855.1 457.3h1.3M855.1 449.0h1.3M855.6 458.6h1.3M857.5 470.0h1.3M857.7 453.4h1.3M855.3 466.0h1.3M858.7 459.7h1.3M858.4 469.2h1.3M858.4 458.0h1.3M857.2 457.3h1.3M860.6 459.9h1.3M864.1 459.3h1.3M870.7 458.1h1.3M871.5 458.2h1.3M856.8 459.0h1.3M855.0 463.7h1.3M856.6 464.4h1.3M856.5 455.4h1.3M857.3 454.5h1.3M871.2 459.1h1.3M856.8 455.9h1.3" stroke="#30d8f8" stroke-width="1.3" fill="none"/>
<path d="M856.7 462.4h1.3M858.9 461.5h1.3M857.2 454.4h1.3M855.7 460.2h1.3M862.1 461.3h1.3M864.2 457.4h1.3M857.0 459.4h1.3M855.2 453.1h1.3M857.2 459.4h1.3M866.6 464.7h1.3M861.7 462.6h1.3M870.9 466.8h1.3M855.0 453.1h1.3M860.6 465.3h1.3M862.2 454.4h1.3M874.2 466.4h1.3M859.1 456.7h1.3M855.3 453.6h1.3M856.5 459.0h1.3M855.5 454.9h1.3M876.8 453.6h1.3M857.7 455.3h1.3M860.4 454.4h1.3M855.8 455.7h1.3M860.2 457.6h1.3M855.5 455.9h1.3M858.3 453.2h1.3M855.2 455.3h1.3M856.0 457.2h1.3M857.1 462.3h1.3M863.6 450.3h1.3M859.9 454.4h1.3M874.3 455.0h1.3M858.3 451.6h1.3M863.8 460.1h1.3M858.3 465.6h1.3M871.3 462.7h1.3M856.6 456.8h1.3M857.3 456.6h1.3M858.4 461.0h1.3M857.1 455.6h1.3M856.2 459.7h1.3M878.0 453.8h1.3M859.0 454.4h1.3M861.9 466.4h1.3M854.5 454.2h1.3M879.0 454.6h1.3M880.9 458.1h1.3M868.0 462.5h1.3M861.1 461.0h1.3M855.5 461.5h1.3M879.3 456.0h1.3M859.2 454.3h1.3M856.2 455.1h1.3M869.7 458.0h1.3M864.7 460.7h1.3M859.6 456.3h1.3M858.4 460.5h1.3M861.2 461.6h1.3M855.9 462.0h1.3M856.1 455.2h1.3M854.9 462.4h1.3M857.7 463.1h1.3M862.5 461.8h1.3M873.6 457.3h1.3M863.4 462.2h1.3M857.4 464.3h1.3M855.0 461.2h1.3M865.8 455.1h1.3M866.6 453.1h1.3M860.1 452.4h1.3M863.1 460.1h1.3M857.6 468.7h1.3M855.4 468.0h1.3M855.9 465.4h1.3M855.3 466.1h1.3M856.2 459.3h1.3M854.6 458.3h1.3M862.0 460.2h1.3M862.9 459.4h1.3M855.6 455.5h1.3M873.7 461.8h1.3M863.4 451.5h1.3M858.9 453.9h1.3M857.5 460.9h1.3M859.6 454.2h1.3M868.7 458.4h1.3M854.9 451.0h1.3M857.8 460.5h1.3M859.8 459.5h1.3M859.3 457.5h1.3M858.0 454.3h1.3M857.6 461.5h1.3M868.7 462.4h1.3M858.3 458.4h1.3M856.4 458.7h1.3M856.5 459.6h1.3M857.5 464.7h1.3M861.0 463.0h1.3M860.9 470.4h1.3M856.6 460.0h1.3M859.1 461.9h1.3M858.3 455.6h1.3M859.7 458.2h1.3M874.6 462.5h1.3M858.7 454.4h1.3M855.2 462.9h1.3M859.3 467.9h1.3M856.4 457.7h1.3M865.4 459.9h1.3M856.1 462.6h1.3M854.4 452.4h1.3M856.0 455.8h1.3M854.0 458.6h1.3M856.9 449.6h1.3M855.3 463.9h1.3M855.9 455.7h1.3M860.4 463.7h1.3M863.0 462.4h1.3M864.1 451.5h1.3M856.8 463.5h1.3M864.8 460.1h1.3M858.2 464.7h1.3M854.4 462.4h1.3M862.4 454.8h1.3M858.6 461.3h1.3M871.6 456.8h1.3M857.7 455.4h1.3M887.8 458.4h1.3M874.8 463.0h1.3M860.7 464.3h1.3M854.0 455.1h1.3M855.3 461.6h1.3M858.5 456.3h1.3M870.8 451.0h1.3M858.4 460.3h1.3M856.7 458.4h1.3M862.5 463.9h1.3M860.6 467.2h1.3M856.6 459.8h1.3M854.5 453.5h1.3M855.6 470.5h1.3M868.2 464.0h1.3M880.8 471.9h1.3M856.7 460.4h1.3M854.2 459.9h1.3M856.0 453.4h1.3M858.6 449.7h1.3M859.3 455.4h1.3M853.8 465.2h1.3M858.8 467.5h1.3M860.9 454.7h1.3M859.9 457.4h1.3M857.5 452.9h1.3M861.7 460.1h1.3M862.5 461.6h1.3M857.2 454.5h1.3M858.9 463.2h1.3M864.6 459.6h1.3M857.5 451.3h1.3M854.3 462.6h1.3M855.6 461.4h1.3M856.8 451.9h1.3M859.0 457.9h1.3M863.3 452.3h1.3M859.0 451.0h1.3M857.1 454.5h1.3M857.0 457.9h1.3M858.0 450.0h1.3M859.2 464.0h1.3M867.9 462.2h1.3M855.5 459.7h1.3M854.6 466.0h1.3M856.4 456.5h1.3M854.5 450.8h1.3M853.8 451.8h1.3" stroke="#22ee30" stroke-width="1.3" fill="none"/>
<path d="M857.6 462.1h1.3M860.5 456.5h1.3M866.8 460.6h1.3M854.4 459.2h1.3M858.1 458.7h1.3M857.9 453.0h1.3M854.5 455.4h1.3M856.7 456.1h1.3M854.8 461.2h1.3M857.8 458.3h1.3M858.0 455.0h1.3M856.3 466.8h1.3M860.6 465.9h1.3M856.0 452.5h1.3M872.8 456.1h1.3M859.9 461.9h1.3M868.2 456.8h1.3M854.2 460.3h1.3M859.6 460.1h1.3M856.6 453.3h1.3M861.3 459.4h1.3M857.7 454.9h1.3M856.0 455.1h1.3M854.1 457.2h1.3M854.5 461.7h1.3M855.7 455.8h1.3M856.6 454.2h1.3M857.3 453.1h1.3M859.0 469.0h1.3M858.1 458.9h1.3M856.7 460.0h1.3M853.8 456.0h1.3M861.1 454.5h1.3M855.7 466.8h1.3" stroke="#d0f020" stroke-width="1.3" fill="none"/>
<path d="M857.7 453.5h1.3M855.5 455.2h1.3M856.3 456.2h1.3M858.5 467.3h1.3M857.0 459.1h1.3M860.6 459.1h1.3M861.2 455.8h1.3M857.4 453.5h1.3M857.7 458.3h1.3M856.9 453.8h1.3M857.3 455.1h1.3M857.9 463.3h1.3M862.6 452.8h1.3M855.5 454.8h1.3M858.9 457.3h1.3M854.8 458.1h1.3" stroke="#ffa010" stroke-width="1.3" fill="none"/>
<path d="M853.9 456.9h1.3M858.4 456.1h1.3M854.8 458.5h1.3M863.7 461.8h1.3M867.2 462.6h1.3M862.9 462.6h1.3M860.7 462.1h1.3M860.1 457.7h1.3M857.6 458.1h1.3M858.2 464.1h1.3M857.0 463.6h1.3" stroke="#ff2a10" stroke-width="1.3" fill="none"/>
<rect x="835.6" y="388.6" width="84.8" height="60.8" fill="none" stroke="#000" stroke-width="1.5"/>
<text x="752.71" y="444.53" font-size="47.14" textLength="85.44" lengthAdjust="spacingAndGlyphs">1.54</text>
<rect x="971.0" y="362.0" width="263.3" height="258.6" fill="#fff"/>
<rect x="997.0" y="363.0" width="235.3" height="234.6" fill="#fff" stroke="#000" stroke-width="1.3"/>
<path d="M990.4 370.5H997.0M990.4 415.3H997.0M990.4 461.3H997.0M990.4 512.3H997.0M993.4 401.8H997.0M993.4 393.9H997.0M993.4 388.3H997.0M993.4 384.0H997.0M993.4 380.4H997.0M993.4 377.4H997.0M993.4 374.8H997.0M993.4 372.5H997.0M993.4 447.5H997.0M993.4 439.4H997.0M993.4 433.6H997.0M993.4 429.1H997.0M993.4 425.5H997.0M993.4 422.4H997.0M993.4 419.8H997.0M993.4 417.4H997.0M993.4 496.9H997.0M993.4 488.0H997.0M993.4 481.6H997.0M993.4 476.7H997.0M993.4 472.6H997.0M993.4 469.2H997.0M993.4 466.2H997.0M993.4 463.6H997.0M993.4 514.9H997.0M993.4 517.2H997.0M993.4 519.8H997.0M993.4 522.6H997.0M993.4 528.2H997.0M993.4 533.3H997.0M993.4 539.7H997.0M993.4 546.6H997.0M993.4 578.7H997.0M993.4 585.6H997.0M993.4 592.4H997.0M1102.0 597.6V603.8M1163.3 597.6V603.8M1220.7 597.6V603.8M1120.5 597.6V601.0M1131.2 597.6V601.0M1138.9 597.6V601.0M1144.8 597.6V601.0M1149.7 597.6V601.0M1153.8 597.6V601.0M1157.4 597.6V601.0M1160.5 597.6V601.0M1180.6 597.6V601.0M1190.7 597.6V601.0M1197.9 597.6V601.0M1203.4 597.6V601.0M1208.0 597.6V601.0M1211.8 597.6V601.0M1215.1 597.6V601.0M1218.1 597.6V601.0M1002.1 597.6V601.0M1009.4 597.6V601.0M1018.9 597.6V601.0M1059.1 597.6V601.0M1067.3 597.6V601.0M1074.8 597.6V601.0M1081.0 597.6V601.0M1086.6 597.6V601.0M1091.3 597.6V601.0M1094.3 597.6V601.0M1097.3 597.6V601.0M1099.8 597.6V601.0" stroke="#000" stroke-width="1.3" fill="none"/>
<path d="M990.8 555.4H997.0M990.2 563.3H997.0M990.8 570.6H997.0M993.0 559.4H997.0M993.0 567.0H997.0" stroke="#000" stroke-width="2.2" fill="none"/>
<path d="M1028.8 597.6V603.6M1038.5 597.6V603.6M1048.0 597.6V603.6M1033.6 597.6V601.2M1043.3 597.6V601.2" stroke="#000" stroke-width="2.4" fill="none"/>
<rect x="1027.8" y="597.6" width="21.2" height="2.4" fill="#000"/>
<rect x="994.4" y="554.4" width="2.6" height="17.2" fill="#000"/>
<text x="972.75" y="376.00" font-size="9.58" textLength="8.22" lengthAdjust="spacingAndGlyphs">10</text><text x="981.03" y="370.01" font-size="9.15" textLength="5.26" lengthAdjust="spacingAndGlyphs">6</text>
<text x="972.75" y="420.80" font-size="9.58" textLength="8.22" lengthAdjust="spacingAndGlyphs">10</text><text x="981.13" y="414.81" font-size="9.29" textLength="5.15" lengthAdjust="spacingAndGlyphs">5</text>
<text x="972.75" y="466.80" font-size="9.58" textLength="8.22" lengthAdjust="spacingAndGlyphs">10</text><text x="981.33" y="460.85" font-size="9.35" textLength="4.80" lengthAdjust="spacingAndGlyphs">4</text>
<text x="972.75" y="517.80" font-size="9.58" textLength="8.22" lengthAdjust="spacingAndGlyphs">10</text><text x="981.18" y="511.81" font-size="9.15" textLength="5.10" lengthAdjust="spacingAndGlyphs">3</text>
<text x="976.10" y="566.60" font-size="9.58" textLength="4.82" lengthAdjust="spacingAndGlyphs">0</text>
<rect x="1042.3" y="613.2" width="2.0" height="1.0" fill="#222"/>
<text x="1102.65" y="618.20" font-size="9.58" textLength="8.22" lengthAdjust="spacingAndGlyphs">10</text><text x="1110.74" y="612.61" font-size="9.15" textLength="5.79" lengthAdjust="spacingAndGlyphs">3</text>
<text x="1163.95" y="618.20" font-size="9.58" textLength="8.22" lengthAdjust="spacingAndGlyphs">10</text><text x="1172.20" y="612.65" font-size="9.35" textLength="5.45" lengthAdjust="spacingAndGlyphs">4</text>
<text x="1221.35" y="618.20" font-size="9.58" textLength="8.22" lengthAdjust="spacingAndGlyphs">10</text><text x="1229.38" y="612.61" font-size="9.29" textLength="5.85" lengthAdjust="spacingAndGlyphs">5</text>
<path d="M1135.3 466.1h1.3M1187.1 471.1h1.3M1155.6 444.3h1.3M1144.1 462.5h1.3M1148.0 462.5h1.3M1140.7 448.5h1.3M1173.2 459.3h1.3M1167.3 447.5h1.3M1158.2 467.8h1.3M1153.9 464.8h1.3M1137.1 448.1h1.3M1170.1 469.1h1.3M1149.2 477.5h1.3M1138.7 467.9h1.3M1142.9 470.3h1.3M1138.4 456.7h1.3M1135.3 488.9h1.3M1142.6 464.9h1.3M1146.5 467.1h1.3M1137.9 493.4h1.3M1149.9 451.8h1.3M1157.7 446.5h1.3M1181.1 456.0h1.3M1136.3 453.7h1.3M1140.5 471.1h1.3M1153.1 489.3h1.3M1178.3 439.9h1.3M1138.5 463.6h1.3M1149.0 464.4h1.3M1154.5 450.6h1.3M1153.9 501.5h1.3M1160.8 467.4h1.3M1152.5 460.8h1.3M1171.2 453.9h1.3M1150.5 477.1h1.3M1188.4 448.7h1.3M1169.3 452.7h1.3M1174.8 460.4h1.3M1163.5 494.6h1.3M1145.6 470.0h1.3M1170.4 460.3h1.3M1137.9 447.0h1.3M1174.7 438.7h1.3M1182.0 448.4h1.3M1157.5 468.9h1.3M1146.8 477.2h1.3M1161.7 438.7h1.3M1148.3 493.5h1.3M1144.0 453.1h1.3M1166.9 454.8h1.3M1150.8 451.2h1.3M1160.9 463.7h1.3M1172.8 457.8h1.3M1158.8 464.0h1.3M1163.4 459.1h1.3M1151.1 450.6h1.3M1146.2 445.3h1.3M1189.5 452.6h1.3M1141.2 483.3h1.3M1148.8 451.9h1.3M1166.1 465.0h1.3M1162.0 449.9h1.3M1165.0 445.5h1.3M1161.4 453.8h1.3M1141.8 471.3h1.3M1150.0 455.0h1.3M1180.4 456.6h1.3M1164.6 457.6h1.3M1148.6 453.3h1.3M1170.4 470.6h1.3M1150.7 442.7h1.3M1136.5 447.2h1.3M1136.0 452.3h1.3M1156.4 453.0h1.3M1135.5 440.3h1.3M1149.8 449.2h1.3M1142.6 451.9h1.3M1144.8 456.0h1.3M1152.3 458.2h1.3M1188.4 446.5h1.3M1154.6 461.4h1.3M1173.5 460.1h1.3M1145.0 480.4h1.3M1173.9 450.4h1.3M1141.7 451.8h1.3M1150.8 457.0h1.3M1167.1 456.3h1.3M1147.0 473.1h1.3M1185.9 457.4h1.3M1167.0 454.6h1.3M1138.6 450.9h1.3M1138.2 446.2h1.3M1159.8 458.9h1.3M1162.0 493.7h1.3M1168.4 447.7h1.3M1154.4 455.9h1.3M1149.3 474.0h1.3M1176.5 444.3h1.3M1143.5 472.4h1.3M1161.7 447.1h1.3M1149.0 437.9h1.3M1185.0 447.7h1.3M1142.1 443.2h1.3M1149.4 465.3h1.3M1150.2 478.1h1.3M1136.0 446.2h1.3M1138.6 443.6h1.3M1156.0 486.1h1.3M1142.5 439.8h1.3M1146.7 462.4h1.3M1159.4 460.3h1.3M1147.1 455.6h1.3M1154.3 489.6h1.3M1164.4 459.6h1.3M1155.5 447.7h1.3M1144.0 444.0h1.3M1147.6 452.5h1.3M1154.9 492.7h1.3M1146.3 441.2h1.3M1146.1 453.5h1.3M1135.7 458.4h1.3M1172.5 450.1h1.3M1160.4 465.7h1.3M1140.3 446.5h1.3M1150.4 459.7h1.3M1152.5 461.7h1.3M1140.3 468.6h1.3M1143.4 466.4h1.3M1151.9 446.8h1.3M1135.5 446.4h1.3M1172.3 458.9h1.3M1170.5 440.9h1.3M1156.3 454.5h1.3M1144.5 462.7h1.3M1145.7 448.1h1.3M1177.6 451.3h1.3M1149.0 438.2h1.3M1147.0 501.0h1.3M1138.9 450.3h1.3M1174.9 478.7h1.3M1141.6 488.9h1.3M1156.3 463.0h1.3M1161.1 475.9h1.3M1157.5 456.4h1.3M1154.2 446.1h1.3M1136.2 444.1h1.3M1146.1 461.0h1.3M1148.0 444.5h1.3M1168.3 440.7h1.3M1141.1 442.9h1.3M1136.6 449.2h1.3M1148.7 469.2h1.3M1136.5 463.3h1.3M1140.3 443.7h1.3M1147.7 445.3h1.3M1148.4 446.1h1.3M1172.3 452.4h1.3M1167.7 464.1h1.3M1163.4 455.2h1.3M1151.1 456.2h1.3M1174.7 458.0h1.3M1147.2 456.8h1.3M1170.2 443.1h1.3M1160.7 447.2h1.3M1143.6 447.9h1.3M1152.6 458.4h1.3M1160.5 462.1h1.3M1147.4 457.1h1.3M1163.5 461.7h1.3M1161.1 455.1h1.3M1152.6 463.5h1.3M1163.5 451.2h1.3M1151.8 445.9h1.3M1136.0 476.6h1.3M1157.3 476.3h1.3M1157.0 471.6h1.3M1171.1 476.9h1.3M1145.5 445.3h1.3M1179.5 456.9h1.3M1174.7 447.8h1.3M1175.9 451.0h1.3M1137.0 447.8h1.3M1142.1 443.7h1.3M1171.1 450.6h1.3M1135.2 437.8h1.3M1144.5 455.1h1.3M1161.2 468.0h1.3M1176.8 467.0h1.3M1155.0 462.4h1.3M1149.9 454.3h1.3M1166.7 464.4h1.3M1167.9 442.8h1.3M1154.9 454.5h1.3M1139.7 474.2h1.3M1172.2 483.8h1.3M1163.0 459.0h1.3M1151.2 474.2h1.3M1180.2 457.9h1.3M1179.6 447.9h1.3M1153.9 456.8h1.3M1180.0 445.0h1.3M1157.6 449.1h1.3M1137.9 449.5h1.3M1166.7 451.9h1.3M1150.5 458.1h1.3M1173.5 458.0h1.3M1151.7 501.4h1.3M1153.3 458.8h1.3M1157.5 456.2h1.3M1163.7 454.1h1.3M1172.2 442.5h1.3M1192.5 448.8h1.3M1142.7 463.3h1.3M1144.3 454.4h1.3M1168.5 468.5h1.3M1168.7 452.0h1.3M1181.8 463.2h1.3M1140.5 444.9h1.3M1145.1 450.6h1.3M1167.5 445.3h1.3M1178.0 453.3h1.3M1181.3 450.5h1.3M1182.7 450.0h1.3M1136.2 460.1h1.3M1157.8 459.4h1.3M1168.1 450.7h1.3M1175.4 452.0h1.3M1185.4 452.5h1.3M1165.1 460.3h1.3M1174.8 460.8h1.3M1163.2 460.4h1.3M1142.4 443.6h1.3M1147.9 450.3h1.3M1179.1 464.1h1.3M1135.2 440.6h1.3M1165.7 463.4h1.3M1157.8 486.5h1.3M1142.3 452.6h1.3M1157.2 446.9h1.3M1161.7 458.2h1.3M1166.2 440.1h1.3M1135.8 457.5h1.3M1150.0 453.1h1.3M1148.3 455.1h1.3M1157.3 437.7h1.3M1156.3 459.5h1.3M1159.9 468.2h1.3M1151.2 456.5h1.3M1142.7 465.7h1.3M1148.4 458.2h1.3M1149.8 447.6h1.3M1137.0 454.9h1.3M1154.2 470.0h1.3M1183.3 483.1h1.3M1137.8 469.3h1.3M1151.4 447.2h1.3M1180.0 452.5h1.3M1141.1 463.0h1.3M1145.2 486.9h1.3M1144.3 455.0h1.3M1169.8 475.7h1.3M1158.0 460.9h1.3M1163.5 438.8h1.3M1144.1 466.6h1.3M1165.2 475.9h1.3M1156.9 454.6h1.3M1164.6 457.3h1.3M1182.1 440.4h1.3M1158.8 457.3h1.3M1163.6 472.8h1.3M1140.9 444.5h1.3M1155.6 450.0h1.3M1164.1 460.6h1.3M1153.2 458.0h1.3M1150.4 440.3h1.3M1147.1 467.0h1.3M1142.2 455.6h1.3M1153.1 486.1h1.3M1163.6 455.6h1.3M1152.5 462.8h1.3M1151.3 460.4h1.3M1176.2 448.8h1.3M1135.9 465.5h1.3M1150.1 462.4h1.3M1149.1 459.8h1.3M1136.7 459.6h1.3M1163.3 461.0h1.3M1143.0 452.8h1.3M1161.7 492.9h1.3M1177.3 461.3h1.3M1137.4 453.9h1.3M1160.3 460.6h1.3M1147.0 461.2h1.3M1168.0 463.2h1.3M1152.4 470.5h1.3M1163.3 451.6h1.3M1141.0 481.3h1.3M1149.3 459.6h1.3M1175.3 447.0h1.3M1146.7 465.1h1.3M1172.3 473.2h1.3M1151.0 448.1h1.3M1165.4 462.1h1.3M1156.4 461.1h1.3M1168.0 486.7h1.3M1161.3 450.5h1.3M1152.8 470.2h1.3M1149.6 466.4h1.3M1157.1 441.3h1.3M1159.0 449.2h1.3M1154.6 447.4h1.3M1148.4 442.7h1.3M1155.8 458.3h1.3M1137.9 470.6h1.3M1136.4 456.1h1.3M1161.7 476.4h1.3M1135.3 474.8h1.3M1148.2 453.1h1.3M1135.6 453.0h1.3M1135.5 468.6h1.3M1161.2 479.8h1.3M1142.6 471.6h1.3M1176.8 456.2h1.3M1145.5 458.4h1.3M1156.3 439.9h1.3M1147.7 452.0h1.3M1135.6 463.5h1.3M1140.7 454.3h1.3M1162.9 466.1h1.3M1161.7 457.6h1.3M1144.7 447.8h1.3M1144.4 468.5h1.3M1159.3 474.4h1.3M1157.1 449.3h1.3M1156.7 453.8h1.3M1161.0 473.0h1.3M1180.6 445.6h1.3M1168.4 467.0h1.3M1141.1 490.4h1.3M1170.6 450.6h1.3M1141.9 471.8h1.3M1176.3 469.8h1.3M1141.9 467.9h1.3M1139.3 440.5h1.3M1147.1 448.8h1.3M1139.4 437.8h1.3M1191.9 446.4h1.3M1184.0 463.1h1.3M1139.5 445.0h1.3M1173.9 449.0h1.3M1173.8 463.3h1.3M1166.9 463.9h1.3M1171.1 459.5h1.3M1151.1 464.9h1.3M1177.7 470.0h1.3M1185.2 473.9h1.3M1162.8 456.1h1.3M1167.7 458.1h1.3M1159.2 448.3h1.3M1140.5 438.2h1.3M1157.3 455.1h1.3M1141.8 464.5h1.3M1168.5 489.6h1.3M1146.8 459.3h1.3M1170.0 450.7h1.3M1150.1 458.4h1.3M1179.3 458.0h1.3M1143.3 443.9h1.3M1140.8 444.5h1.3M1156.4 440.5h1.3M1167.7 469.8h1.3M1135.2 465.5h1.3M1188.4 452.7h1.3M1165.3 455.2h1.3M1182.4 456.8h1.3M1157.4 446.6h1.3M1142.0 470.3h1.3M1157.4 464.6h1.3M1151.0 467.9h1.3M1169.1 446.8h1.3M1165.2 446.4h1.3M1168.6 451.2h1.3M1181.6 440.6h1.3M1138.2 459.8h1.3M1148.2 453.3h1.3M1162.5 476.7h1.3M1160.6 448.0h1.3M1138.8 456.7h1.3M1135.2 444.1h1.3M1175.5 444.7h1.3M1174.2 470.2h1.3M1159.8 463.0h1.3M1153.5 452.1h1.3M1158.4 497.4h1.3M1144.5 448.6h1.3M1187.3 448.9h1.3M1180.5 452.5h1.3M1152.8 478.9h1.3M1162.9 453.8h1.3M1167.0 452.0h1.3M1159.7 457.3h1.3M1149.7 452.8h1.3M1170.7 459.2h1.3M1156.3 457.8h1.3M1176.4 458.0h1.3M1170.5 472.0h1.3M1186.5 450.3h1.3M1152.6 489.7h1.3M1159.4 483.7h1.3M1143.0 443.6h1.3M1169.0 471.9h1.3M1181.8 450.5h1.3M1137.8 454.7h1.3M1147.1 471.7h1.3M1159.9 458.4h1.3M1153.4 479.3h1.3M1169.0 455.9h1.3M1169.5 472.3h1.3M1146.0 461.1h1.3M1143.1 477.1h1.3M1141.2 471.5h1.3M1147.5 483.4h1.3M1146.9 473.6h1.3M1153.2 467.6h1.3M1170.3 444.2h1.3M1158.3 463.5h1.3M1139.1 468.5h1.3M1154.5 445.9h1.3M1192.6 457.3h1.3M1144.0 464.6h1.3M1176.7 449.4h1.3M1136.4 462.5h1.3M1158.9 447.5h1.3M1163.1 444.5h1.3M1168.4 461.2h1.3M1151.9 501.3h1.3M1167.6 443.3h1.3M1143.6 448.4h1.3M1157.4 448.7h1.3M1161.4 447.5h1.3M1182.4 448.6h1.3M1175.2 458.4h1.3M1139.9 463.4h1.3M1145.9 447.6h1.3M1159.5 447.1h1.3M1157.8 458.2h1.3M1170.6 457.6h1.3M1167.7 462.0h1.3M1191.6 460.8h1.3M1147.2 461.5h1.3M1135.5 462.9h1.3M1137.1 460.3h1.3M1175.5 459.7h1.3M1168.0 459.9h1.3M1180.9 457.3h1.3M1166.0 438.3h1.3M1148.9 454.9h1.3M1147.8 455.5h1.3M1188.7 449.2h1.3M1136.9 449.3h1.3M1165.2 447.0h1.3M1158.2 458.5h1.3M1158.2 447.2h1.3M1180.3 457.5h1.3M1158.0 456.8h1.3M1169.5 459.6h1.3M1147.2 500.8h1.3M1163.9 484.9h1.3M1168.7 474.9h1.3M1158.7 455.3h1.3M1152.6 461.1h1.3M1148.0 469.7h1.3M1161.0 471.0h1.3M1186.8 482.3h1.3M1162.3 473.8h1.3M1147.2 457.2h1.3M1165.5 460.8h1.3M1139.7 470.3h1.3M1150.4 445.5h1.3M1139.4 449.2h1.3M1149.3 458.9h1.3M1168.8 452.0h1.3M1167.3 462.3h1.3M1136.5 473.1h1.3M1150.6 470.8h1.3M1186.4 479.6h1.3M1156.9 445.0h1.3M1168.2 482.3h1.3M1141.4 454.6h1.3M1162.7 453.9h1.3M1152.8 460.4h1.3M1147.1 467.8h1.3M1163.0 467.9h1.3M1151.5 460.6h1.3M1160.3 475.1h1.3M1151.5 439.8h1.3M1157.0 468.1h1.3M1166.5 452.2h1.3M1158.4 452.6h1.3M1148.5 466.7h1.3M1141.8 459.1h1.3M1158.3 451.8h1.3M1162.0 443.4h1.3M1138.2 460.8h1.3M1166.2 450.1h1.3M1165.3 458.2h1.3M1173.2 458.6h1.3M1172.6 452.1h1.3M1143.3 469.5h1.3M1143.1 462.5h1.3M1147.6 457.7h1.3M1150.9 470.4h1.3M1147.8 454.8h1.3M1137.2 459.7h1.3M1138.2 461.3h1.3M1148.7 455.6h1.3M1179.3 461.6h1.3M1165.6 450.6h1.3M1143.8 484.4h1.3M1162.5 457.0h1.3M1144.8 472.1h1.3M1160.5 464.1h1.3M1143.7 468.0h1.3M1155.9 475.4h1.3M1154.2 449.9h1.3M1162.7 458.8h1.3M1139.6 440.0h1.3M1149.4 461.5h1.3M1156.3 444.9h1.3M1171.5 452.4h1.3M1163.8 450.1h1.3M1151.6 447.0h1.3M1136.9 446.5h1.3M1146.3 488.5h1.3M1141.7 494.5h1.3M1158.1 467.3h1.3M1136.2 443.3h1.3M1140.5 460.9h1.3M1167.5 458.0h1.3M1155.2 457.8h1.3M1179.8 468.2h1.3M1146.3 472.2h1.3M1158.4 449.2h1.3M1155.9 440.7h1.3M1144.6 453.6h1.3M1158.1 457.7h1.3M1153.8 472.1h1.3M1164.9 452.5h1.3M1187.4 461.1h1.3M1172.9 443.5h1.3M1153.2 440.0h1.3M1167.2 486.7h1.3M1144.4 446.7h1.3M1158.2 453.8h1.3M1136.0 466.3h1.3M1144.9 461.5h1.3M1159.4 483.7h1.3M1159.7 446.1h1.3M1186.6 452.0h1.3M1166.6 471.5h1.3M1172.2 454.5h1.3M1156.0 446.0h1.3M1157.1 498.8h1.3M1181.8 455.4h1.3M1151.0 449.8h1.3M1136.3 469.6h1.3M1188.1 438.3h1.3M1137.9 461.9h1.3M1149.5 446.5h1.3M1167.6 459.8h1.3M1158.9 457.6h1.3M1141.1 445.4h1.3M1155.5 450.7h1.3M1171.2 465.3h1.3M1142.6 470.8h1.3M1153.4 480.4h1.3M1155.6 446.0h1.3M1145.2 463.4h1.3M1140.0 465.1h1.3M1174.5 447.0h1.3M1137.6 476.8h1.3M1170.3 446.6h1.3M1190.3 447.6h1.3M1174.9 458.3h1.3M1181.6 469.3h1.3M1156.4 448.2h1.3M1181.7 456.9h1.3M1162.8 450.6h1.3M1139.5 446.0h1.3M1161.7 447.0h1.3M1170.9 467.9h1.3M1167.1 453.1h1.3M1172.2 493.1h1.3M1139.5 470.9h1.3M1137.1 441.4h1.3M1151.3 447.2h1.3M1155.3 450.8h1.3M1148.6 450.4h1.3M1192.7 448.3h1.3M1151.9 446.2h1.3M1148.8 448.0h1.3M1146.5 483.3h1.3M1143.4 490.5h1.3M1169.9 466.0h1.3M1150.9 473.4h1.3M1136.9 466.3h1.3M1154.7 485.9h1.3M1166.1 459.0h1.3M1151.4 448.6h1.3M1149.0 459.8h1.3M1142.7 472.7h1.3M1139.7 440.6h1.3M1147.5 466.0h1.3M1140.6 447.6h1.3M1169.4 489.7h1.3M1157.7 449.1h1.3M1153.4 450.7h1.3M1143.4 449.3h1.3M1161.7 465.0h1.3M1144.2 467.3h1.3M1170.0 448.4h1.3M1140.9 466.6h1.3M1166.3 458.0h1.3M1157.4 455.2h1.3M1153.1 461.3h1.3M1146.1 464.9h1.3M1159.1 468.6h1.3M1161.4 443.8h1.3M1143.4 459.2h1.3M1157.0 461.8h1.3M1143.5 454.9h1.3M1179.7 457.4h1.3M1182.2 456.8h1.3M1181.5 446.9h1.3M1144.5 460.4h1.3M1168.9 463.7h1.3M1149.2 441.0h1.3M1158.6 490.1h1.3M1189.8 466.6h1.3M1146.8 461.6h1.3M1161.7 454.0h1.3M1153.2 457.3h1.3M1162.7 475.8h1.3M1165.2 470.1h1.3M1153.8 448.6h1.3M1179.5 454.6h1.3M1170.2 479.6h1.3M1154.3 472.8h1.3M1136.2 457.8h1.3M1157.0 458.7h1.3M1137.2 470.2h1.3M1143.8 448.2h1.3M1151.0 452.8h1.3M1152.8 452.9h1.3M1186.8 459.4h1.3M1141.8 447.7h1.3M1169.8 475.2h1.3M1162.0 446.9h1.3M1162.9 450.9h1.3M1149.1 451.6h1.3M1188.1 449.8h1.3M1147.5 453.4h1.3M1149.7 486.6h1.3M1136.5 461.6h1.3M1176.0 457.2h1.3M1172.4 453.4h1.3M1157.2 445.6h1.3M1184.9 445.6h1.3M1154.2 444.7h1.3M1139.6 463.5h1.3M1141.1 456.9h1.3M1178.3 445.7h1.3M1155.7 505.5h1.3M1169.6 492.7h1.3M1156.6 449.3h1.3M1166.8 447.8h1.3M1182.9 456.2h1.3M1167.6 444.9h1.3M1136.6 466.0h1.3M1147.8 470.5h1.3M1189.3 453.5h1.3M1175.7 451.0h1.3M1174.9 444.0h1.3M1170.0 442.9h1.3M1164.9 468.0h1.3M1175.9 460.7h1.3M1154.5 459.4h1.3M1135.5 467.9h1.3M1138.1 456.8h1.3M1136.3 442.9h1.3M1143.5 475.7h1.3M1136.9 440.5h1.3M1139.0 454.5h1.3M1154.6 461.2h1.3M1144.1 461.8h1.3M1163.1 455.1h1.3M1189.2 454.3h1.3M1162.7 456.3h1.3M1166.4 468.3h1.3M1136.2 471.8h1.3M1160.7 503.2h1.3M1146.3 491.6h1.3M1186.0 450.0h1.3M1190.2 470.6h1.3M1142.3 487.5h1.3M1189.0 457.5h1.3M1173.2 440.5h1.3M1152.8 447.1h1.3M1172.4 456.9h1.3M1149.5 466.0h1.3M1159.3 464.1h1.3M1142.5 446.0h1.3M1161.0 455.1h1.3M1145.1 454.2h1.3M1154.7 459.0h1.3M1151.5 469.1h1.3M1177.2 450.3h1.3M1136.9 449.8h1.3M1178.6 458.0h1.3M1154.0 457.2h1.3M1165.8 471.1h1.3M1179.9 452.8h1.3M1140.4 444.2h1.3M1161.8 478.4h1.3M1146.5 497.3h1.3M1144.0 450.7h1.3M1139.3 463.4h1.3M1156.4 465.8h1.3M1156.9 448.8h1.3M1150.3 468.9h1.3M1148.4 492.9h1.3M1162.6 439.7h1.3M1144.1 452.9h1.3M1174.1 456.7h1.3M1171.2 495.2h1.3M1147.2 465.7h1.3M1137.1 465.8h1.3M1162.8 451.5h1.3M1167.5 443.1h1.3M1136.3 450.8h1.3M1136.5 441.3h1.3M1138.6 453.1h1.3M1166.5 455.5h1.3M1152.4 448.5h1.3M1171.7 467.4h1.3M1149.8 444.3h1.3M1177.9 451.7h1.3M1139.4 456.4h1.3M1159.7 473.1h1.3M1142.2 441.0h1.3M1175.3 455.2h1.3M1188.8 451.0h1.3M1179.4 447.4h1.3M1136.8 462.7h1.3M1148.7 442.0h1.3M1161.6 467.5h1.3M1171.8 443.2h1.3M1141.4 466.0h1.3M1167.8 455.5h1.3M1138.3 451.2h1.3M1147.3 458.9h1.3M1182.5 440.4h1.3M1152.9 467.0h1.3M1155.7 453.1h1.3M1159.3 445.5h1.3M1138.6 465.7h1.3M1146.3 450.9h1.3M1167.2 451.5h1.3M1165.0 467.8h1.3M1138.9 449.7h1.3M1154.2 461.6h1.3M1162.5 447.4h1.3M1153.4 461.9h1.3M1146.3 468.4h1.3M1138.8 453.5h1.3M1146.7 480.9h1.3M1165.2 451.1h1.3M1169.8 451.3h1.3M1136.9 447.5h1.3M1163.9 447.8h1.3M1158.8 466.8h1.3M1152.1 463.1h1.3M1142.7 471.7h1.3M1156.0 458.2h1.3M1181.4 459.0h1.3M1151.5 468.4h1.3M1144.9 465.4h1.3M1157.1 466.5h1.3M1161.1 462.5h1.3M1175.0 447.9h1.3M1163.5 455.1h1.3M1148.2 445.5h1.3M1151.6 454.3h1.3M1142.0 471.2h1.3M1135.6 450.4h1.3M1178.4 449.0h1.3M1135.7 452.1h1.3M1164.2 445.7h1.3M1139.0 450.6h1.3M1187.0 446.1h1.3M1167.8 451.8h1.3M1139.8 437.6h1.3M1161.5 454.6h1.3M1167.3 467.6h1.3M1136.0 462.9h1.3M1156.9 463.0h1.3M1166.4 464.0h1.3M1154.1 452.9h1.3M1148.8 450.0h1.3M1141.4 452.0h1.3M1138.0 458.1h1.3M1144.8 458.8h1.3M1173.4 471.8h1.3M1151.9 466.6h1.3M1138.0 445.4h1.3M1192.3 461.7h1.3M1153.6 452.5h1.3M1157.6 467.1h1.3M1153.1 461.6h1.3M1158.2 451.7h1.3M1141.5 447.5h1.3M1155.1 444.1h1.3M1155.7 488.3h1.3M1145.9 443.7h1.3M1183.6 466.2h1.3M1169.6 497.8h1.3M1167.2 457.5h1.3M1136.9 465.5h1.3M1139.1 444.9h1.3M1135.4 449.4h1.3M1177.9 452.8h1.3M1157.9 471.4h1.3M1140.4 471.4h1.3M1164.3 474.0h1.3M1169.7 452.0h1.3M1163.6 462.9h1.3M1163.0 459.5h1.3M1147.9 481.7h1.3M1155.6 440.0h1.3M1162.3 479.3h1.3M1174.3 474.7h1.3M1179.8 448.2h1.3M1151.1 471.3h1.3M1177.0 453.5h1.3M1143.0 466.8h1.3M1152.8 448.1h1.3M1149.5 456.8h1.3M1153.2 455.2h1.3M1135.7 445.3h1.3M1157.4 463.0h1.3M1148.0 454.4h1.3M1182.6 452.4h1.3M1136.1 451.1h1.3M1152.6 462.8h1.3M1136.2 439.5h1.3M1164.6 470.9h1.3M1163.9 471.7h1.3M1162.9 460.8h1.3M1138.9 460.1h1.3M1180.2 447.2h1.3M1137.9 473.1h1.3M1162.1 454.8h1.3M1169.1 456.1h1.3M1158.2 457.1h1.3M1135.5 457.9h1.3M1157.4 480.1h1.3M1143.1 440.6h1.3M1163.0 459.7h1.3M1138.9 462.5h1.3M1144.8 459.0h1.3M1161.9 463.2h1.3M1147.8 479.5h1.3M1135.7 459.7h1.3M1154.3 467.1h1.3M1141.9 447.3h1.3M1162.1 457.6h1.3M1182.1 478.0h1.3M1135.2 444.4h1.3M1183.2 465.5h1.3M1137.5 448.2h1.3M1152.0 457.5h1.3M1163.4 462.6h1.3M1173.5 451.0h1.3M1166.4 457.2h1.3M1168.1 460.9h1.3M1162.0 443.2h1.3M1144.2 448.2h1.3M1157.3 455.1h1.3M1192.7 455.0h1.3M1143.2 442.7h1.3M1169.5 452.2h1.3M1155.4 461.8h1.3M1172.0 450.0h1.3M1155.5 475.1h1.3M1169.9 451.0h1.3M1137.6 449.4h1.3M1139.0 466.3h1.3M1161.9 467.6h1.3M1168.9 457.8h1.3M1158.6 443.5h1.3M1140.4 468.4h1.3M1135.9 452.9h1.3M1137.2 453.4h1.3M1166.7 481.8h1.3M1168.0 462.7h1.3M1164.5 471.1h1.3M1167.3 461.6h1.3M1150.3 467.6h1.3M1162.7 461.0h1.3M1166.4 464.2h1.3M1137.8 476.6h1.3M1138.3 463.6h1.3M1150.3 466.0h1.3M1153.0 457.8h1.3M1140.9 469.2h1.3M1136.8 465.8h1.3M1143.1 450.2h1.3M1168.6 477.8h1.3M1160.1 463.4h1.3M1135.4 456.4h1.3M1149.6 438.7h1.3M1177.0 442.5h1.3M1146.4 444.4h1.3M1156.1 463.1h1.3M1145.6 458.8h1.3M1149.9 448.7h1.3M1156.7 477.4h1.3M1137.4 462.9h1.3M1171.7 456.9h1.3M1153.8 451.2h1.3M1145.9 446.9h1.3M1155.4 458.6h1.3M1176.6 451.6h1.3M1159.5 449.5h1.3M1164.5 467.9h1.3M1159.6 476.9h1.3M1152.7 486.9h1.3M1142.4 447.5h1.3M1153.4 472.1h1.3M1141.4 449.1h1.3M1138.9 447.6h1.3M1173.3 451.9h1.3M1139.5 447.5h1.3M1184.1 456.2h1.3M1163.9 474.5h1.3M1142.3 455.0h1.3M1153.4 465.8h1.3M1190.2 462.6h1.3M1159.7 455.1h1.3M1152.5 454.1h1.3M1147.8 456.0h1.3M1142.2 481.9h1.3M1149.3 455.3h1.3M1165.0 448.7h1.3M1145.8 477.4h1.3M1192.3 467.6h1.3M1143.1 469.0h1.3M1138.6 451.5h1.3M1156.6 454.2h1.3M1137.2 476.2h1.3M1152.4 460.3h1.3M1147.6 449.1h1.3M1172.9 467.9h1.3M1141.4 460.1h1.3M1151.6 493.9h1.3M1185.7 449.7h1.3M1153.6 449.3h1.3M1156.5 454.7h1.3M1143.9 447.1h1.3M1170.5 448.8h1.3M1164.9 452.4h1.3M1137.9 454.3h1.3M1160.2 448.6h1.3M1147.7 451.8h1.3M1137.8 461.1h1.3M1170.1 449.6h1.3M1167.1 454.0h1.3M1144.5 448.5h1.3M1151.2 450.2h1.3M1177.1 447.6h1.3M1174.9 461.6h1.3M1157.9 472.4h1.3M1155.3 444.7h1.3M1169.4 472.5h1.3M1143.7 496.0h1.3M1166.0 455.3h1.3M1150.6 438.7h1.3M1152.0 438.9h1.3M1140.7 471.9h1.3M1143.9 472.2h1.3M1137.6 449.2h1.3M1148.6 461.3h1.3M1172.3 458.6h1.3M1174.5 446.3h1.3M1147.0 448.2h1.3M1155.4 451.7h1.3M1145.0 437.6h1.3M1174.0 460.4h1.3M1142.6 505.1h1.3M1165.1 465.0h1.3M1143.5 444.7h1.3M1143.5 474.3h1.3M1160.8 448.2h1.3M1138.5 461.4h1.3M1165.9 467.6h1.3M1149.5 465.4h1.3M1163.8 447.0h1.3M1147.0 455.3h1.3M1157.3 440.7h1.3M1184.1 454.9h1.3M1147.1 468.1h1.3M1161.6 463.8h1.3M1163.6 470.6h1.3M1168.6 460.2h1.3M1183.6 438.3h1.3M1155.2 446.1h1.3M1183.5 477.4h1.3M1147.2 461.4h1.3M1158.5 463.5h1.3M1165.8 440.5h1.3M1158.1 449.1h1.3M1136.1 459.0h1.3M1185.5 444.8h1.3M1139.0 469.2h1.3M1162.6 452.2h1.3M1187.7 463.5h1.3M1163.9 444.7h1.3M1137.6 445.0h1.3M1160.2 461.2h1.3M1154.9 453.8h1.3M1158.1 452.9h1.3M1181.6 453.3h1.3M1141.3 475.3h1.3M1146.0 444.6h1.3M1151.8 456.9h1.3M1152.5 439.8h1.3M1150.2 444.4h1.3M1165.2 447.9h1.3M1171.0 450.4h1.3M1139.6 447.7h1.3M1176.7 449.7h1.3M1135.8 466.5h1.3M1155.3 444.3h1.3M1180.6 458.2h1.3M1136.3 448.7h1.3M1169.2 462.2h1.3M1142.3 458.1h1.3M1155.3 471.4h1.3M1165.0 467.8h1.3M1179.3 452.0h1.3M1167.6 480.5h1.3M1147.8 470.5h1.3M1146.3 475.6h1.3M1177.3 451.3h1.3M1166.4 447.3h1.3M1183.3 452.0h1.3M1146.4 458.6h1.3M1170.0 481.8h1.3M1168.6 458.6h1.3M1159.0 438.5h1.3M1149.9 491.3h1.3M1142.2 477.6h1.3M1151.6 447.7h1.3M1157.0 472.5h1.3M1143.2 440.8h1.3M1136.9 471.9h1.3M1136.5 463.3h1.3M1152.2 451.8h1.3M1173.1 497.0h1.3M1183.5 445.7h1.3M1139.6 445.2h1.3M1143.5 485.0h1.3M1142.2 469.8h1.3M1144.2 477.1h1.3M1150.2 448.5h1.3M1191.5 459.2h1.3M1155.8 452.1h1.3M1160.2 455.6h1.3M1159.6 454.7h1.3M1146.8 496.4h1.3M1186.8 461.7h1.3M1138.9 460.2h1.3M1144.1 454.4h1.3M1135.9 452.1h1.3M1158.4 451.9h1.3M1152.1 438.0h1.3M1156.8 452.6h1.3M1136.0 463.8h1.3M1163.9 448.4h1.3M1146.9 484.0h1.3M1142.2 461.8h1.3M1159.3 454.1h1.3M1145.3 471.4h1.3M1151.6 457.0h1.3M1158.7 500.6h1.3M1166.1 472.3h1.3M1135.7 457.9h1.3M1153.3 456.3h1.3M1192.9 470.9h1.3M1172.3 467.3h1.3M1156.3 477.0h1.3M1155.9 477.2h1.3M1168.6 455.7h1.3M1161.1 462.7h1.3M1152.0 468.6h1.3M1157.9 472.0h1.3M1162.3 456.0h1.3M1162.6 465.7h1.3M1161.9 447.8h1.3M1166.8 452.6h1.3M1165.8 457.7h1.3M1186.7 466.8h1.3M1187.1 463.9h1.3M1137.2 447.2h1.3M1136.1 471.8h1.3M1156.6 466.0h1.3M1145.8 462.0h1.3M1153.4 490.4h1.3M1159.1 464.4h1.3M1177.0 460.3h1.3M1183.3 468.6h1.3M1141.7 446.0h1.3M1153.1 449.2h1.3M1176.8 451.3h1.3M1162.0 496.4h1.3M1167.3 468.6h1.3M1136.0 449.3h1.3M1165.8 465.7h1.3M1142.1 439.6h1.3M1163.6 456.4h1.3M1185.8 446.5h1.3M1153.7 473.7h1.3M1161.6 460.2h1.3M1185.7 455.5h1.3M1141.4 442.2h1.3M1137.3 456.1h1.3M1178.5 460.7h1.3M1157.5 454.5h1.3M1169.4 459.3h1.3M1155.6 458.3h1.3M1153.3 453.1h1.3M1167.3 443.7h1.3M1183.8 445.2h1.3M1184.7 447.5h1.3M1148.5 448.1h1.3M1145.3 463.7h1.3M1137.3 450.2h1.3M1151.1 473.1h1.3M1169.6 464.0h1.3M1147.5 454.4h1.3M1141.9 458.3h1.3M1174.8 446.6h1.3M1138.1 451.0h1.3M1137.4 465.3h1.3M1137.1 454.5h1.3M1166.9 474.3h1.3M1147.8 456.0h1.3M1150.5 449.0h1.3M1170.1 455.9h1.3M1155.8 445.8h1.3M1136.3 447.4h1.3M1167.9 444.1h1.3M1168.9 459.7h1.3M1169.0 456.2h1.3M1145.6 457.0h1.3M1154.6 482.8h1.3M1171.7 447.0h1.3M1171.4 459.1h1.3M1136.8 467.1h1.3M1177.1 466.4h1.3M1160.5 448.0h1.3M1171.9 450.1h1.3M1139.4 448.9h1.3M1147.0 444.0h1.3M1153.3 463.1h1.3M1159.8 469.7h1.3M1152.8 458.4h1.3M1163.1 452.3h1.3M1172.0 457.6h1.3M1144.6 449.8h1.3M1182.9 449.9h1.3M1167.2 500.8h1.3M1175.2 448.0h1.3M1160.5 467.8h1.3M1169.1 453.2h1.3M1145.4 446.5h1.3M1176.2 458.3h1.3M1174.3 451.5h1.3M1156.3 464.5h1.3M1152.0 455.9h1.3M1141.3 467.3h1.3M1146.4 461.9h1.3M1145.3 449.6h1.3M1138.3 450.6h1.3M1140.5 466.7h1.3M1141.9 459.0h1.3M1143.5 463.2h1.3M1149.8 449.3h1.3M1149.5 467.3h1.3M1169.1 473.9h1.3M1165.0 445.2h1.3M1168.6 470.1h1.3M1137.2 451.9h1.3M1157.0 464.2h1.3M1141.6 456.9h1.3M1156.7 463.7h1.3M1136.9 471.4h1.3M1153.3 445.3h1.3M1179.8 469.8h1.3M1176.2 452.4h1.3M1136.1 450.6h1.3M1136.8 467.7h1.3M1140.1 448.6h1.3M1168.1 445.0h1.3M1180.4 444.0h1.3M1179.2 457.4h1.3M1165.5 462.6h1.3M1167.8 451.3h1.3M1171.4 469.9h1.3M1154.3 479.6h1.3M1139.2 455.4h1.3M1167.8 448.1h1.3M1153.8 465.5h1.3M1139.3 474.0h1.3M1164.5 461.2h1.3M1153.3 458.3h1.3M1155.9 458.3h1.3M1148.0 448.8h1.3M1181.3 455.9h1.3M1141.9 449.9h1.3M1143.2 465.0h1.3M1156.3 472.1h1.3M1188.6 452.4h1.3M1147.1 450.0h1.3M1147.6 450.7h1.3M1141.9 479.8h1.3M1168.9 468.4h1.3M1157.6 453.8h1.3M1135.6 448.3h1.3M1178.1 465.2h1.3M1145.5 468.9h1.3M1149.0 475.2h1.3M1162.9 476.4h1.3M1159.9 474.2h1.3M1166.7 472.0h1.3M1174.1 456.6h1.3M1139.2 447.3h1.3M1174.8 446.1h1.3M1139.5 470.9h1.3M1182.0 451.2h1.3M1179.0 455.4h1.3M1154.4 462.2h1.3M1168.0 462.7h1.3M1160.3 447.7h1.3M1143.1 465.5h1.3M1135.5 463.2h1.3M1161.6 467.2h1.3M1175.8 468.2h1.3M1137.1 469.8h1.3M1152.5 464.8h1.3M1158.6 517.4h1.3M1164.0 512.0h1.3M1190.0 514.0h1.3M1138.4 534.0h1.3" stroke="#1818ff" stroke-width="1.3" fill="none"/>
<path d="M1142.7 448.6h1.3M1135.9 448.6h1.3M1143.6 466.2h1.3M1139.0 463.4h1.3M1143.1 453.6h1.3M1152.4 462.5h1.3M1153.5 450.9h1.3M1138.4 458.1h1.3M1155.4 443.1h1.3M1152.7 449.5h1.3M1137.2 451.9h1.3M1137.2 457.3h1.3M1165.9 445.6h1.3M1146.8 444.5h1.3M1162.4 447.1h1.3M1141.8 451.9h1.3M1140.4 452.7h1.3M1148.2 454.9h1.3M1145.9 449.5h1.3M1149.9 448.7h1.3M1162.0 455.9h1.3M1138.2 461.7h1.3M1144.3 448.2h1.3M1138.8 464.1h1.3M1150.8 451.7h1.3M1159.1 451.1h1.3M1142.7 451.5h1.3M1148.7 453.4h1.3M1140.8 456.2h1.3M1138.1 459.4h1.3M1146.4 451.7h1.3M1148.6 445.4h1.3M1139.6 461.7h1.3M1155.9 452.4h1.3M1141.6 444.6h1.3M1138.8 455.8h1.3M1135.2 454.3h1.3M1150.3 445.7h1.3M1153.5 464.7h1.3M1141.8 446.8h1.3M1151.7 449.5h1.3M1151.4 457.8h1.3M1162.2 453.4h1.3M1165.0 460.2h1.3M1149.0 453.0h1.3M1144.2 454.5h1.3M1136.5 459.1h1.3M1138.5 459.1h1.3M1142.8 450.4h1.3M1140.5 463.3h1.3M1137.5 462.0h1.3M1138.8 451.4h1.3M1136.9 461.4h1.3M1149.7 459.1h1.3M1136.0 458.2h1.3M1163.6 446.1h1.3M1137.5 458.9h1.3M1148.3 453.9h1.3M1144.8 446.3h1.3M1146.2 467.6h1.3M1155.9 452.8h1.3M1154.5 453.5h1.3M1140.7 458.4h1.3M1151.8 455.6h1.3M1151.2 459.2h1.3M1138.0 459.7h1.3M1167.0 448.1h1.3M1152.8 455.3h1.3M1135.9 451.5h1.3M1139.5 448.8h1.3M1168.5 458.4h1.3M1170.1 453.9h1.3M1143.5 464.3h1.3M1180.9 452.3h1.3M1136.6 460.8h1.3M1144.2 454.8h1.3M1146.5 468.7h1.3M1153.4 463.8h1.3M1141.2 460.2h1.3M1155.7 448.2h1.3M1157.9 464.9h1.3M1159.6 457.8h1.3M1140.7 452.0h1.3M1144.3 448.6h1.3M1167.0 454.2h1.3M1141.3 454.6h1.3M1139.4 464.2h1.3M1152.1 453.3h1.3M1149.0 451.6h1.3M1137.4 461.9h1.3M1169.0 455.6h1.3M1157.1 454.9h1.3M1140.6 451.6h1.3M1136.7 461.6h1.3M1140.8 460.8h1.3M1145.0 453.5h1.3M1163.1 457.5h1.3M1149.4 457.5h1.3M1140.0 450.2h1.3M1164.1 461.4h1.3M1140.0 463.2h1.3M1157.6 467.7h1.3M1143.9 457.0h1.3M1136.3 455.7h1.3M1136.3 455.7h1.3M1135.9 444.7h1.3M1180.4 453.7h1.3M1138.2 445.0h1.3M1136.3 462.5h1.3M1136.7 462.1h1.3M1168.8 445.7h1.3M1163.2 466.3h1.3M1151.4 450.1h1.3M1136.8 451.0h1.3M1162.9 453.9h1.3M1145.6 459.2h1.3M1137.2 459.7h1.3M1137.8 457.8h1.3M1150.4 454.7h1.3M1159.7 453.9h1.3M1151.6 452.2h1.3M1135.9 463.9h1.3M1146.8 462.4h1.3M1136.3 463.8h1.3M1135.3 460.2h1.3M1137.7 461.1h1.3M1139.7 463.5h1.3M1141.6 456.3h1.3M1137.3 466.2h1.3M1143.2 455.8h1.3M1136.6 461.4h1.3M1173.2 452.1h1.3M1136.7 461.9h1.3M1162.6 452.5h1.3M1147.6 449.1h1.3M1144.2 448.3h1.3M1161.0 447.8h1.3M1149.1 455.9h1.3M1142.3 447.1h1.3M1138.6 450.2h1.3M1140.4 467.3h1.3M1159.0 465.8h1.3M1145.7 457.8h1.3M1160.5 458.3h1.3M1140.7 456.2h1.3M1150.3 446.8h1.3M1145.1 458.2h1.3M1135.8 462.0h1.3M1136.7 452.5h1.3M1147.7 455.7h1.3M1141.7 464.5h1.3M1143.2 459.5h1.3" stroke="#30d8f8" stroke-width="1.3" fill="none"/>
<path d="M1142.0 448.7h1.3M1136.6 454.4h1.3M1136.7 454.8h1.3M1143.1 453.3h1.3M1138.2 456.4h1.3M1146.2 460.0h1.3M1144.1 461.9h1.3M1149.1 454.3h1.3M1136.7 460.9h1.3M1135.7 456.8h1.3M1139.2 458.2h1.3M1139.7 456.7h1.3M1140.5 456.6h1.3M1149.1 451.5h1.3M1137.4 455.3h1.3M1144.1 451.4h1.3M1143.9 448.7h1.3M1143.8 467.3h1.3M1136.4 452.4h1.3M1137.2 459.8h1.3M1142.0 451.6h1.3M1167.1 451.9h1.3M1135.4 452.8h1.3M1140.8 467.4h1.3M1139.1 453.1h1.3M1139.6 452.4h1.3M1137.5 456.0h1.3M1152.4 448.4h1.3M1138.2 454.1h1.3M1141.2 453.8h1.3M1141.5 447.6h1.3M1138.3 459.2h1.3M1138.0 456.9h1.3M1136.1 453.4h1.3M1137.9 456.4h1.3M1144.5 452.5h1.3M1135.3 448.8h1.3M1141.6 459.2h1.3M1150.6 446.3h1.3M1149.6 457.5h1.3M1139.4 462.3h1.3M1140.2 449.7h1.3M1135.7 451.9h1.3M1152.2 455.6h1.3M1154.3 451.6h1.3M1137.6 452.5h1.3M1145.8 454.9h1.3M1142.5 446.2h1.3M1136.3 463.9h1.3M1151.8 455.2h1.3M1135.6 464.0h1.3M1136.0 450.8h1.3M1135.3 457.8h1.3M1138.5 462.3h1.3M1147.3 455.9h1.3M1137.5 449.3h1.3M1136.0 448.0h1.3M1137.5 448.2h1.3M1148.8 450.0h1.3M1143.2 448.6h1.3M1136.7 454.5h1.3M1135.4 450.6h1.3M1161.3 446.5h1.3M1162.6 452.3h1.3M1167.5 454.3h1.3M1140.1 458.3h1.3M1148.8 455.9h1.3M1147.1 458.3h1.3M1143.7 450.8h1.3M1158.0 455.4h1.3M1159.9 459.7h1.3M1143.7 456.5h1.3M1154.8 464.8h1.3M1137.0 452.3h1.3M1162.4 462.8h1.3M1135.6 451.8h1.3M1140.0 448.5h1.3M1137.0 457.8h1.3M1136.9 461.3h1.3M1148.8 457.1h1.3M1163.4 465.5h1.3M1165.2 466.8h1.3M1135.9 459.6h1.3M1141.3 453.5h1.3M1143.6 468.5h1.3M1140.1 455.4h1.3M1135.6 446.7h1.3M1140.8 457.1h1.3M1137.1 452.9h1.3M1137.4 451.6h1.3M1150.0 456.2h1.3M1138.7 460.8h1.3M1135.4 451.1h1.3M1143.2 451.0h1.3M1142.7 464.2h1.3M1137.1 450.2h1.3M1139.0 452.5h1.3M1135.9 451.4h1.3M1137.4 452.5h1.3M1136.1 455.6h1.3M1139.8 448.3h1.3M1136.4 450.8h1.3M1138.1 460.6h1.3M1143.6 447.9h1.3M1136.7 454.7h1.3M1136.5 458.2h1.3M1137.1 456.6h1.3M1156.9 450.4h1.3M1138.2 455.3h1.3M1144.1 446.2h1.3M1135.4 451.4h1.3M1149.3 465.0h1.3M1137.3 463.7h1.3M1159.2 458.3h1.3M1151.6 452.1h1.3M1137.0 450.0h1.3M1160.0 454.8h1.3M1139.7 460.3h1.3M1147.8 449.9h1.3M1149.8 447.6h1.3M1140.0 454.3h1.3M1136.6 456.7h1.3M1149.6 450.2h1.3M1142.3 450.2h1.3M1146.7 448.4h1.3M1137.5 459.1h1.3M1140.0 460.6h1.3M1142.9 447.1h1.3M1164.4 451.6h1.3M1149.9 449.0h1.3M1139.9 459.6h1.3M1143.2 456.9h1.3M1139.1 458.2h1.3M1141.7 450.4h1.3M1141.5 450.8h1.3M1154.8 446.5h1.3M1140.8 450.9h1.3M1157.5 464.5h1.3M1139.3 458.3h1.3M1137.7 452.2h1.3M1165.0 443.7h1.3M1136.9 449.0h1.3M1155.3 454.5h1.3M1146.0 451.3h1.3M1140.3 449.8h1.3M1135.4 462.3h1.3M1136.8 448.2h1.3M1148.3 447.3h1.3M1137.4 451.1h1.3M1138.4 453.4h1.3M1158.8 465.4h1.3M1136.5 451.9h1.3M1155.8 461.9h1.3M1136.6 460.8h1.3M1149.5 455.1h1.3M1150.5 447.3h1.3M1141.4 458.9h1.3M1157.6 464.4h1.3M1144.4 454.3h1.3M1139.7 459.5h1.3M1144.8 448.9h1.3M1141.0 456.4h1.3M1147.8 462.5h1.3M1135.6 447.3h1.3M1158.4 450.2h1.3M1139.3 445.9h1.3M1145.5 450.8h1.3M1153.6 459.0h1.3M1155.2 449.3h1.3M1142.3 458.2h1.3M1141.9 471.9h1.3M1137.6 458.9h1.3M1154.0 464.6h1.3M1138.9 453.9h1.3M1138.2 458.4h1.3M1141.2 465.2h1.3M1159.2 452.4h1.3M1156.9 453.6h1.3M1143.6 449.8h1.3M1137.5 450.1h1.3M1141.9 451.4h1.3M1146.5 456.5h1.3M1143.7 453.4h1.3M1152.0 448.4h1.3M1150.1 456.6h1.3M1149.5 457.6h1.3M1142.7 448.6h1.3M1155.9 451.6h1.3M1146.8 450.6h1.3M1138.9 464.6h1.3M1138.0 459.4h1.3M1150.2 452.0h1.3M1139.2 454.0h1.3M1140.6 453.9h1.3M1139.7 452.8h1.3M1146.4 464.5h1.3M1162.6 447.3h1.3M1140.3 448.9h1.3M1136.5 451.2h1.3M1139.1 455.8h1.3M1140.8 454.4h1.3M1136.3 453.2h1.3M1137.5 460.9h1.3M1170.2 462.2h1.3M1137.7 452.3h1.3M1166.6 451.9h1.3M1159.5 446.6h1.3M1137.9 461.8h1.3M1152.5 456.3h1.3M1138.7 459.0h1.3M1142.3 457.4h1.3M1153.0 450.3h1.3M1140.2 450.7h1.3M1148.2 459.1h1.3M1142.1 455.4h1.3M1153.9 459.9h1.3M1138.6 465.5h1.3M1138.1 460.4h1.3M1148.6 460.7h1.3M1146.3 463.7h1.3M1140.5 456.2h1.3M1150.1 466.9h1.3M1136.3 448.9h1.3M1135.3 453.3h1.3M1144.6 456.5h1.3M1144.4 450.9h1.3M1156.7 450.6h1.3M1138.1 454.8h1.3M1136.2 450.5h1.3M1139.8 459.3h1.3M1148.2 453.5h1.3M1140.8 447.1h1.3M1144.0 450.6h1.3M1135.9 456.6h1.3M1137.3 456.7h1.3M1145.1 460.4h1.3M1135.9 451.1h1.3M1140.0 451.0h1.3M1138.7 463.1h1.3M1150.4 449.8h1.3M1142.5 458.3h1.3M1140.4 448.1h1.3M1155.3 454.2h1.3M1142.1 448.3h1.3M1159.5 455.7h1.3M1138.6 454.7h1.3M1143.9 468.1h1.3M1140.1 451.4h1.3M1139.9 462.3h1.3M1140.7 454.9h1.3M1139.2 446.0h1.3M1136.6 454.1h1.3M1152.3 461.8h1.3M1145.2 459.3h1.3M1136.9 453.8h1.3M1166.7 455.2h1.3M1140.2 464.5h1.3M1139.4 458.0h1.3M1142.5 451.6h1.3M1140.6 462.8h1.3M1136.5 459.1h1.3M1136.0 447.4h1.3M1154.8 454.5h1.3M1136.8 453.5h1.3M1170.4 456.6h1.3M1164.1 457.6h1.3M1157.4 453.1h1.3M1137.5 448.5h1.3M1145.5 450.9h1.3M1142.7 464.6h1.3M1144.3 449.7h1.3M1138.5 452.3h1.3M1138.8 458.2h1.3M1151.7 453.8h1.3M1139.2 452.2h1.3M1139.1 451.2h1.3M1149.1 453.0h1.3M1155.4 452.1h1.3M1144.5 449.7h1.3M1148.4 457.1h1.3M1140.2 448.3h1.3M1137.9 454.4h1.3M1135.5 453.0h1.3M1151.6 456.1h1.3M1135.8 459.8h1.3M1139.9 446.6h1.3M1145.2 452.4h1.3M1142.3 462.4h1.3M1146.7 450.8h1.3M1138.7 458.5h1.3M1149.7 445.3h1.3M1156.7 463.8h1.3M1139.9 459.5h1.3M1136.8 445.4h1.3M1144.2 450.3h1.3M1136.7 455.7h1.3M1143.7 464.4h1.3M1149.2 449.9h1.3M1142.4 458.0h1.3M1146.9 450.4h1.3M1141.2 445.2h1.3M1154.5 454.8h1.3M1138.2 458.2h1.3M1135.6 456.5h1.3M1143.7 454.9h1.3M1163.6 445.5h1.3M1140.3 461.8h1.3M1136.2 454.6h1.3M1140.0 446.3h1.3M1139.2 448.5h1.3M1138.7 462.4h1.3M1152.2 465.1h1.3M1141.0 449.7h1.3M1139.4 452.4h1.3M1137.2 461.3h1.3M1162.1 447.3h1.3M1149.2 452.3h1.3M1157.2 450.7h1.3M1135.3 463.6h1.3M1138.2 440.3h1.3M1140.1 462.9h1.3M1135.8 457.2h1.3M1145.1 456.0h1.3M1146.0 449.4h1.3M1160.0 452.8h1.3M1136.1 455.9h1.3M1136.4 446.9h1.3M1165.4 454.8h1.3M1144.7 451.8h1.3M1159.0 449.0h1.3M1145.0 451.6h1.3M1135.3 450.3h1.3M1137.7 453.6h1.3M1150.6 451.0h1.3M1147.9 463.6h1.3M1140.9 460.3h1.3M1142.4 455.4h1.3M1140.7 446.8h1.3M1137.8 458.8h1.3M1137.0 450.2h1.3M1155.4 452.7h1.3M1139.5 463.1h1.3M1136.2 457.7h1.3M1135.7 445.8h1.3M1146.5 454.4h1.3M1135.8 457.6h1.3M1141.6 452.1h1.3M1158.9 456.0h1.3M1136.2 460.3h1.3M1158.4 452.2h1.3M1135.5 452.3h1.3M1154.4 451.8h1.3M1152.2 464.0h1.3M1135.9 461.3h1.3M1139.7 456.1h1.3M1137.2 451.4h1.3M1146.9 452.2h1.3M1136.7 459.1h1.3M1145.4 452.6h1.3M1160.8 461.6h1.3M1138.1 461.9h1.3M1139.2 458.3h1.3M1136.6 455.0h1.3M1138.3 459.5h1.3M1139.1 454.6h1.3M1140.3 447.5h1.3M1138.5 459.3h1.3M1141.5 448.2h1.3M1139.5 456.4h1.3M1141.8 448.2h1.3M1136.7 460.0h1.3M1136.6 449.1h1.3M1138.5 451.3h1.3M1136.6 458.3h1.3M1149.9 454.7h1.3M1139.0 455.6h1.3M1137.9 449.4h1.3M1168.0 449.1h1.3M1172.5 461.7h1.3M1146.6 449.9h1.3" stroke="#22ee30" stroke-width="1.3" fill="none"/>
<path d="M1140.6 450.6h1.3M1138.0 455.6h1.3M1139.6 453.3h1.3M1135.7 455.3h1.3M1139.0 455.2h1.3M1141.1 460.7h1.3M1148.3 454.9h1.3M1138.7 454.4h1.3M1160.0 456.7h1.3M1136.1 454.2h1.3M1136.1 462.0h1.3M1139.8 455.6h1.3M1139.1 457.5h1.3M1146.6 460.3h1.3M1137.0 456.6h1.3M1142.0 451.4h1.3M1137.5 458.4h1.3M1136.7 452.2h1.3M1138.1 453.1h1.3M1136.2 452.8h1.3M1158.8 449.4h1.3M1147.6 455.7h1.3M1137.3 458.9h1.3M1135.8 461.6h1.3M1145.6 448.8h1.3M1141.9 454.9h1.3M1144.2 456.1h1.3M1137.4 459.3h1.3M1136.7 455.3h1.3M1140.2 457.6h1.3M1152.7 457.5h1.3M1135.9 461.0h1.3M1137.7 455.3h1.3M1142.3 448.9h1.3M1142.7 450.7h1.3M1136.7 461.2h1.3M1162.7 462.3h1.3M1137.2 453.3h1.3M1137.6 457.8h1.3M1136.6 453.3h1.3M1158.8 460.8h1.3M1135.5 456.3h1.3M1146.9 453.4h1.3M1148.9 462.3h1.3M1145.0 457.1h1.3M1138.7 455.2h1.3M1142.5 454.5h1.3M1135.6 459.2h1.3M1158.9 449.3h1.3M1136.5 451.5h1.3M1137.5 460.4h1.3M1161.2 446.8h1.3M1136.5 452.0h1.3M1135.9 457.5h1.3M1142.4 450.9h1.3M1154.8 450.5h1.3M1141.7 452.8h1.3" stroke="#d0f020" stroke-width="1.3" fill="none"/>
<path d="M1136.4 453.4h1.3M1139.9 461.0h1.3M1138.1 450.5h1.3M1136.6 453.0h1.3M1139.9 454.5h1.3M1139.7 459.5h1.3M1161.5 456.1h1.3M1143.2 449.4h1.3M1143.9 455.2h1.3M1149.1 459.0h1.3M1140.1 449.8h1.3M1135.8 461.3h1.3M1139.7 457.7h1.3M1145.0 451.8h1.3M1138.9 458.1h1.3M1141.5 451.6h1.3M1140.1 460.0h1.3M1169.8 455.1h1.3M1141.5 451.4h1.3M1137.7 457.9h1.3M1135.9 455.9h1.3M1136.5 450.7h1.3M1136.2 454.2h1.3M1150.2 459.8h1.3M1138.2 452.5h1.3M1139.8 461.3h1.3M1140.1 460.7h1.3M1161.3 461.6h1.3" stroke="#ffa010" stroke-width="1.3" fill="none"/>
<path d="M1150.0 445.4h1.3M1149.3 455.2h1.3M1138.8 454.2h1.3M1147.9 449.9h1.3M1136.7 456.7h1.3M1137.9 459.3h1.3M1137.9 461.4h1.3M1145.9 450.6h1.3M1135.3 452.1h1.3M1136.6 455.6h1.3M1137.8 456.6h1.3M1140.1 462.5h1.3M1140.0 451.2h1.3M1139.9 451.3h1.3M1142.2 461.9h1.3M1142.2 453.9h1.3M1135.4 456.3h1.3M1137.9 451.6h1.3M1137.8 450.7h1.3M1136.5 460.7h1.3M1137.8 455.9h1.3M1136.4 460.3h1.3M1141.2 450.5h1.3" stroke="#ff2a10" stroke-width="1.3" fill="none"/>
<rect x="1117.4" y="387.6" width="85.0" height="60.8" fill="none" stroke="#000" stroke-width="1.5"/>
<text x="1025.57" y="445.14" font-size="45.59" textLength="88.91" lengthAdjust="spacingAndGlyphs">5.08</text>
<rect x="674.9" y="78.0" width="5.0" height="130.6" fill="#000"/>
<path d="M677.4 62.4L687.6 81.8H667.2Z" fill="#000"/>
<rect x="674.9" y="431.0" width="5.0" height="181.0" fill="#000"/>
<text x="679.83" y="407.67" font-size="46.90" textLength="152.28" lengthAdjust="spacingAndGlyphs" transform="rotate(-90 679.83 407.67)">TMCO1</text>
<rect x="729.6" y="634.0" width="161.6" height="3.8" fill="#000"/>
<rect x="1064.0" y="634.0" width="137.0" height="3.8" fill="#000"/>
<path d="M1219.2 636L1199.4 626V646Z" fill="#000"/>
<text x="916.00" y="668.02" font-size="48.17" textLength="119.49" lengthAdjust="spacingAndGlyphs">Vα7.2</text>
</g>
<g id="panelC">
<text x="1295.54" y="38.11" font-size="48.59" textLength="45.12" lengthAdjust="spacingAndGlyphs">C.</text>
<text x="1517.25" y="72.60" font-size="35.71" textLength="110.71" lengthAdjust="spacingAndGlyphs">p=0.02</text>
<rect x="1414.3" y="97.0" width="4.8" height="334.0" fill="#000"/>
<rect x="1398.9" y="426.9" width="351.1" height="3.8" fill="#000"/>
<rect x="1398.6" y="427.2" width="18.0" height="4.0" fill="#000"/>
<rect x="1398.6" y="361.3" width="18.0" height="4.0" fill="#000"/>
<rect x="1398.6" y="295.4" width="18.0" height="4.0" fill="#000"/>
<rect x="1398.6" y="229.5" width="18.0" height="4.0" fill="#000"/>
<rect x="1398.6" y="163.6" width="18.0" height="4.0" fill="#000"/>
<rect x="1398.6" y="97.7" width="18.0" height="4.0" fill="#000"/>
<rect x="1508.7" y="428.8" width="5.4" height="14.5" fill="#000"/>
<rect x="1652.1" y="428.8" width="5.4" height="14.5" fill="#000"/>
<text x="1333.31" y="123.65" font-size="44.65" textLength="50.98" lengthAdjust="spacingAndGlyphs">25</text>
<text x="1330.97" y="187.65" font-size="44.65" textLength="51.92" lengthAdjust="spacingAndGlyphs">20</text>
<text x="1334.19" y="251.35" font-size="45.14" textLength="47.68" lengthAdjust="spacingAndGlyphs">15</text>
<text x="1329.65" y="319.65" font-size="44.51" textLength="48.22" lengthAdjust="spacingAndGlyphs">10</text>
<text x="1348.55" y="381.35" font-size="45.14" textLength="24.35" lengthAdjust="spacingAndGlyphs">5</text>
<text x="1349.28" y="449.15" font-size="44.51" textLength="25.69" lengthAdjust="spacingAndGlyphs">0</text>
<text x="1462.79" y="488.82" font-size="48.03" textLength="63.45" lengthAdjust="spacingAndGlyphs">NC</text>
<text x="1583.97" y="488.82" font-size="47.69" textLength="123.54" lengthAdjust="spacingAndGlyphs">HFRS</text>
<text x="1317.44" y="425.68" font-size="45.77" textLength="326.39" lengthAdjust="spacingAndGlyphs" transform="rotate(-90 1317.44 425.68)">TMCO1<tspan dy="-16.48" font-size="27.46">+</tspan><tspan dy="16.48" font-size="45.77"> MAIT%</tspan></text>
<rect x="1510.8" y="112.9" width="149.2" height="7.2" fill="#000"/>
<rect x="1510.8" y="101.1" width="7.4" height="30.5" fill="#000"/>
<rect x="1652.6" y="101.1" width="7.4" height="30.5" fill="#000"/>
<text x="1576.23" y="112.77" font-size="34.19" textLength="20.16" lengthAdjust="spacingAndGlyphs" font-family='"DejaVu Sans", sans-serif' font-weight="bold">*</text>
<rect x="1463.9" y="238.9" width="95.8" height="4.4" fill="#1010FF"/>
<rect x="1510.0" y="201.9" width="3.8" height="78.5" fill="#1010FF"/>
<rect x="1487.7" y="200.2" width="48.0" height="3.4" fill="#1010FF"/>
<rect x="1487.7" y="278.7" width="48.0" height="3.4" fill="#1010FF"/>
<ellipse cx="1511.6" cy="138.4" rx="6.6" ry="5.7" fill="#1010FF"/>
<ellipse cx="1511.6" cy="224.1" rx="6.6" ry="5.7" fill="#1010FF"/>
<ellipse cx="1523.6" cy="297.3" rx="6.6" ry="5.7" fill="#1010FF"/>
<ellipse cx="1499.6" cy="305.1" rx="6.6" ry="5.7" fill="#1010FF"/>
<rect x="1606.4" y="360.8" width="96.6" height="4.7" fill="#FF1C0E"/>
<rect x="1653.4" y="352.3" width="2.6" height="21.0" fill="#FF1C0E"/>
<rect x="1630.3" y="351.2" width="49.0" height="2.2" fill="#FF1C0E"/>
<rect x="1630.3" y="371.8" width="49.0" height="2.6" fill="#FF1C0E"/>
<rect x="1648.9" y="328.5" width="12.8" height="10.0" fill="#FF1C0E"/>
<rect x="1648.9" y="357.1" width="12.8" height="10.8" fill="#FF1C0E"/>
<rect x="1635.8" y="372.9" width="13.6" height="9.9" fill="#FF1C0E"/>
<rect x="1660.8" y="372.9" width="13.1" height="9.9" fill="#FF1C0E"/>
</g>
<g id="panelD">
<text x="22.94" y="767.60" font-size="43.91" textLength="46.99" lengthAdjust="spacingAndGlyphs">D.</text>
<text x="240.41" y="813.26" font-size="53.61" textLength="439.70" lengthAdjust="spacingAndGlyphs">Gate on MAIT cells</text>
<text x="250.64" y="878.81" font-size="44.71" textLength="336.47" lengthAdjust="spacingAndGlyphs" fill="#C65C1C">Ionomycin (5μM)</text>
<path d="M332.4 896H349V962.7H358L340.9 979.6L323.8 962.7H332.4Z" fill="#C65C1C"/>
<rect x="218.1" y="1016.0" width="475.4" height="470.4" fill="#fff" stroke="#000" stroke-width="1.9"/>
<rect x="213.5" y="997.7" width="477.7" height="20.2" fill="#7030A0"/>
<rect x="321.0" y="980.4" width="368.2" height="20.6" fill="#C65C1C"/>
<text x="233.81" y="1059.45" font-size="44.06" textLength="261.10" lengthAdjust="spacingAndGlyphs" fill="#7030A0">EGTA (5mM)</text>
<path d="M210.8 1461.3H218.1M210.8 1437.9H218.1M210.8 1414.5H218.1M210.8 1367.5H218.1M210.8 1344.1H218.1M210.8 1320.6H218.1M210.8 1273.8H218.1M210.8 1250.3H218.1M210.8 1226.8H218.1M210.8 1179.9H218.1M210.8 1156.5H218.1M210.8 1133.0H218.1M210.8 1086.1H218.1M210.8 1062.7H218.1M210.8 1039.2H218.1" stroke="#000" stroke-width="1.4" fill="none"/>
<path d="M203.8 1484.8H218.1M203.8 1391.0H218.1M203.8 1297.2H218.1M203.8 1203.4H218.1M203.8 1109.6H218.1M203.8 1015.8H218.1" stroke="#000" stroke-width="2.3" fill="none"/>
<path d="M232.5 1486.4V1493.2M248.3 1486.4V1493.2M264.2 1486.4V1493.2M280.0 1486.4V1493.2M294.1 1486.4V1499.0M311.8 1486.4V1493.2M327.6 1486.4V1493.2M343.5 1486.4V1493.2M359.3 1486.4V1493.2M373.4 1486.4V1499.0M391.1 1486.4V1493.2M406.9 1486.4V1493.2M422.8 1486.4V1493.2M438.6 1486.4V1493.2M452.7 1486.4V1499.0M470.4 1486.4V1493.2M486.2 1486.4V1493.2M502.1 1486.4V1493.2M517.9 1486.4V1493.2M532.0 1486.4V1499.0M549.7 1486.4V1493.2M565.5 1486.4V1493.2M581.4 1486.4V1493.2M597.2 1486.4V1493.2M611.3 1486.4V1499.0M629.0 1486.4V1493.2M644.8 1486.4V1493.2M660.7 1486.4V1493.2M676.5 1486.4V1493.2M690.6 1486.4V1499.0" stroke="#000" stroke-width="1.6" fill="none"/>
<text x="185.70" y="1485.33" font-size="16.90" textLength="9.52" lengthAdjust="spacingAndGlyphs">0</text>
<text x="176.46" y="1398.33" font-size="16.90" textLength="18.75" lengthAdjust="spacingAndGlyphs">20</text>
<text x="176.97" y="1304.53" font-size="16.90" textLength="18.22" lengthAdjust="spacingAndGlyphs">40</text>
<text x="176.46" y="1210.73" font-size="16.90" textLength="18.75" lengthAdjust="spacingAndGlyphs">60</text>
<text x="176.63" y="1116.93" font-size="16.78" textLength="18.57" lengthAdjust="spacingAndGlyphs">80</text>
<text x="168.92" y="1030.13" font-size="16.90" textLength="26.25" lengthAdjust="spacingAndGlyphs">100</text>
<text x="285.58" y="1519.83" font-size="16.62" textLength="18.57" lengthAdjust="spacingAndGlyphs">50</text>
<text x="360.22" y="1519.83" font-size="16.62" textLength="27.32" lengthAdjust="spacingAndGlyphs">100</text>
<text x="439.52" y="1519.83" font-size="16.62" textLength="27.32" lengthAdjust="spacingAndGlyphs">150</text>
<text x="519.24" y="1519.83" font-size="16.62" textLength="26.89" lengthAdjust="spacingAndGlyphs">200</text>
<text x="598.54" y="1519.83" font-size="16.62" textLength="26.89" lengthAdjust="spacingAndGlyphs">250</text>
<text x="664.69" y="1519.83" font-size="16.62" textLength="26.64" lengthAdjust="spacingAndGlyphs">300</text>
<polyline points="218.8,1331.5 220.1,1329.5 221.4,1324.0 222.6,1315.5 223.9,1313.4 225.0,1318.5 226.1,1317.6 227.1,1308.2 228.2,1302.7 229.3,1303.0 230.3,1298.4 231.2,1303.5 232.0,1313.4 233.1,1309.7 234.2,1300.5 235.2,1292.1 236.3,1289.9 237.4,1298.9 238.5,1304.8 239.5,1298.0 240.6,1294.1 241.7,1293.0 242.7,1285.6 244.0,1284.3 245.3,1287.7 246.4,1285.4 247.4,1277.0 248.3,1269.8 249.1,1265.3 250.2,1274.6 251.3,1279.2 252.6,1273.1 253.8,1272.8 254.9,1276.8 256.0,1277.0 257.0,1282.2 258.1,1294.1 259.2,1283.5 260.2,1266.4 261.3,1274.5 262.4,1285.6 263.4,1280.6 264.5,1272.8 265.6,1276.6 266.7,1285.6 267.7,1279.3 268.8,1266.4 269.9,1275.9 270.9,1289.9 272.0,1277.8 273.1,1262.1 274.1,1269.4 275.2,1281.3 276.3,1275.3 277.3,1266.4 278.4,1270.9 279.5,1279.2 280.5,1276.2 281.6,1268.5 282.7,1269.3 283.7,1274.9 284.8,1269.3 285.9,1259.9 286.9,1266.6 288.0,1277.0 289.1,1272.5 290.2,1264.2 291.2,1271.5 292.3,1283.4 293.4,1272.6 294.4,1257.8 295.5,1262.8 296.6,1270.6 297.4,1260.4 298.3,1243.9 299.3,1247.2 300.4,1255.7 301.5,1261.6 302.5,1262.1 303.6,1252.8 304.7,1247.1 305.7,1253.8 306.8,1253.5 307.7,1248.2 308.5,1249.3 309.2,1235.4" fill="none" stroke="#1010FF" stroke-width="2.9" stroke-linejoin="miter" stroke-miterlimit="6"/>
<polyline points="376.2,1268.5 377.8,1268.1 379.4,1258.9 380.5,1261.5 381.6,1272.8 382.4,1274.7 383.3,1272.8 384.1,1282.0 385.0,1295.2 386.0,1289.1 386.9,1274.9 388.0,1269.5 389.1,1271.7 390.1,1279.0 391.2,1279.2 392.3,1275.5 393.3,1277.0 394.8,1283.4 396.5,1266.1 398.2,1241.8 399.5,1250.6 400.8,1266.4 401.7,1274.0 402.5,1274.9 404.0,1273.2 405.5,1276.0 406.9,1292.3 408.3,1302.7 409.4,1301.9 410.4,1306.9 411.5,1321.4 412.6,1328.3 413.6,1313.1 414.7,1306.9 415.6,1310.2 416.4,1304.8 417.4,1303.7 418.3,1309.1 419.2,1319.6 420.0,1324.0 421.1,1322.0 422.2,1325.1 423.2,1300.3 424.3,1271.7 425.2,1277.8 426.0,1287.7 427.1,1294.5 428.2,1295.2 429.2,1276.0 430.3,1262.1 431.6,1256.9 432.9,1246.1 433.9,1260.5 435.0,1283.4 436.1,1278.1 437.1,1266.4 439.1,1248.1 441.0,1236.4 442.3,1260.2 443.5,1279.2 444.8,1269.3 446.1,1263.2 448.0,1265.8 449.9,1263.2 451.2,1273.3 452.5,1287.7 454.4,1290.9 456.4,1287.7 457.6,1288.6 458.9,1298.4 440.0,1236.4 440.9,1260.4 441.7,1277.0 443.5,1267.8 445.3,1263.2 447.5,1267.4 449.6,1263.2 450.7,1271.5 451.7,1287.7 453.6,1292.0 455.4,1288.8 456.8,1288.3 458.2,1296.3 459.2,1266.4 460.1,1290.0 460.9,1305.9 462.0,1285.4 463.1,1272.8 464.4,1286.2 465.6,1294.1 466.7,1282.2 467.8,1279.2 469.4,1282.5 471.0,1277.0 472.5,1245.0 473.9,1269.5 475.2,1298.4 477.4,1276.6 479.5,1247.1 481.4,1269.0 483.4,1298.4 486.3,1281.2 489.1,1257.8 490.2,1272.7 491.3,1294.1 492.3,1287.6 493.4,1274.9 496.1,1271.7 498.7,1277.0 500.4,1276.5 502.0,1269.6 503.0,1269.3 504.1,1277.0 506.2,1287.3 508.4,1292.0 510.0,1284.6 511.6,1285.6 513.2,1301.6 514.8,1309.1 516.9,1287.9 519.0,1272.8 520.6,1275.0 522.2,1270.6 523.3,1277.0 524.4,1292.0 525.5,1276.5 526.5,1253.5 528.1,1256.8 529.7,1266.4 531.9,1290.1 534.0,1309.1 535.6,1282.9 537.2,1262.1 538.8,1278.6 540.4,1287.7 542.0,1271.6 543.6,1259.9 545.2,1272.7 546.8,1277.0 548.4,1286.3 550.0,1300.5 551.6,1306.9 553.2,1304.8 554.8,1313.9 556.4,1328.3 558.0,1319.9 559.6,1302.7 561.4,1309.6 563.3,1324.0 565.2,1304.8 567.1,1279.2 568.7,1283.5 570.3,1294.1 572.5,1298.8 574.6,1296.3 577.3,1281.1 579.9,1272.8 581.5,1293.6 583.1,1309.1 585.3,1285.4 587.4,1266.4 589.0,1280.2 590.6,1287.7 592.2,1286.6 593.8,1294.1 595.4,1288.0 597.0,1274.9 598.6,1287.9 600.2,1304.8 601.8,1311.0 603.4,1309.1 605.0,1318.1 606.6,1334.7 608.8,1309.1 610.9,1274.9 612.5,1282.2 614.1,1294.1 616.6,1274.4 619.0,1247.1 620.3,1263.3 621.6,1283.4 623.1,1313.4 623.9,1302.0 624.8,1283.4 626.4,1275.6 628.0,1272.8 630.1,1299.7 632.3,1321.9 633.3,1306.0 634.4,1298.4 636.0,1302.6 637.6,1302.7 639.2,1297.3 640.8,1298.4 642.9,1308.9 645.1,1311.2 646.7,1303.4 648.3,1300.5 649.9,1306.1 651.5,1306.9 653.1,1298.5 654.7,1298.4 655.8,1291.7 656.8,1279.2 658.3,1304.8 659.2,1286.1 660.0,1274.9 661.6,1289.6 663.2,1300.5 664.5,1292.4 665.8,1289.9 667.2,1306.0 668.6,1317.6 670.2,1327.9 671.8,1345.4 673.4,1327.1 675.0,1304.8 676.1,1296.2 677.1,1296.3 678.2,1304.5 679.3,1309.1 680.9,1293.6 682.5,1285.6 684.1,1283.2 685.7,1277.0 686.7,1281.0 687.8,1289.9 689.9,1288.5 692.1,1279.2" fill="none" stroke="#1010FF" stroke-width="2.9" stroke-linejoin="miter" stroke-miterlimit="6"/>
<polyline points="218.8,1278.1 223.5,1293.1 235.9,1277.0 243.8,1234.3 249.6,1289.9 254.5,1224.7 262.6,1227.5 267.9,1237.5 275.2,1210.8 280.8,1292.0 288.0,1220.4 299.3,1312.3" fill="none" stroke="#FF1C0E" stroke-width="3.0" stroke-linejoin="miter" stroke-miterlimit="6"/>
<polyline points="344.2,1078.4 351.2,1210.8 357.0,1151.0 362.8,1255.7 369.8,1207.6 376.2,1268.5 383.3,1268.5 388.6,1114.3 396.1,1199.7 401.2,1138.2 407.2,1315.1 414.7,1241.8 420.7,1289.9 427.9,1107.2 433.3,1232.2 438.8,1097.6 446.0,1249.3 451.7,1155.3 459.2,1137.7 465.2,1191.6 472.0,1121.1 478.0,1190.5 490.8,1090.1 496.6,1313.4 503.7,1099.3 508.4,1239.7 515.2,1340.1 522.2,1248.2 528.0,1119.0 535.1,1116.4 541.0,1323.6 546.8,1146.7 554.3,1285.6 567.8,1191.6 572.9,1099.3 579.9,1333.7 585.9,1264.2 591.3,1326.2 598.1,1230.0 604.1,1184.1 617.7,1232.2 623.1,1050.6 631.2,1248.2 635.9,1280.9 642.5,1283.0 648.3,1263.2 656.4,1030.7 662.2,1172.4 667.9,1264.2 674.6,1326.2 680.8,1317.6 688.2,1247.1" fill="none" stroke="#FF1C0E" stroke-width="3.0" stroke-linejoin="miter" stroke-miterlimit="6"/>
<path d="M367 1449.6L368.4 1447.2" stroke="#1010FF" stroke-width="2"/>
<text x="157.35" y="1407.54" font-size="50.27" textLength="314.63" lengthAdjust="spacingAndGlyphs" transform="rotate(-90 157.35 1407.54)">Fluo3/fura red</text>
<text x="358.67" y="1578.11" font-size="49.95" textLength="187.22" lengthAdjust="spacingAndGlyphs">Time (s)</text>
<rect x="729.6" y="1058.8" width="72.0" height="4.0" fill="#1010FF"/>
<rect x="730.4" y="1107.7" width="73.0" height="4.8" fill="#FF1C0E"/>
<text x="829.85" y="1077.86" font-size="54.08" textLength="73.13" lengthAdjust="spacingAndGlyphs">NC</text>
<text x="829.20" y="1137.05" font-size="54.83" textLength="139.66" lengthAdjust="spacingAndGlyphs">HFRS</text>
<text x="1149.22" y="972.08" font-size="51.84" textLength="439.49" lengthAdjust="spacingAndGlyphs">Gate on MAIT cells</text>
<rect x="1240.2" y="1027.0" width="5.6" height="474.7" fill="#000"/>
<rect x="1221.9" y="1496.1" width="420.5" height="5.6" fill="#000"/>
<rect x="1221.9" y="1496.1" width="22.0" height="5.6" fill="#000"/>
<rect x="1221.9" y="1377.8" width="22.0" height="5.6" fill="#000"/>
<rect x="1221.9" y="1260.2" width="22.0" height="5.6" fill="#000"/>
<rect x="1221.9" y="1143.2" width="22.0" height="5.6" fill="#000"/>
<rect x="1221.9" y="1027.0" width="22.0" height="5.6" fill="#000"/>
<rect x="1353.3" y="1498.9" width="5.8" height="20.2" fill="#000"/>
<rect x="1523.1" y="1498.9" width="5.8" height="20.2" fill="#000"/>
<text x="1180.44" y="1042.27" font-size="43.08" textLength="25.88" lengthAdjust="spacingAndGlyphs">8</text>
<text x="1179.92" y="1165.97" font-size="43.38" textLength="26.43" lengthAdjust="spacingAndGlyphs">6</text>
<text x="1181.43" y="1279.28" font-size="44.32" textLength="24.10" lengthAdjust="spacingAndGlyphs">4</text>
<text x="1179.90" y="1397.60" font-size="44.00" textLength="26.72" lengthAdjust="spacingAndGlyphs">2</text>
<text x="1180.71" y="1514.47" font-size="43.38" textLength="25.34" lengthAdjust="spacingAndGlyphs">0</text>
<text x="1320.98" y="1557.72" font-size="47.89" textLength="65.30" lengthAdjust="spacingAndGlyphs">NC</text>
<text x="1456.04" y="1561.42" font-size="48.39" textLength="124.48" lengthAdjust="spacingAndGlyphs">HFRS</text>
<text x="1387.04" y="1064.75" font-size="34.07" textLength="111.14" lengthAdjust="spacingAndGlyphs">p=0.03</text>
<rect x="1352.4" y="1113.3" width="173.2" height="7.6" fill="#000"/>
<rect x="1352.4" y="1096.1" width="7.6" height="42.6" fill="#000"/>
<rect x="1518.0" y="1096.1" width="7.6" height="42.6" fill="#000"/>
<text x="1427.69" y="1113.89" font-size="49.25" textLength="23.83" lengthAdjust="spacingAndGlyphs" font-family='"DejaVu Sans", sans-serif' font-weight="bold">*</text>
<text x="1108.16" y="1454.43" font-size="44.49" textLength="369.05" lengthAdjust="spacingAndGlyphs" transform="rotate(-90 1108.16 1454.43)">Relative Ca<tspan dy="-16.02" font-size="26.69">2+</tspan><tspan dy="16.02" font-size="44.49"> store</tspan></text>
<text x="1162.70" y="1392.86" font-size="44.28" textLength="244.34" lengthAdjust="spacingAndGlyphs" transform="rotate(-90 1162.70 1392.86)">(peak/basal)</text>
<rect x="1299.3" y="1389.2" width="113.7" height="6.0" fill="#1010FF"/>
<rect x="1354.5" y="1383.7" width="3.4" height="16.7" fill="#1010FF"/>
<rect x="1328.1" y="1382.0" width="56.5" height="3.4" fill="#1010FF"/>
<rect x="1328.1" y="1398.7" width="56.5" height="3.4" fill="#1010FF"/>
<ellipse cx="1356.2" cy="1335.4" rx="5.5" ry="5.4" fill="#1010FF"/>
<ellipse cx="1346.6" cy="1365.2" rx="5.5" ry="5.4" fill="#1010FF"/>
<ellipse cx="1365.7" cy="1364.2" rx="5.5" ry="5.4" fill="#1010FF"/>
<ellipse cx="1385" cy="1369.3" rx="5.5" ry="5.4" fill="#1010FF"/>
<ellipse cx="1327" cy="1376.7" rx="5.5" ry="5.4" fill="#1010FF"/>
<ellipse cx="1346.6" cy="1377.1" rx="5.5" ry="5.4" fill="#1010FF"/>
<ellipse cx="1365.7" cy="1384.8" rx="5.5" ry="5.4" fill="#1010FF"/>
<ellipse cx="1385" cy="1384.3" rx="5.5" ry="5.4" fill="#1010FF"/>
<ellipse cx="1346.6" cy="1389.9" rx="5.5" ry="5.4" fill="#1010FF"/>
<ellipse cx="1327" cy="1421" rx="5.5" ry="5.4" fill="#1010FF"/>
<ellipse cx="1346.6" cy="1427.1" rx="5.5" ry="5.4" fill="#1010FF"/>
<ellipse cx="1365.7" cy="1432.1" rx="5.5" ry="5.4" fill="#1010FF"/>
<ellipse cx="1385" cy="1429.6" rx="5.5" ry="5.4" fill="#1010FF"/>
<ellipse cx="1327" cy="1433.1" rx="5.5" ry="5.4" fill="#1010FF"/>
<rect x="1469.4" y="1345.3" width="113.1" height="6.0" fill="#FF1C0E"/>
<rect x="1524.5" y="1330.2" width="3.0" height="35.6" fill="#FF1C0E"/>
<rect x="1496.7" y="1328.6" width="57.3" height="3.2" fill="#FF1C0E"/>
<rect x="1496.7" y="1364.2" width="57.3" height="3.2" fill="#FF1C0E"/>
<rect x="1520.4" y="1145.8" width="11.2" height="10.2" fill="#FF1C0E"/>
<rect x="1520.4" y="1230.8" width="11.2" height="10.2" fill="#FF1C0E"/>
<rect x="1520.4" y="1298.0" width="11.2" height="10.2" fill="#FF1C0E"/>
<rect x="1510.7" y="1315.5" width="11.2" height="10.2" fill="#FF1C0E"/>
<rect x="1530.2" y="1319.0" width="11.2" height="10.2" fill="#FF1C0E"/>
<rect x="1510.7" y="1341.2" width="11.2" height="10.2" fill="#FF1C0E"/>
<rect x="1530.2" y="1348.4" width="11.2" height="10.2" fill="#FF1C0E"/>
<rect x="1510.7" y="1356.0" width="11.2" height="10.2" fill="#FF1C0E"/>
<rect x="1520.4" y="1367.9" width="11.2" height="10.2" fill="#FF1C0E"/>
<rect x="1491.1" y="1384.8" width="11.2" height="10.2" fill="#FF1C0E"/>
<rect x="1530.2" y="1384.8" width="11.2" height="10.2" fill="#FF1C0E"/>
<rect x="1510.7" y="1390.6" width="11.2" height="10.2" fill="#FF1C0E"/>
<rect x="1510.7" y="1398.8" width="11.2" height="10.2" fill="#FF1C0E"/>
<rect x="1491.1" y="1402.9" width="11.2" height="10.2" fill="#FF1C0E"/>
<rect x="1530.2" y="1401.5" width="11.2" height="10.2" fill="#FF1C0E"/>
<rect x="1549.8" y="1400.2" width="11.2" height="10.2" fill="#FF1C0E"/>
</g>
</svg>
</body>
</html>
